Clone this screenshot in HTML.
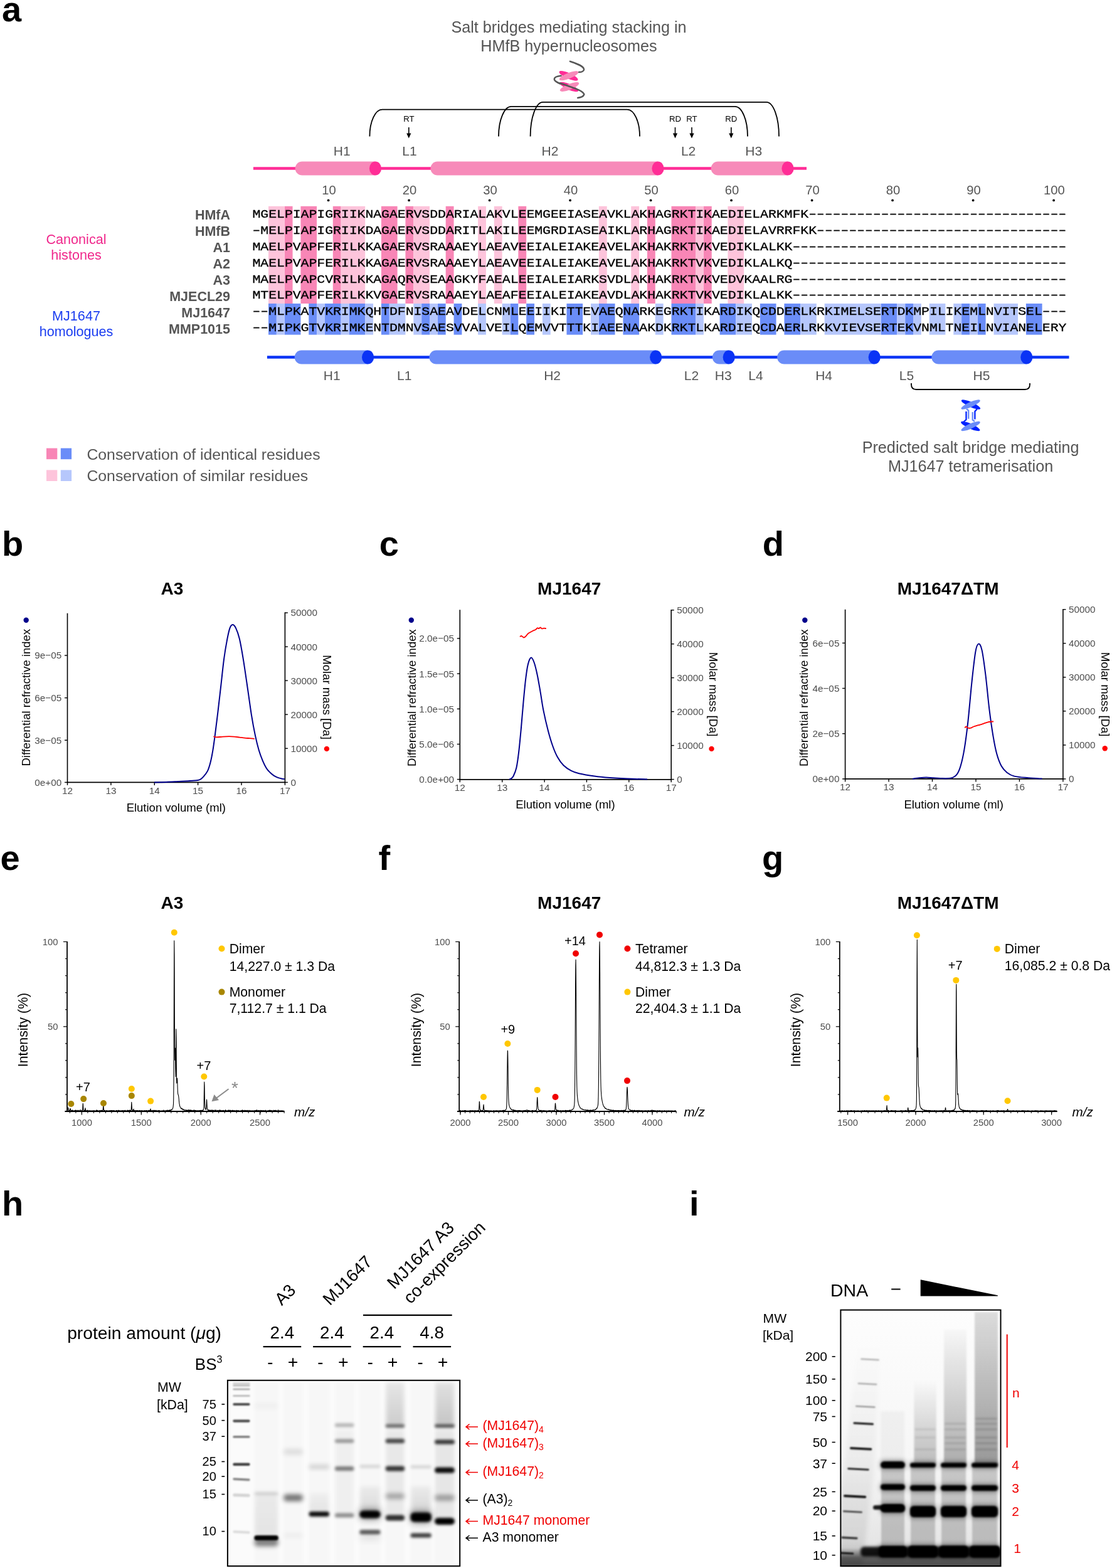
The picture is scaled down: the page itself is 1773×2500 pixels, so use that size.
<!DOCTYPE html>
<html><head><meta charset="utf-8"><title>Figure</title>
<style>
html,body{margin:0;padding:0;background:#fff;}
body{width:1773px;height:2500px;overflow:hidden;}
svg{display:block;}
</style></head><body>
<svg width="1773" height="2500" viewBox="0 0 1773 2500">
<rect width="1773" height="2500" fill="#fff"/>
<text x="3.0" y="33.5" font-size="56" fill="#000" text-anchor="start" font-weight="bold" font-family="'Liberation Sans', Arial, Helvetica, sans-serif" >a</text>
<text x="907.0" y="52.3" font-size="25.2" fill="#555" text-anchor="middle" font-weight="normal" font-family="'Liberation Sans', Arial, Helvetica, sans-serif" >Salt bridges mediating stacking in</text>
<text x="907.0" y="82.0" font-size="25.2" fill="#555" text-anchor="middle" font-weight="normal" font-family="'Liberation Sans', Arial, Helvetica, sans-serif" >HMfB hypernucleosomes</text>
<rect x="453.70" y="328.8" width="12.85" height="155.2" fill="#F886B6"/>
<rect x="479.40" y="328.8" width="25.70" height="155.2" fill="#F886B6"/>
<rect x="530.80" y="328.8" width="12.85" height="155.2" fill="#F886B6"/>
<rect x="607.90" y="328.8" width="25.70" height="155.2" fill="#F886B6"/>
<rect x="646.45" y="328.8" width="12.85" height="155.2" fill="#F886B6"/>
<rect x="710.70" y="328.8" width="12.85" height="155.2" fill="#F886B6"/>
<rect x="826.35" y="328.8" width="12.85" height="155.2" fill="#F886B6"/>
<rect x="1031.95" y="328.8" width="12.85" height="155.2" fill="#F886B6"/>
<rect x="1070.50" y="328.8" width="38.55" height="155.2" fill="#F886B6"/>
<rect x="1121.90" y="328.8" width="12.85" height="155.2" fill="#F886B6"/>
<rect x="428.00" y="328.8" width="25.70" height="155.2" fill="#FDC4DB"/>
<rect x="543.65" y="328.8" width="38.55" height="155.2" fill="#FDC4DB"/>
<rect x="659.30" y="328.8" width="25.70" height="155.2" fill="#FDC4DB"/>
<rect x="762.10" y="328.8" width="12.85" height="155.2" fill="#FDC4DB"/>
<rect x="787.80" y="328.8" width="12.85" height="155.2" fill="#FDC4DB"/>
<rect x="954.85" y="328.8" width="12.85" height="155.2" fill="#FDC4DB"/>
<rect x="1006.25" y="328.8" width="12.85" height="155.2" fill="#FDC4DB"/>
<rect x="1109.05" y="328.8" width="12.85" height="155.2" fill="#FDC4DB"/>
<rect x="1160.45" y="328.8" width="25.70" height="155.2" fill="#FDC4DB"/>
<rect x="428.00" y="484.0" width="12.85" height="49.7" fill="#6A8DF8"/>
<rect x="453.70" y="484.0" width="25.70" height="49.7" fill="#6A8DF8"/>
<rect x="492.25" y="484.0" width="12.85" height="49.7" fill="#6A8DF8"/>
<rect x="517.95" y="484.0" width="25.70" height="49.7" fill="#6A8DF8"/>
<rect x="556.50" y="484.0" width="25.70" height="49.7" fill="#6A8DF8"/>
<rect x="607.90" y="484.0" width="12.85" height="49.7" fill="#6A8DF8"/>
<rect x="672.15" y="484.0" width="12.85" height="49.7" fill="#6A8DF8"/>
<rect x="697.85" y="484.0" width="12.85" height="49.7" fill="#6A8DF8"/>
<rect x="723.55" y="484.0" width="12.85" height="49.7" fill="#6A8DF8"/>
<rect x="813.50" y="484.0" width="12.85" height="49.7" fill="#6A8DF8"/>
<rect x="839.20" y="484.0" width="12.85" height="49.7" fill="#6A8DF8"/>
<rect x="903.45" y="484.0" width="25.70" height="49.7" fill="#6A8DF8"/>
<rect x="954.85" y="484.0" width="25.70" height="49.7" fill="#6A8DF8"/>
<rect x="993.40" y="484.0" width="25.70" height="49.7" fill="#6A8DF8"/>
<rect x="1070.50" y="484.0" width="38.55" height="49.7" fill="#6A8DF8"/>
<rect x="1147.60" y="484.0" width="25.70" height="49.7" fill="#6A8DF8"/>
<rect x="1211.85" y="484.0" width="25.70" height="49.7" fill="#6A8DF8"/>
<rect x="1250.40" y="484.0" width="25.70" height="49.7" fill="#6A8DF8"/>
<rect x="1404.60" y="484.0" width="25.70" height="49.7" fill="#6A8DF8"/>
<rect x="1443.15" y="484.0" width="12.85" height="49.7" fill="#6A8DF8"/>
<rect x="1533.10" y="484.0" width="12.85" height="49.7" fill="#6A8DF8"/>
<rect x="1558.80" y="484.0" width="12.85" height="49.7" fill="#6A8DF8"/>
<rect x="1635.90" y="484.0" width="25.70" height="49.7" fill="#6A8DF8"/>
<rect x="440.85" y="484.0" width="12.85" height="49.7" fill="#B6C7FC"/>
<rect x="505.10" y="484.0" width="12.85" height="49.7" fill="#B6C7FC"/>
<rect x="543.65" y="484.0" width="12.85" height="49.7" fill="#B6C7FC"/>
<rect x="582.20" y="484.0" width="12.85" height="49.7" fill="#B6C7FC"/>
<rect x="620.75" y="484.0" width="25.70" height="49.7" fill="#B6C7FC"/>
<rect x="659.30" y="484.0" width="12.85" height="49.7" fill="#B6C7FC"/>
<rect x="685.00" y="484.0" width="12.85" height="49.7" fill="#B6C7FC"/>
<rect x="762.10" y="484.0" width="12.85" height="49.7" fill="#B6C7FC"/>
<rect x="800.65" y="484.0" width="12.85" height="49.7" fill="#B6C7FC"/>
<rect x="864.90" y="484.0" width="12.85" height="49.7" fill="#B6C7FC"/>
<rect x="942.00" y="484.0" width="12.85" height="49.7" fill="#B6C7FC"/>
<rect x="1044.80" y="484.0" width="12.85" height="49.7" fill="#B6C7FC"/>
<rect x="1109.05" y="484.0" width="12.85" height="49.7" fill="#B6C7FC"/>
<rect x="1173.30" y="484.0" width="25.70" height="49.7" fill="#B6C7FC"/>
<rect x="1276.10" y="484.0" width="25.70" height="49.7" fill="#B6C7FC"/>
<rect x="1314.65" y="484.0" width="89.95" height="49.7" fill="#B6C7FC"/>
<rect x="1430.30" y="484.0" width="12.85" height="49.7" fill="#B6C7FC"/>
<rect x="1456.00" y="484.0" width="12.85" height="49.7" fill="#B6C7FC"/>
<rect x="1481.70" y="484.0" width="25.70" height="49.7" fill="#B6C7FC"/>
<rect x="1520.25" y="484.0" width="12.85" height="49.7" fill="#B6C7FC"/>
<rect x="1545.95" y="484.0" width="12.85" height="49.7" fill="#B6C7FC"/>
<rect x="1584.50" y="484.0" width="38.55" height="49.7" fill="#B6C7FC"/>
<text x="346.98 358.06 369.14 380.22 391.29 402.37 413.45 424.53 435.60 446.68 457.76 468.84 479.91 490.99 502.07 513.15 524.22 535.30 546.38 557.46 568.53 579.61 590.69 601.77 612.84 623.92 635.00 646.08 657.16 668.23 679.31 690.39 701.47 712.54 723.62 734.70 745.78 756.85 767.93 779.01 790.09 801.16 812.24 823.32 834.40 845.47 856.55 867.63 878.71 889.78 900.86 911.94 923.02 934.09 945.17 956.25 967.33 978.41 989.48 1000.56 1011.64 1022.72 1033.79 1044.87 1055.95 1067.03 1078.10 1089.18 1100.26" y="347.4" font-size="18.6" font-family="'Liberation Mono', 'Courier New', monospace" fill="#000" stroke="#000" stroke-width="0.3" transform="scale(1.16,1)">MGELPIAPIGRIIKNAGAERVSDDARIALAKVLEEMGEEIASEAVKLAKHAGRKTIKAEDIELARKMFK</text>
<text x="747.64 755.11 762.58 770.05 777.52 784.99 792.46 799.93 807.41 814.88 822.35 829.82 837.29 844.76 852.23 859.70 867.17 874.64 882.11 889.59 897.06 904.53 912.00 919.47 926.94 934.41 941.88 949.35 956.82 964.29 971.77 979.24" y="347.4" font-size="18.6" font-family="'Liberation Mono', 'Courier New', monospace" fill="#000" stroke="#000" stroke-width="0.35" transform="scale(1.72,1)">--------------------------------</text>
<text x="367.0" y="349.6" font-size="21.5" fill="#555" text-anchor="end" font-weight="bold" font-family="'Liberation Sans', Arial, Helvetica, sans-serif" >HMfA</text>
<text x="358.06 369.14 380.22 391.29 402.37 413.45 424.53 435.60 446.68 457.76 468.84 479.91 490.99 502.07 513.15 524.22 535.30 546.38 557.46 568.53 579.61 590.69 601.77 612.84 623.92 635.00 646.08 657.16 668.23 679.31 690.39 701.47 712.54 723.62 734.70 745.78 756.85 767.93 779.01 790.09 801.16 812.24 823.32 834.40 845.47 856.55 867.63 878.71 889.78 900.86 911.94 923.02 934.09 945.17 956.25 967.33 978.41 989.48 1000.56 1011.64 1022.72 1033.79 1044.87 1055.95 1067.03 1078.10 1089.18 1100.26 1111.34" y="373.2" font-size="18.6" font-family="'Liberation Mono', 'Courier New', monospace" fill="#000" stroke="#000" stroke-width="0.3" transform="scale(1.16,1)">MELPIAPIGRIIKDAGAERVSDDARITLAKILEEMGRDIASEAIKLARHAGRKTIKAEDIELAVRRFKK</text>
<text x="232.14 755.11 762.58 770.05 777.52 784.99 792.46 799.93 807.41 814.88 822.35 829.82 837.29 844.76 852.23 859.70 867.17 874.64 882.11 889.59 897.06 904.53 912.00 919.47 926.94 934.41 941.88 949.35 956.82 964.29 971.77 979.24" y="373.2" font-size="18.6" font-family="'Liberation Mono', 'Courier New', monospace" fill="#000" stroke="#000" stroke-width="0.35" transform="scale(1.72,1)">--------------------------------</text>
<text x="367.0" y="375.7" font-size="21.5" fill="#555" text-anchor="end" font-weight="bold" font-family="'Liberation Sans', Arial, Helvetica, sans-serif" >HMfB</text>
<text x="346.98 358.06 369.14 380.22 391.29 402.37 413.45 424.53 435.60 446.68 457.76 468.84 479.91 490.99 502.07 513.15 524.22 535.30 546.38 557.46 568.53 579.61 590.69 601.77 612.84 623.92 635.00 646.08 657.16 668.23 679.31 690.39 701.47 712.54 723.62 734.70 745.78 756.85 767.93 779.01 790.09 801.16 812.24 823.32 834.40 845.47 856.55 867.63 878.71 889.78 900.86 911.94 923.02 934.09 945.17 956.25 967.33 978.41 989.48 1000.56 1011.64 1022.72 1033.79 1044.87 1055.95 1067.03 1078.10" y="399.0" font-size="18.6" font-family="'Liberation Mono', 'Courier New', monospace" fill="#000" stroke="#000" stroke-width="0.3" transform="scale(1.16,1)">MAELPVAPFERILKKAGAERVSRAAAEYLAEAVEEIALEIAKEAVELAKHAKRKTVKVEDIKLALKK</text>
<text x="732.70 740.17 747.64 755.11 762.58 770.05 777.52 784.99 792.46 799.93 807.41 814.88 822.35 829.82 837.29 844.76 852.23 859.70 867.17 874.64 882.11 889.59 897.06 904.53 912.00 919.47 926.94 934.41 941.88 949.35 956.82 964.29 971.77 979.24" y="399.0" font-size="18.6" font-family="'Liberation Mono', 'Courier New', monospace" fill="#000" stroke="#000" stroke-width="0.35" transform="scale(1.72,1)">----------------------------------</text>
<text x="367.0" y="401.8" font-size="21.5" fill="#555" text-anchor="end" font-weight="bold" font-family="'Liberation Sans', Arial, Helvetica, sans-serif" >A1</text>
<text x="346.98 358.06 369.14 380.22 391.29 402.37 413.45 424.53 435.60 446.68 457.76 468.84 479.91 490.99 502.07 513.15 524.22 535.30 546.38 557.46 568.53 579.61 590.69 601.77 612.84 623.92 635.00 646.08 657.16 668.23 679.31 690.39 701.47 712.54 723.62 734.70 745.78 756.85 767.93 779.01 790.09 801.16 812.24 823.32 834.40 845.47 856.55 867.63 878.71 889.78 900.86 911.94 923.02 934.09 945.17 956.25 967.33 978.41 989.48 1000.56 1011.64 1022.72 1033.79 1044.87 1055.95 1067.03 1078.10" y="424.9" font-size="18.6" font-family="'Liberation Mono', 'Courier New', monospace" fill="#000" stroke="#000" stroke-width="0.3" transform="scale(1.16,1)">MAELPVAPFERILKKAGAERVSRAAAEYLAEAVEEIALEIAKEAVELAKHAKRKTVKVEDIKLALKQ</text>
<text x="732.70 740.17 747.64 755.11 762.58 770.05 777.52 784.99 792.46 799.93 807.41 814.88 822.35 829.82 837.29 844.76 852.23 859.70 867.17 874.64 882.11 889.59 897.06 904.53 912.00 919.47 926.94 934.41 941.88 949.35 956.82 964.29 971.77 979.24" y="424.9" font-size="18.6" font-family="'Liberation Mono', 'Courier New', monospace" fill="#000" stroke="#000" stroke-width="0.35" transform="scale(1.72,1)">----------------------------------</text>
<text x="367.0" y="427.9" font-size="21.5" fill="#555" text-anchor="end" font-weight="bold" font-family="'Liberation Sans', Arial, Helvetica, sans-serif" >A2</text>
<text x="346.98 358.06 369.14 380.22 391.29 402.37 413.45 424.53 435.60 446.68 457.76 468.84 479.91 490.99 502.07 513.15 524.22 535.30 546.38 557.46 568.53 579.61 590.69 601.77 612.84 623.92 635.00 646.08 657.16 668.23 679.31 690.39 701.47 712.54 723.62 734.70 745.78 756.85 767.93 779.01 790.09 801.16 812.24 823.32 834.40 845.47 856.55 867.63 878.71 889.78 900.86 911.94 923.02 934.09 945.17 956.25 967.33 978.41 989.48 1000.56 1011.64 1022.72 1033.79 1044.87 1055.95 1067.03 1078.10" y="450.7" font-size="18.6" font-family="'Liberation Mono', 'Courier New', monospace" fill="#000" stroke="#000" stroke-width="0.3" transform="scale(1.16,1)">MAELPVAPCVRILKKAGAQRVSEAAGKYFAEALEEIALEIARKSVDLAKHAKRKTVKVEDVKAALRG</text>
<text x="732.70 740.17 747.64 755.11 762.58 770.05 777.52 784.99 792.46 799.93 807.41 814.88 822.35 829.82 837.29 844.76 852.23 859.70 867.17 874.64 882.11 889.59 897.06 904.53 912.00 919.47 926.94 934.41 941.88 949.35 956.82 964.29 971.77 979.24" y="450.7" font-size="18.6" font-family="'Liberation Mono', 'Courier New', monospace" fill="#000" stroke="#000" stroke-width="0.35" transform="scale(1.72,1)">----------------------------------</text>
<text x="367.0" y="454.0" font-size="21.5" fill="#555" text-anchor="end" font-weight="bold" font-family="'Liberation Sans', Arial, Helvetica, sans-serif" >A3</text>
<text x="346.98 358.06 369.14 380.22 391.29 402.37 413.45 424.53 435.60 446.68 457.76 468.84 479.91 490.99 502.07 513.15 524.22 535.30 546.38 557.46 568.53 579.61 590.69 601.77 612.84 623.92 635.00 646.08 657.16 668.23 679.31 690.39 701.47 712.54 723.62 734.70 745.78 756.85 767.93 779.01 790.09 801.16 812.24 823.32 834.40 845.47 856.55 867.63 878.71 889.78 900.86 911.94 923.02 934.09 945.17 956.25 967.33 978.41 989.48 1000.56 1011.64 1022.72 1033.79 1044.87 1055.95 1067.03 1078.10" y="476.5" font-size="18.6" font-family="'Liberation Mono', 'Courier New', monospace" fill="#000" stroke="#000" stroke-width="0.3" transform="scale(1.16,1)">MTELPVAPFERILKKVGAERVSRAAAEYLAEAFEEIALEIAKEAVDLAKHAKRKTVKVEDIKLALKK</text>
<text x="732.70 740.17 747.64 755.11 762.58 770.05 777.52 784.99 792.46 799.93 807.41 814.88 822.35 829.82 837.29 844.76 852.23 859.70 867.17 874.64 882.11 889.59 897.06 904.53 912.00 919.47 926.94 934.41 941.88 949.35 956.82 964.29 971.77 979.24" y="476.5" font-size="18.6" font-family="'Liberation Mono', 'Courier New', monospace" fill="#000" stroke="#000" stroke-width="0.35" transform="scale(1.72,1)">----------------------------------</text>
<text x="367.0" y="480.1" font-size="21.5" fill="#555" text-anchor="end" font-weight="bold" font-family="'Liberation Sans', Arial, Helvetica, sans-serif" >MJECL29</text>
<text x="369.14 380.22 391.29 402.37 413.45 424.53 435.60 446.68 457.76 468.84 479.91 490.99 502.07 513.15 524.22 535.30 546.38 557.46 568.53 579.61 590.69 601.77 612.84 623.92 635.00 646.08 657.16 668.23 679.31 690.39 701.47 712.54 723.62 734.70 745.78 756.85 767.93 779.01 790.09 801.16 812.24 823.32 834.40 845.47 856.55 867.63 878.71 889.78 900.86 911.94 923.02 934.09 945.17 956.25 967.33 978.41 989.48 1000.56 1011.64 1022.72 1033.79 1044.87 1055.95 1067.03 1078.10 1089.18 1100.26 1111.34 1122.41 1133.49 1144.57 1155.65 1166.72 1177.80 1188.88 1199.96 1211.03 1222.11 1233.19 1244.27 1255.34 1266.42 1277.50 1288.58 1299.66 1310.73 1321.81 1332.89 1343.97 1355.04 1366.12 1377.20 1388.28 1399.35 1410.43 1421.51" y="502.3" font-size="18.6" font-family="'Liberation Mono', 'Courier New', monospace" fill="#000" stroke="#000" stroke-width="0.3" transform="scale(1.16,1)">MLPKATVKRIMKQHTDFNISAEAVDELCNMLEEIIKITTEVAEQNARKEGRKTIKARDIKQCDDERLKRKIMELSERTDKMPILIKEMLNVITSEL</text>
<text x="232.14 239.61 964.29 971.77 979.24" y="502.3" font-size="18.6" font-family="'Liberation Mono', 'Courier New', monospace" fill="#000" stroke="#000" stroke-width="0.35" transform="scale(1.72,1)">-----</text>
<text x="367.0" y="506.2" font-size="21.5" fill="#555" text-anchor="end" font-weight="bold" font-family="'Liberation Sans', Arial, Helvetica, sans-serif" >MJ1647</text>
<text x="369.14 380.22 391.29 402.37 413.45 424.53 435.60 446.68 457.76 468.84 479.91 490.99 502.07 513.15 524.22 535.30 546.38 557.46 568.53 579.61 590.69 601.77 612.84 623.92 635.00 646.08 657.16 668.23 679.31 690.39 701.47 712.54 723.62 734.70 745.78 756.85 767.93 779.01 790.09 801.16 812.24 823.32 834.40 845.47 856.55 867.63 878.71 889.78 900.86 911.94 923.02 934.09 945.17 956.25 967.33 978.41 989.48 1000.56 1011.64 1022.72 1033.79 1044.87 1055.95 1067.03 1078.10 1089.18 1100.26 1111.34 1122.41 1133.49 1144.57 1155.65 1166.72 1177.80 1188.88 1199.96 1211.03 1222.11 1233.19 1244.27 1255.34 1266.42 1277.50 1288.58 1299.66 1310.73 1321.81 1332.89 1343.97 1355.04 1366.12 1377.20 1388.28 1399.35 1410.43 1421.51 1432.59 1443.66 1454.74" y="528.1" font-size="18.6" font-family="'Liberation Mono', 'Courier New', monospace" fill="#000" stroke="#000" stroke-width="0.3" transform="scale(1.16,1)">MIPKGTVKRIMKENTDMNVSAESVVALVEILQEMVVTTTKIAEENAAKDKRKTLKARDIEQCDAERLRKKVIEVSERTEKVNMLTNEILNVIANELERY</text>
<text x="232.14 239.61" y="528.1" font-size="18.6" font-family="'Liberation Mono', 'Courier New', monospace" fill="#000" stroke="#000" stroke-width="0.35" transform="scale(1.72,1)">--</text>
<text x="367.0" y="532.3" font-size="21.5" fill="#555" text-anchor="end" font-weight="bold" font-family="'Liberation Sans', Arial, Helvetica, sans-serif" >MMP1015</text>
<text x="121.5" y="388.5" font-size="21.6" fill="#F0288C" text-anchor="middle" font-weight="normal" font-family="'Liberation Sans', Arial, Helvetica, sans-serif" >Canonical</text>
<text x="121.5" y="414.4" font-size="21.6" fill="#F0288C" text-anchor="middle" font-weight="normal" font-family="'Liberation Sans', Arial, Helvetica, sans-serif" >histones</text>
<text x="121.5" y="510.8" font-size="21.6" fill="#1A3CF0" text-anchor="middle" font-weight="normal" font-family="'Liberation Sans', Arial, Helvetica, sans-serif" >MJ1647</text>
<text x="121.5" y="535.9" font-size="21.6" fill="#1A3CF0" text-anchor="middle" font-weight="normal" font-family="'Liberation Sans', Arial, Helvetica, sans-serif" >homologues</text>
<text x="524.4" y="309.5" font-size="20.2" fill="#555" text-anchor="middle" font-weight="normal" font-family="'Liberation Sans', Arial, Helvetica, sans-serif" >10</text>
<circle cx="523.6" cy="319.4" r="1.9" fill="#000"/>
<text x="652.9" y="309.5" font-size="20.2" fill="#555" text-anchor="middle" font-weight="normal" font-family="'Liberation Sans', Arial, Helvetica, sans-serif" >20</text>
<circle cx="652.1" cy="319.4" r="1.9" fill="#000"/>
<text x="781.4" y="309.5" font-size="20.2" fill="#555" text-anchor="middle" font-weight="normal" font-family="'Liberation Sans', Arial, Helvetica, sans-serif" >30</text>
<circle cx="780.6" cy="319.4" r="1.9" fill="#000"/>
<text x="909.9" y="309.5" font-size="20.2" fill="#555" text-anchor="middle" font-weight="normal" font-family="'Liberation Sans', Arial, Helvetica, sans-serif" >40</text>
<circle cx="909.1" cy="319.4" r="1.9" fill="#000"/>
<text x="1038.4" y="309.5" font-size="20.2" fill="#555" text-anchor="middle" font-weight="normal" font-family="'Liberation Sans', Arial, Helvetica, sans-serif" >50</text>
<circle cx="1037.6" cy="319.4" r="1.9" fill="#000"/>
<text x="1166.9" y="309.5" font-size="20.2" fill="#555" text-anchor="middle" font-weight="normal" font-family="'Liberation Sans', Arial, Helvetica, sans-serif" >60</text>
<circle cx="1166.1" cy="319.4" r="1.9" fill="#000"/>
<text x="1295.4" y="309.5" font-size="20.2" fill="#555" text-anchor="middle" font-weight="normal" font-family="'Liberation Sans', Arial, Helvetica, sans-serif" >70</text>
<circle cx="1294.6" cy="319.4" r="1.9" fill="#000"/>
<text x="1423.9" y="309.5" font-size="20.2" fill="#555" text-anchor="middle" font-weight="normal" font-family="'Liberation Sans', Arial, Helvetica, sans-serif" >80</text>
<circle cx="1423.1" cy="319.4" r="1.9" fill="#000"/>
<text x="1552.4" y="309.5" font-size="20.2" fill="#555" text-anchor="middle" font-weight="normal" font-family="'Liberation Sans', Arial, Helvetica, sans-serif" >90</text>
<circle cx="1551.6" cy="319.4" r="1.9" fill="#000"/>
<text x="1680.9" y="309.5" font-size="20.2" fill="#555" text-anchor="middle" font-weight="normal" font-family="'Liberation Sans', Arial, Helvetica, sans-serif" >100</text>
<circle cx="1680.1" cy="319.4" r="1.9" fill="#000"/>
<line x1="403.9" y1="268.5" x2="1286" y2="268.5" stroke="#FF2D96" stroke-width="4.6"/>
<path d="M481.8,257.4 H598.5 V279.6 H481.8 A11.1,11.1 0 0 1 481.8,257.4 Z" fill="#F78AB9"/>
<ellipse cx="598.5" cy="268.5" rx="9.6" ry="11.1" fill="#FF2D96"/>
<path d="M697.6,257.4 H1049.0 V279.6 H697.6 A11.1,11.1 0 0 1 697.6,257.4 Z" fill="#F78AB9"/>
<ellipse cx="1049.0" cy="268.5" rx="9.6" ry="11.1" fill="#FF2D96"/>
<path d="M1144.8,257.4 H1256.0 V279.6 H1144.8 A11.1,11.1 0 0 1 1144.8,257.4 Z" fill="#F78AB9"/>
<ellipse cx="1256.0" cy="268.5" rx="9.6" ry="11.1" fill="#FF2D96"/>
<text x="545.3" y="247.6" font-size="21" fill="#555" text-anchor="middle" font-weight="normal" font-family="'Liberation Sans', Arial, Helvetica, sans-serif" >H1</text>
<text x="653.0" y="247.6" font-size="21" fill="#555" text-anchor="middle" font-weight="normal" font-family="'Liberation Sans', Arial, Helvetica, sans-serif" >L1</text>
<text x="877.0" y="247.6" font-size="21" fill="#555" text-anchor="middle" font-weight="normal" font-family="'Liberation Sans', Arial, Helvetica, sans-serif" >H2</text>
<text x="1097.6" y="247.6" font-size="21" fill="#555" text-anchor="middle" font-weight="normal" font-family="'Liberation Sans', Arial, Helvetica, sans-serif" >L2</text>
<text x="1201.7" y="247.6" font-size="21" fill="#555" text-anchor="middle" font-weight="normal" font-family="'Liberation Sans', Arial, Helvetica, sans-serif" >H3</text>
<text x="651.8" y="194.0" font-size="13.2" fill="#000" text-anchor="middle" font-weight="normal" font-family="'Liberation Sans', Arial, Helvetica, sans-serif" >RT</text>
<line x1="651.8" y1="203" x2="651.8" y2="214" stroke="#000" stroke-width="1.6"/>
<path d="M648.2,212.5 L655.4,212.5 L651.8,220.5 Z" fill="#000"/>
<text x="1076.5" y="194.0" font-size="13.2" fill="#000" text-anchor="middle" font-weight="normal" font-family="'Liberation Sans', Arial, Helvetica, sans-serif" >RD</text>
<line x1="1076.5" y1="203" x2="1076.5" y2="214" stroke="#000" stroke-width="1.6"/>
<path d="M1072.9,212.5 L1080.1,212.5 L1076.5,220.5 Z" fill="#000"/>
<text x="1103.0" y="194.0" font-size="13.2" fill="#000" text-anchor="middle" font-weight="normal" font-family="'Liberation Sans', Arial, Helvetica, sans-serif" >RT</text>
<line x1="1103.0" y1="203" x2="1103.0" y2="214" stroke="#000" stroke-width="1.6"/>
<path d="M1099.4,212.5 L1106.6,212.5 L1103.0,220.5 Z" fill="#000"/>
<text x="1165.8" y="194.0" font-size="13.2" fill="#000" text-anchor="middle" font-weight="normal" font-family="'Liberation Sans', Arial, Helvetica, sans-serif" >RD</text>
<line x1="1165.8" y1="203" x2="1165.8" y2="214" stroke="#000" stroke-width="1.6"/>
<path d="M1162.2,212.5 L1169.4,212.5 L1165.8,220.5 Z" fill="#000"/>
<path d="M589.4,217.5 A20,42.8 0 0 1 609.4,174.7 H1000 A20,42.8 0 0 1 1020,217.5" fill="none" stroke="#000" stroke-width="1.8"/>
<path d="M795,217.5 A20,47.6 0 0 1 815,169.9 H1172 A20,47.6 0 0 1 1192,217.5" fill="none" stroke="#000" stroke-width="1.8"/>
<path d="M845.6,217.5 A20,54.7 0 0 1 865.6,162.8 H1222 A20,54.7 0 0 1 1242,217.5" fill="none" stroke="#000" stroke-width="1.8"/>
<g>
<ellipse cx="906.5" cy="120.8" rx="16.3" ry="4.6" transform="rotate(24 906.5 120.8)" fill="#FF2D96"/>
<path d="M908.9,97.9 C918,101 931,105 931.1,110.7 C931,113.5 927,115 923.2,115.1" fill="none" stroke="#555" stroke-width="2.5" stroke-linecap="round"/>
<path d="M894.6,120.8 C888,121.5 883.5,123.5 883.8,126.5 C884.5,131 897,135 904.5,136.8" fill="none" stroke="#555" stroke-width="2.5" stroke-linecap="round"/>
<ellipse cx="907" cy="120.8" rx="16.3" ry="4.6" transform="rotate(-22 907 120.8)" fill="#F78AB9"/>
<ellipse cx="907.5" cy="138.5" rx="16" ry="4.6" transform="rotate(24 907.5 138.5)" fill="#FF2D96"/>
<ellipse cx="908" cy="138.5" rx="16.3" ry="4.6" transform="rotate(-22 908 138.5)" fill="#F78AB9"/>
<path d="M893,132.5 C905,137 918,141 924,144 C930,147 931.5,150 931.1,151 C930,154 925,155.5 921.2,156" fill="none" stroke="#555" stroke-width="2.5" stroke-linecap="round"/>
</g>
<line x1="425.9" y1="569.5" x2="1704.5" y2="569.5" stroke="#0A33F5" stroke-width="4.6"/>
<path d="M480.8,558.4 H586.6 V580.6 H480.8 A11.1,11.1 0 0 1 480.8,558.4 Z" fill="#6A8CF8"/>
<ellipse cx="586.6" cy="569.5" rx="9.6" ry="11.1" fill="#0A33F5"/>
<path d="M695.5,558.4 H1045.7 V580.6 H695.5 A11.1,11.1 0 0 1 695.5,558.4 Z" fill="#6A8CF8"/>
<ellipse cx="1045.7" cy="569.5" rx="9.6" ry="11.1" fill="#0A33F5"/>
<path d="M1146.9,558.4 H1162.2 V580.6 H1146.9 A11.1,11.1 0 0 1 1146.9,558.4 Z" fill="#6A8CF8"/>
<ellipse cx="1162.2" cy="569.5" rx="9.6" ry="11.1" fill="#0A33F5"/>
<path d="M1250.2,558.4 H1394.2 V580.6 H1250.2 A11.1,11.1 0 0 1 1250.2,558.4 Z" fill="#6A8CF8"/>
<ellipse cx="1394.2" cy="569.5" rx="9.6" ry="11.1" fill="#0A33F5"/>
<path d="M1496.4,558.4 H1636.8 V580.6 H1496.4 A11.1,11.1 0 0 1 1496.4,558.4 Z" fill="#6A8CF8"/>
<ellipse cx="1636.8" cy="569.5" rx="9.6" ry="11.1" fill="#0A33F5"/>
<text x="529.3" y="605.5" font-size="21" fill="#555" text-anchor="middle" font-weight="normal" font-family="'Liberation Sans', Arial, Helvetica, sans-serif" >H1</text>
<text x="644.8" y="605.5" font-size="21" fill="#555" text-anchor="middle" font-weight="normal" font-family="'Liberation Sans', Arial, Helvetica, sans-serif" >L1</text>
<text x="880.6" y="605.5" font-size="21" fill="#555" text-anchor="middle" font-weight="normal" font-family="'Liberation Sans', Arial, Helvetica, sans-serif" >H2</text>
<text x="1102.5" y="605.5" font-size="21" fill="#555" text-anchor="middle" font-weight="normal" font-family="'Liberation Sans', Arial, Helvetica, sans-serif" >L2</text>
<text x="1153.3" y="605.5" font-size="21" fill="#555" text-anchor="middle" font-weight="normal" font-family="'Liberation Sans', Arial, Helvetica, sans-serif" >H3</text>
<text x="1205.0" y="605.5" font-size="21" fill="#555" text-anchor="middle" font-weight="normal" font-family="'Liberation Sans', Arial, Helvetica, sans-serif" >L4</text>
<text x="1313.6" y="605.5" font-size="21" fill="#555" text-anchor="middle" font-weight="normal" font-family="'Liberation Sans', Arial, Helvetica, sans-serif" >H4</text>
<text x="1445.4" y="605.5" font-size="21" fill="#555" text-anchor="middle" font-weight="normal" font-family="'Liberation Sans', Arial, Helvetica, sans-serif" >L5</text>
<text x="1565.0" y="605.5" font-size="21" fill="#555" text-anchor="middle" font-weight="normal" font-family="'Liberation Sans', Arial, Helvetica, sans-serif" >H5</text>
<path d="M1453,611 V613 Q1453,621 1461,621 H1634 Q1642,621 1642,613 V611" fill="none" stroke="#000" stroke-width="1.8"/>
<g>
<ellipse cx="1548" cy="645" rx="16.5" ry="4" transform="rotate(24 1548 645)" fill="#0022FF"/>
<ellipse cx="1547.6" cy="645" rx="16.5" ry="4" transform="rotate(-24 1547.6 645)" fill="#6A8CF8"/>
<ellipse cx="1547.3" cy="679.5" rx="16.5" ry="4" transform="rotate(24 1547.3 679.5)" fill="#0022FF"/>
<ellipse cx="1547.6" cy="679.5" rx="16.5" ry="4" transform="rotate(-24 1547.6 679.5)" fill="#6A8CF8"/>
<path d="M1540.5,656 V669 L1536,673" fill="none" stroke="#0022FF" stroke-width="2.3"/>
<path d="M1554.4,668.5 V656 L1558,652" fill="none" stroke="#0022FF" stroke-width="2.3"/>
<path d="M1544.2,667.7 V654.5 L1541,652" fill="none" stroke="#6A8CF8" stroke-width="2.3"/>
<path d="M1550.7,657 V669.5 L1554,672" fill="none" stroke="#6A8CF8" stroke-width="2.3"/>
</g>
<text x="1547.6" y="722.4" font-size="25.2" fill="#555" text-anchor="middle" font-weight="normal" font-family="'Liberation Sans', Arial, Helvetica, sans-serif" >Predicted salt bridge mediating</text>
<text x="1547.6" y="752.3" font-size="25.2" fill="#555" text-anchor="middle" font-weight="normal" font-family="'Liberation Sans', Arial, Helvetica, sans-serif" >MJ1647 tetramerisation</text>
<rect x="74" y="714.6" width="17.3" height="17.6" fill="#F886B6"/>
<rect x="96.8" y="714.6" width="17.3" height="17.6" fill="#6A8DF8"/>
<rect x="74" y="749.4" width="17.3" height="17.6" fill="#FDC4DB"/>
<rect x="96.8" y="749.4" width="17.3" height="17.6" fill="#B6C7FC"/>
<text x="138.4" y="732.5" font-size="24.8" fill="#555" text-anchor="start" font-weight="normal" font-family="'Liberation Sans', Arial, Helvetica, sans-serif" >Conservation of identical residues</text>
<text x="138.4" y="767.0" font-size="24.8" fill="#555" text-anchor="start" font-weight="normal" font-family="'Liberation Sans', Arial, Helvetica, sans-serif" >Conservation of similar residues</text>
<text x="3.0" y="885.5" font-size="56" fill="#000" text-anchor="start" font-weight="bold" font-family="'Liberation Sans', Arial, Helvetica, sans-serif" >b</text>
<text x="274.5" y="947.5" font-size="28" fill="#000" text-anchor="middle" font-weight="bold" font-family="'Liberation Sans', Arial, Helvetica, sans-serif" >A3</text>
<line x1="107.5" y1="977.8" x2="107.5" y2="1248.4" stroke="#000" stroke-width="1.6"/>
<line x1="454.4" y1="976.2" x2="454.4" y2="1248.4" stroke="#000" stroke-width="1.6"/>
<line x1="106.7" y1="1247.4" x2="455.2" y2="1247.4" stroke="#000" stroke-width="1.8"/>
<line x1="107.5" y1="1247.4" x2="107.5" y2="1251.9" stroke="#000" stroke-width="1.4"/>
<text x="107.5" y="1265.9" font-size="15.3" fill="#4D4D4D" text-anchor="middle" font-weight="normal" font-family="'Liberation Sans', Arial, Helvetica, sans-serif" >12</text>
<line x1="176.9" y1="1247.4" x2="176.9" y2="1251.9" stroke="#000" stroke-width="1.4"/>
<text x="176.9" y="1265.9" font-size="15.3" fill="#4D4D4D" text-anchor="middle" font-weight="normal" font-family="'Liberation Sans', Arial, Helvetica, sans-serif" >13</text>
<line x1="246.3" y1="1247.4" x2="246.3" y2="1251.9" stroke="#000" stroke-width="1.4"/>
<text x="246.3" y="1265.9" font-size="15.3" fill="#4D4D4D" text-anchor="middle" font-weight="normal" font-family="'Liberation Sans', Arial, Helvetica, sans-serif" >14</text>
<line x1="315.6" y1="1247.4" x2="315.6" y2="1251.9" stroke="#000" stroke-width="1.4"/>
<text x="315.6" y="1265.9" font-size="15.3" fill="#4D4D4D" text-anchor="middle" font-weight="normal" font-family="'Liberation Sans', Arial, Helvetica, sans-serif" >15</text>
<line x1="385.0" y1="1247.4" x2="385.0" y2="1251.9" stroke="#000" stroke-width="1.4"/>
<text x="385.0" y="1265.9" font-size="15.3" fill="#4D4D4D" text-anchor="middle" font-weight="normal" font-family="'Liberation Sans', Arial, Helvetica, sans-serif" >16</text>
<line x1="454.4" y1="1247.4" x2="454.4" y2="1251.9" stroke="#000" stroke-width="1.4"/>
<text x="454.4" y="1265.9" font-size="15.3" fill="#4D4D4D" text-anchor="middle" font-weight="normal" font-family="'Liberation Sans', Arial, Helvetica, sans-serif" >17</text>
<line x1="103.0" y1="1247.4" x2="107.5" y2="1247.4" stroke="#000" stroke-width="1.4"/>
<text x="98.3" y="1252.8" font-size="15.3" fill="#4D4D4D" text-anchor="end" font-weight="normal" font-family="'Liberation Sans', Arial, Helvetica, sans-serif" >0e+00</text>
<line x1="103.0" y1="1180.2" x2="107.5" y2="1180.2" stroke="#000" stroke-width="1.4"/>
<text x="98.3" y="1185.6" font-size="15.3" fill="#4D4D4D" text-anchor="end" font-weight="normal" font-family="'Liberation Sans', Arial, Helvetica, sans-serif" >3e−05</text>
<line x1="103.0" y1="1112.6" x2="107.5" y2="1112.6" stroke="#000" stroke-width="1.4"/>
<text x="98.3" y="1118.0" font-size="15.3" fill="#4D4D4D" text-anchor="end" font-weight="normal" font-family="'Liberation Sans', Arial, Helvetica, sans-serif" >6e−05</text>
<line x1="103.0" y1="1045.0" x2="107.5" y2="1045.0" stroke="#000" stroke-width="1.4"/>
<text x="98.3" y="1050.4" font-size="15.3" fill="#4D4D4D" text-anchor="end" font-weight="normal" font-family="'Liberation Sans', Arial, Helvetica, sans-serif" >9e−05</text>
<line x1="454.4" y1="1247.4" x2="458.9" y2="1247.4" stroke="#000" stroke-width="1.4"/>
<text x="463.4" y="1252.8" font-size="15.3" fill="#4D4D4D" text-anchor="start" font-weight="normal" font-family="'Liberation Sans', Arial, Helvetica, sans-serif" >0</text>
<line x1="454.4" y1="1193.3" x2="458.9" y2="1193.3" stroke="#000" stroke-width="1.4"/>
<text x="463.4" y="1198.7" font-size="15.3" fill="#4D4D4D" text-anchor="start" font-weight="normal" font-family="'Liberation Sans', Arial, Helvetica, sans-serif" >10000</text>
<line x1="454.4" y1="1139.2" x2="458.9" y2="1139.2" stroke="#000" stroke-width="1.4"/>
<text x="463.4" y="1144.6" font-size="15.3" fill="#4D4D4D" text-anchor="start" font-weight="normal" font-family="'Liberation Sans', Arial, Helvetica, sans-serif" >20000</text>
<line x1="454.4" y1="1085.1" x2="458.9" y2="1085.1" stroke="#000" stroke-width="1.4"/>
<text x="463.4" y="1090.5" font-size="15.3" fill="#4D4D4D" text-anchor="start" font-weight="normal" font-family="'Liberation Sans', Arial, Helvetica, sans-serif" >30000</text>
<line x1="454.4" y1="1031.1" x2="458.9" y2="1031.1" stroke="#000" stroke-width="1.4"/>
<text x="463.4" y="1036.5" font-size="15.3" fill="#4D4D4D" text-anchor="start" font-weight="normal" font-family="'Liberation Sans', Arial, Helvetica, sans-serif" >40000</text>
<line x1="454.4" y1="977.0" x2="458.9" y2="977.0" stroke="#000" stroke-width="1.4"/>
<text x="463.4" y="982.4" font-size="15.3" fill="#4D4D4D" text-anchor="start" font-weight="normal" font-family="'Liberation Sans', Arial, Helvetica, sans-serif" >50000</text>
<text x="0" y="0" font-size="18.5" font-family="'Liberation Sans', Arial, Helvetica, sans-serif" fill="#000" text-anchor="middle" transform="translate(47.9,1112.2) rotate(-90)">Differential refractive index</text>
<circle cx="41.7" cy="988.8" r="4.2" fill="#00008B"/>
<text x="0" y="0" font-size="18.5" font-family="'Liberation Sans', Arial, Helvetica, sans-serif" fill="#000" text-anchor="middle" transform="translate(515.1,1111.7) rotate(90)">Molar mass [Da]</text>
<circle cx="520.9" cy="1193.9" r="4.2" fill="#FF0000"/>
<text x="280.8" y="1294.1" font-size="18.5" fill="#000" text-anchor="middle" font-weight="normal" font-family="'Liberation Sans', Arial, Helvetica, sans-serif" >Elution volume (ml)</text>
<path d="M246.00,1247.40 C249.17,1247.32 259.17,1247.10 265.00,1246.90 C270.83,1246.70 275.17,1246.48 281.00,1246.20 C286.83,1245.92 295.17,1245.47 300.00,1245.20 C304.83,1244.93 307.43,1244.80 310.00,1244.60 C312.57,1244.40 313.82,1244.33 315.40,1244.00 C316.98,1243.67 318.10,1243.45 319.50,1242.60 C320.90,1241.75 321.90,1241.10 323.80,1238.90 C325.70,1236.70 328.93,1233.35 330.90,1229.40 C332.87,1225.45 334.22,1220.53 335.60,1215.20 C336.98,1209.87 338.00,1204.53 339.20,1197.40 C340.40,1190.27 341.42,1182.90 342.80,1172.40 C344.18,1161.90 345.92,1147.67 347.50,1134.40 C349.08,1121.13 350.72,1106.65 352.30,1092.80 C353.88,1078.95 355.42,1063.17 357.00,1051.30 C358.58,1039.43 360.22,1029.92 361.80,1021.60 C363.38,1013.28 364.98,1005.67 366.50,1001.40 C368.02,997.13 369.32,996.00 370.90,996.00 C372.48,996.00 374.15,997.53 376.00,1001.40 C377.85,1005.27 380.02,1010.88 382.00,1019.20 C383.98,1027.52 385.73,1038.03 387.90,1051.30 C390.07,1064.57 392.82,1083.95 395.00,1098.80 C397.18,1113.65 399.02,1128.13 401.00,1140.40 C402.98,1152.67 404.93,1163.10 406.90,1172.40 C408.87,1181.70 410.82,1189.47 412.80,1196.20 C414.78,1202.93 416.82,1208.05 418.80,1212.80 C420.78,1217.55 422.72,1221.53 424.70,1224.70 C426.68,1227.87 428.72,1229.82 430.70,1231.80 C432.68,1233.78 434.63,1235.30 436.60,1236.60 C438.57,1237.90 440.60,1238.83 442.50,1239.60 C444.40,1240.37 446.08,1240.75 448.00,1241.20 C449.92,1241.65 453.00,1242.12 454.00,1242.30" fill="none" stroke="#00008B" stroke-width="2"/>
<path d="M340.40,1174.20 C341.18,1174.40 342.67,1175.33 345.10,1175.40 C347.53,1175.47 351.63,1174.80 355.00,1174.60 C358.37,1174.40 362.20,1174.20 365.30,1174.20 C368.40,1174.20 370.82,1174.37 373.60,1174.60 C376.38,1174.83 379.22,1175.27 382.00,1175.60 C384.78,1175.93 387.63,1176.33 390.30,1176.60 C392.97,1176.87 395.43,1177.00 398.00,1177.20 C400.57,1177.40 404.42,1177.70 405.70,1177.80" fill="none" stroke="#FF0000" stroke-width="1.8"/>
<text x="604.8" y="885.5" font-size="56" fill="#000" text-anchor="start" font-weight="bold" font-family="'Liberation Sans', Arial, Helvetica, sans-serif" >c</text>
<text x="907.7" y="947.5" font-size="28" fill="#000" text-anchor="middle" font-weight="bold" font-family="'Liberation Sans', Arial, Helvetica, sans-serif" >MJ1647</text>
<line x1="733.3" y1="972.2" x2="733.3" y2="1243.8" stroke="#000" stroke-width="1.6"/>
<line x1="1070.2" y1="971.9000000000001" x2="1070.2" y2="1243.8" stroke="#000" stroke-width="1.6"/>
<line x1="732.5" y1="1242.8" x2="1071.0" y2="1242.8" stroke="#000" stroke-width="1.8"/>
<line x1="733.3" y1="1242.8" x2="733.3" y2="1247.3" stroke="#000" stroke-width="1.4"/>
<text x="733.3" y="1261.3" font-size="15.3" fill="#4D4D4D" text-anchor="middle" font-weight="normal" font-family="'Liberation Sans', Arial, Helvetica, sans-serif" >12</text>
<line x1="800.7" y1="1242.8" x2="800.7" y2="1247.3" stroke="#000" stroke-width="1.4"/>
<text x="800.7" y="1261.3" font-size="15.3" fill="#4D4D4D" text-anchor="middle" font-weight="normal" font-family="'Liberation Sans', Arial, Helvetica, sans-serif" >13</text>
<line x1="868.1" y1="1242.8" x2="868.1" y2="1247.3" stroke="#000" stroke-width="1.4"/>
<text x="868.1" y="1261.3" font-size="15.3" fill="#4D4D4D" text-anchor="middle" font-weight="normal" font-family="'Liberation Sans', Arial, Helvetica, sans-serif" >14</text>
<line x1="935.4" y1="1242.8" x2="935.4" y2="1247.3" stroke="#000" stroke-width="1.4"/>
<text x="935.4" y="1261.3" font-size="15.3" fill="#4D4D4D" text-anchor="middle" font-weight="normal" font-family="'Liberation Sans', Arial, Helvetica, sans-serif" >15</text>
<line x1="1002.8" y1="1242.8" x2="1002.8" y2="1247.3" stroke="#000" stroke-width="1.4"/>
<text x="1002.8" y="1261.3" font-size="15.3" fill="#4D4D4D" text-anchor="middle" font-weight="normal" font-family="'Liberation Sans', Arial, Helvetica, sans-serif" >16</text>
<line x1="1070.2" y1="1242.8" x2="1070.2" y2="1247.3" stroke="#000" stroke-width="1.4"/>
<text x="1070.2" y="1261.3" font-size="15.3" fill="#4D4D4D" text-anchor="middle" font-weight="normal" font-family="'Liberation Sans', Arial, Helvetica, sans-serif" >17</text>
<line x1="728.8" y1="1242.6" x2="733.3" y2="1242.6" stroke="#000" stroke-width="1.4"/>
<text x="724.1" y="1248.0" font-size="15.3" fill="#4D4D4D" text-anchor="end" font-weight="normal" font-family="'Liberation Sans', Arial, Helvetica, sans-serif" >0.0e+00</text>
<line x1="728.8" y1="1186.5" x2="733.3" y2="1186.5" stroke="#000" stroke-width="1.4"/>
<text x="724.1" y="1191.9" font-size="15.3" fill="#4D4D4D" text-anchor="end" font-weight="normal" font-family="'Liberation Sans', Arial, Helvetica, sans-serif" >5.0e−06</text>
<line x1="728.8" y1="1130.3" x2="733.3" y2="1130.3" stroke="#000" stroke-width="1.4"/>
<text x="724.1" y="1135.7" font-size="15.3" fill="#4D4D4D" text-anchor="end" font-weight="normal" font-family="'Liberation Sans', Arial, Helvetica, sans-serif" >1.0e−05</text>
<line x1="728.8" y1="1074.1" x2="733.3" y2="1074.1" stroke="#000" stroke-width="1.4"/>
<text x="724.1" y="1079.5" font-size="15.3" fill="#4D4D4D" text-anchor="end" font-weight="normal" font-family="'Liberation Sans', Arial, Helvetica, sans-serif" >1.5e−05</text>
<line x1="728.8" y1="1017.9" x2="733.3" y2="1017.9" stroke="#000" stroke-width="1.4"/>
<text x="724.1" y="1023.3" font-size="15.3" fill="#4D4D4D" text-anchor="end" font-weight="normal" font-family="'Liberation Sans', Arial, Helvetica, sans-serif" >2.0e−05</text>
<line x1="1070.2" y1="1242.6" x2="1074.7" y2="1242.6" stroke="#000" stroke-width="1.4"/>
<text x="1079.2" y="1248.0" font-size="15.3" fill="#4D4D4D" text-anchor="start" font-weight="normal" font-family="'Liberation Sans', Arial, Helvetica, sans-serif" >0</text>
<line x1="1070.2" y1="1188.6" x2="1074.7" y2="1188.6" stroke="#000" stroke-width="1.4"/>
<text x="1079.2" y="1194.0" font-size="15.3" fill="#4D4D4D" text-anchor="start" font-weight="normal" font-family="'Liberation Sans', Arial, Helvetica, sans-serif" >10000</text>
<line x1="1070.2" y1="1134.6" x2="1074.7" y2="1134.6" stroke="#000" stroke-width="1.4"/>
<text x="1079.2" y="1140.0" font-size="15.3" fill="#4D4D4D" text-anchor="start" font-weight="normal" font-family="'Liberation Sans', Arial, Helvetica, sans-serif" >20000</text>
<line x1="1070.2" y1="1080.6" x2="1074.7" y2="1080.6" stroke="#000" stroke-width="1.4"/>
<text x="1079.2" y="1086.0" font-size="15.3" fill="#4D4D4D" text-anchor="start" font-weight="normal" font-family="'Liberation Sans', Arial, Helvetica, sans-serif" >30000</text>
<line x1="1070.2" y1="1026.7" x2="1074.7" y2="1026.7" stroke="#000" stroke-width="1.4"/>
<text x="1079.2" y="1032.1" font-size="15.3" fill="#4D4D4D" text-anchor="start" font-weight="normal" font-family="'Liberation Sans', Arial, Helvetica, sans-serif" >40000</text>
<line x1="1070.2" y1="972.7" x2="1074.7" y2="972.7" stroke="#000" stroke-width="1.4"/>
<text x="1079.2" y="978.1" font-size="15.3" fill="#4D4D4D" text-anchor="start" font-weight="normal" font-family="'Liberation Sans', Arial, Helvetica, sans-serif" >50000</text>
<text x="0" y="0" font-size="18.5" font-family="'Liberation Sans', Arial, Helvetica, sans-serif" fill="#000" text-anchor="middle" transform="translate(663.0,1112.6) rotate(-90)">Differential refractive index</text>
<circle cx="655.8" cy="988.8" r="4.2" fill="#00008B"/>
<text x="0" y="0" font-size="18.5" font-family="'Liberation Sans', Arial, Helvetica, sans-serif" fill="#000" text-anchor="middle" transform="translate(1131.0,1107.1) rotate(90)">Molar mass [Da]</text>
<circle cx="1134.5" cy="1193.9" r="4.2" fill="#FF0000"/>
<text x="901.4" y="1289.3" font-size="18.5" fill="#000" text-anchor="middle" font-weight="normal" font-family="'Liberation Sans', Arial, Helvetica, sans-serif" >Elution volume (ml)</text>
<path d="M812.00,1242.70 C812.42,1242.52 813.42,1242.47 814.50,1241.60 C815.58,1240.73 817.02,1240.43 818.50,1237.50 C819.98,1234.57 821.97,1230.35 823.40,1224.00 C824.83,1217.65 825.87,1209.67 827.10,1199.40 C828.33,1189.13 829.57,1175.75 830.80,1162.40 C832.03,1149.05 833.27,1132.63 834.50,1119.30 C835.73,1105.97 836.97,1092.45 838.20,1082.40 C839.43,1072.35 840.47,1064.65 841.90,1059.00 C843.33,1053.35 845.17,1048.92 846.80,1048.50 C848.43,1048.08 850.05,1051.88 851.70,1056.50 C853.35,1061.12 855.05,1068.40 856.70,1076.20 C858.35,1084.00 859.97,1093.85 861.60,1103.30 C863.23,1112.75 864.45,1122.63 866.50,1132.90 C868.55,1143.17 871.43,1155.47 873.90,1164.90 C876.37,1174.33 878.83,1182.53 881.30,1189.50 C883.77,1196.47 885.83,1201.57 888.70,1206.70 C891.57,1211.83 894.82,1216.60 898.50,1220.30 C902.18,1224.00 906.68,1226.75 910.80,1228.90 C914.92,1231.05 917.03,1231.77 923.20,1233.20 C929.37,1234.63 939.60,1236.37 947.80,1237.50 C956.00,1238.63 963.70,1239.32 972.40,1240.00 C981.10,1240.68 990.07,1241.18 1000.00,1241.60 C1009.93,1242.02 1026.67,1242.35 1032.00,1242.50" fill="none" stroke="#00008B" stroke-width="2"/>
<path d="M828.90,1015.20 C829.32,1015.00 830.37,1013.78 831.40,1014.00 C832.43,1014.22 833.97,1016.40 835.10,1016.50 C836.23,1016.60 836.97,1015.73 838.20,1014.60 C839.43,1013.47 840.65,1011.13 842.50,1009.70 C844.35,1008.27 847.35,1006.98 849.30,1006.00 C851.25,1005.02 852.97,1004.58 854.20,1003.80 C855.43,1003.02 855.88,1001.60 856.70,1001.30 C857.52,1001.00 858.28,1002.13 859.10,1002.00 C859.92,1001.87 860.78,1000.45 861.60,1000.50 C862.42,1000.55 863.08,1002.10 864.00,1002.30 C864.92,1002.50 865.97,1001.73 867.10,1001.70 C868.23,1001.67 870.18,1002.03 870.80,1002.10" fill="none" stroke="#FF0000" stroke-width="1.8"/>
<text x="1215.8" y="885.5" font-size="56" fill="#000" text-anchor="start" font-weight="bold" font-family="'Liberation Sans', Arial, Helvetica, sans-serif" >d</text>
<text x="1511.6" y="947.5" font-size="28" fill="#000" text-anchor="middle" font-weight="bold" font-family="'Liberation Sans', Arial, Helvetica, sans-serif" >MJ1647ΔTM</text>
<line x1="1347.6" y1="971.7" x2="1347.6" y2="1242.9" stroke="#000" stroke-width="1.6"/>
<line x1="1694.9" y1="970.9000000000001" x2="1694.9" y2="1242.9" stroke="#000" stroke-width="1.6"/>
<line x1="1346.8" y1="1241.9" x2="1695.7" y2="1241.9" stroke="#000" stroke-width="1.8"/>
<line x1="1347.6" y1="1241.9" x2="1347.6" y2="1246.4" stroke="#000" stroke-width="1.4"/>
<text x="1347.6" y="1260.4" font-size="15.3" fill="#4D4D4D" text-anchor="middle" font-weight="normal" font-family="'Liberation Sans', Arial, Helvetica, sans-serif" >12</text>
<line x1="1417.1" y1="1241.9" x2="1417.1" y2="1246.4" stroke="#000" stroke-width="1.4"/>
<text x="1417.1" y="1260.4" font-size="15.3" fill="#4D4D4D" text-anchor="middle" font-weight="normal" font-family="'Liberation Sans', Arial, Helvetica, sans-serif" >13</text>
<line x1="1486.5" y1="1241.9" x2="1486.5" y2="1246.4" stroke="#000" stroke-width="1.4"/>
<text x="1486.5" y="1260.4" font-size="15.3" fill="#4D4D4D" text-anchor="middle" font-weight="normal" font-family="'Liberation Sans', Arial, Helvetica, sans-serif" >14</text>
<line x1="1556.0" y1="1241.9" x2="1556.0" y2="1246.4" stroke="#000" stroke-width="1.4"/>
<text x="1556.0" y="1260.4" font-size="15.3" fill="#4D4D4D" text-anchor="middle" font-weight="normal" font-family="'Liberation Sans', Arial, Helvetica, sans-serif" >15</text>
<line x1="1625.4" y1="1241.9" x2="1625.4" y2="1246.4" stroke="#000" stroke-width="1.4"/>
<text x="1625.4" y="1260.4" font-size="15.3" fill="#4D4D4D" text-anchor="middle" font-weight="normal" font-family="'Liberation Sans', Arial, Helvetica, sans-serif" >16</text>
<line x1="1694.9" y1="1241.9" x2="1694.9" y2="1246.4" stroke="#000" stroke-width="1.4"/>
<text x="1694.9" y="1260.4" font-size="15.3" fill="#4D4D4D" text-anchor="middle" font-weight="normal" font-family="'Liberation Sans', Arial, Helvetica, sans-serif" >17</text>
<line x1="1343.1" y1="1241.9" x2="1347.6" y2="1241.9" stroke="#000" stroke-width="1.4"/>
<text x="1338.4" y="1247.3" font-size="15.3" fill="#4D4D4D" text-anchor="end" font-weight="normal" font-family="'Liberation Sans', Arial, Helvetica, sans-serif" >0e+00</text>
<line x1="1343.1" y1="1169.7" x2="1347.6" y2="1169.7" stroke="#000" stroke-width="1.4"/>
<text x="1338.4" y="1175.1" font-size="15.3" fill="#4D4D4D" text-anchor="end" font-weight="normal" font-family="'Liberation Sans', Arial, Helvetica, sans-serif" >2e−05</text>
<line x1="1343.1" y1="1097.5" x2="1347.6" y2="1097.5" stroke="#000" stroke-width="1.4"/>
<text x="1338.4" y="1102.9" font-size="15.3" fill="#4D4D4D" text-anchor="end" font-weight="normal" font-family="'Liberation Sans', Arial, Helvetica, sans-serif" >4e−05</text>
<line x1="1343.1" y1="1025.3" x2="1347.6" y2="1025.3" stroke="#000" stroke-width="1.4"/>
<text x="1338.4" y="1030.7" font-size="15.3" fill="#4D4D4D" text-anchor="end" font-weight="normal" font-family="'Liberation Sans', Arial, Helvetica, sans-serif" >6e−05</text>
<line x1="1694.9" y1="1241.9" x2="1699.4" y2="1241.9" stroke="#000" stroke-width="1.4"/>
<text x="1703.9" y="1247.3" font-size="15.3" fill="#4D4D4D" text-anchor="start" font-weight="normal" font-family="'Liberation Sans', Arial, Helvetica, sans-serif" >0</text>
<line x1="1694.9" y1="1187.9" x2="1699.4" y2="1187.9" stroke="#000" stroke-width="1.4"/>
<text x="1703.9" y="1193.3" font-size="15.3" fill="#4D4D4D" text-anchor="start" font-weight="normal" font-family="'Liberation Sans', Arial, Helvetica, sans-serif" >10000</text>
<line x1="1694.9" y1="1133.8" x2="1699.4" y2="1133.8" stroke="#000" stroke-width="1.4"/>
<text x="1703.9" y="1139.2" font-size="15.3" fill="#4D4D4D" text-anchor="start" font-weight="normal" font-family="'Liberation Sans', Arial, Helvetica, sans-serif" >20000</text>
<line x1="1694.9" y1="1079.8" x2="1699.4" y2="1079.8" stroke="#000" stroke-width="1.4"/>
<text x="1703.9" y="1085.2" font-size="15.3" fill="#4D4D4D" text-anchor="start" font-weight="normal" font-family="'Liberation Sans', Arial, Helvetica, sans-serif" >30000</text>
<line x1="1694.9" y1="1025.7" x2="1699.4" y2="1025.7" stroke="#000" stroke-width="1.4"/>
<text x="1703.9" y="1031.1" font-size="15.3" fill="#4D4D4D" text-anchor="start" font-weight="normal" font-family="'Liberation Sans', Arial, Helvetica, sans-serif" >40000</text>
<line x1="1694.9" y1="971.7" x2="1699.4" y2="971.7" stroke="#000" stroke-width="1.4"/>
<text x="1703.9" y="977.1" font-size="15.3" fill="#4D4D4D" text-anchor="start" font-weight="normal" font-family="'Liberation Sans', Arial, Helvetica, sans-serif" >50000</text>
<text x="0" y="0" font-size="18.5" font-family="'Liberation Sans', Arial, Helvetica, sans-serif" fill="#000" text-anchor="middle" transform="translate(1288.0,1112.6) rotate(-90)">Differential refractive index</text>
<circle cx="1283.3" cy="988.8" r="4.2" fill="#00008B"/>
<text x="0" y="0" font-size="18.5" font-family="'Liberation Sans', Arial, Helvetica, sans-serif" fill="#000" text-anchor="middle" transform="translate(1755.9,1107.1) rotate(90)">Molar mass [Da]</text>
<circle cx="1761.7" cy="1193.3" r="4.2" fill="#FF0000"/>
<text x="1520.7" y="1288.8" font-size="18.5" fill="#000" text-anchor="middle" font-weight="normal" font-family="'Liberation Sans', Arial, Helvetica, sans-serif" >Elution volume (ml)</text>
<path d="M1455.00,1241.80 C1456.83,1241.53 1462.33,1240.60 1466.00,1240.20 C1469.67,1239.80 1473.33,1239.38 1477.00,1239.40 C1480.67,1239.42 1484.32,1240.03 1488.00,1240.30 C1491.68,1240.57 1494.30,1240.97 1499.10,1241.00 C1503.90,1241.03 1512.37,1241.57 1516.80,1240.50 C1521.23,1239.43 1523.23,1237.80 1525.70,1234.60 C1528.17,1231.40 1529.63,1227.95 1531.60,1221.30 C1533.57,1214.65 1535.53,1206.52 1537.50,1194.70 C1539.47,1182.88 1541.42,1168.13 1543.40,1150.40 C1545.38,1132.67 1547.42,1106.77 1549.40,1088.30 C1551.38,1069.83 1553.52,1049.88 1555.30,1039.60 C1557.08,1029.32 1558.38,1027.10 1560.10,1026.60 C1561.82,1026.10 1563.70,1028.28 1565.60,1036.60 C1567.50,1044.92 1569.53,1060.73 1571.50,1076.50 C1573.47,1092.27 1575.43,1115.18 1577.40,1131.20 C1579.37,1147.22 1581.32,1160.78 1583.30,1172.60 C1585.28,1184.42 1587.08,1193.98 1589.30,1202.10 C1591.52,1210.22 1593.90,1216.37 1596.60,1221.30 C1599.30,1226.23 1602.05,1228.98 1605.50,1231.70 C1608.95,1234.42 1611.63,1236.18 1617.30,1237.60 C1622.97,1239.02 1632.13,1239.53 1639.50,1240.20 C1646.87,1240.87 1657.83,1241.37 1661.50,1241.60" fill="none" stroke="#00008B" stroke-width="2"/>
<path d="M1538.30,1160.40 C1538.67,1160.08 1539.65,1158.45 1540.50,1158.50 C1541.35,1158.55 1542.17,1160.33 1543.40,1160.70 C1544.63,1161.07 1546.42,1161.07 1547.90,1160.70 C1549.38,1160.33 1550.28,1159.25 1552.30,1158.50 C1554.32,1157.75 1557.53,1156.93 1560.00,1156.20 C1562.47,1155.47 1564.43,1154.95 1567.10,1154.10 C1569.77,1153.25 1573.17,1151.72 1576.00,1151.10 C1578.83,1150.48 1582.75,1150.52 1584.10,1150.40" fill="none" stroke="#FF0000" stroke-width="1.8"/>
<text x="0.5" y="1387.0" font-size="56" fill="#000" text-anchor="start" font-weight="bold" font-family="'Liberation Sans', Arial, Helvetica, sans-serif" >e</text>
<text x="274.5" y="1449.0" font-size="28" fill="#000" text-anchor="middle" font-weight="bold" font-family="'Liberation Sans', Arial, Helvetica, sans-serif" >A3</text>
<line x1="107" y1="1501.0" x2="107" y2="1773.0" stroke="#000" stroke-width="1.8"/>
<line x1="103.4" y1="1772.0" x2="453.6" y2="1772.0" stroke="#000" stroke-width="2"/>
<line x1="104" y1="1772.0" x2="107" y2="1772.0" stroke="#000" stroke-width="1.2"/>
<line x1="104" y1="1745.0" x2="107" y2="1745.0" stroke="#000" stroke-width="1.2"/>
<line x1="104" y1="1717.9" x2="107" y2="1717.9" stroke="#000" stroke-width="1.2"/>
<line x1="104" y1="1690.8" x2="107" y2="1690.8" stroke="#000" stroke-width="1.2"/>
<line x1="104" y1="1663.8" x2="107" y2="1663.8" stroke="#000" stroke-width="1.2"/>
<line x1="101" y1="1636.8" x2="107" y2="1636.8" stroke="#000" stroke-width="1.2"/>
<line x1="104" y1="1609.7" x2="107" y2="1609.7" stroke="#000" stroke-width="1.2"/>
<line x1="104" y1="1582.7" x2="107" y2="1582.7" stroke="#000" stroke-width="1.2"/>
<line x1="104" y1="1555.6" x2="107" y2="1555.6" stroke="#000" stroke-width="1.2"/>
<line x1="104" y1="1528.5" x2="107" y2="1528.5" stroke="#000" stroke-width="1.2"/>
<line x1="101" y1="1501.5" x2="107" y2="1501.5" stroke="#000" stroke-width="1.2"/>
<text x="92.5" y="1506.7" font-size="14.8" fill="#4D4D4D" text-anchor="end" font-weight="normal" font-family="'Liberation Sans', Arial, Helvetica, sans-serif" >100</text>
<text x="92.5" y="1642.0" font-size="14.8" fill="#4D4D4D" text-anchor="end" font-weight="normal" font-family="'Liberation Sans', Arial, Helvetica, sans-serif" >50</text>
<line x1="130.4" y1="1772.0" x2="130.4" y2="1777.5" stroke="#000" stroke-width="1.2"/>
<text x="130.4" y="1795.0" font-size="14.8" fill="#4D4D4D" text-anchor="middle" font-weight="normal" font-family="'Liberation Sans', Arial, Helvetica, sans-serif" >1000</text>
<line x1="225.3" y1="1772.0" x2="225.3" y2="1777.5" stroke="#000" stroke-width="1.2"/>
<text x="225.3" y="1795.0" font-size="14.8" fill="#4D4D4D" text-anchor="middle" font-weight="normal" font-family="'Liberation Sans', Arial, Helvetica, sans-serif" >1500</text>
<line x1="320.3" y1="1772.0" x2="320.3" y2="1777.5" stroke="#000" stroke-width="1.2"/>
<text x="320.3" y="1795.0" font-size="14.8" fill="#4D4D4D" text-anchor="middle" font-weight="normal" font-family="'Liberation Sans', Arial, Helvetica, sans-serif" >2000</text>
<line x1="414.5" y1="1772.0" x2="414.5" y2="1777.5" stroke="#000" stroke-width="1.2"/>
<text x="414.5" y="1795.0" font-size="14.8" fill="#4D4D4D" text-anchor="middle" font-weight="normal" font-family="'Liberation Sans', Arial, Helvetica, sans-serif" >2500</text>
<line x1="111.4" y1="1772.0" x2="111.4" y2="1775.0" stroke="#000" stroke-width="1"/>
<line x1="120.9" y1="1772.0" x2="120.9" y2="1775.0" stroke="#000" stroke-width="1"/>
<line x1="130.4" y1="1772.0" x2="130.4" y2="1775.0" stroke="#000" stroke-width="1"/>
<line x1="139.9" y1="1772.0" x2="139.9" y2="1775.0" stroke="#000" stroke-width="1"/>
<line x1="149.4" y1="1772.0" x2="149.4" y2="1775.0" stroke="#000" stroke-width="1"/>
<line x1="158.9" y1="1772.0" x2="158.9" y2="1775.0" stroke="#000" stroke-width="1"/>
<line x1="168.4" y1="1772.0" x2="168.4" y2="1775.0" stroke="#000" stroke-width="1"/>
<line x1="177.9" y1="1772.0" x2="177.9" y2="1775.0" stroke="#000" stroke-width="1"/>
<line x1="187.3" y1="1772.0" x2="187.3" y2="1775.0" stroke="#000" stroke-width="1"/>
<line x1="196.8" y1="1772.0" x2="196.8" y2="1775.0" stroke="#000" stroke-width="1"/>
<line x1="206.3" y1="1772.0" x2="206.3" y2="1775.0" stroke="#000" stroke-width="1"/>
<line x1="215.8" y1="1772.0" x2="215.8" y2="1775.0" stroke="#000" stroke-width="1"/>
<line x1="225.3" y1="1772.0" x2="225.3" y2="1775.0" stroke="#000" stroke-width="1"/>
<line x1="234.8" y1="1772.0" x2="234.8" y2="1775.0" stroke="#000" stroke-width="1"/>
<line x1="244.3" y1="1772.0" x2="244.3" y2="1775.0" stroke="#000" stroke-width="1"/>
<line x1="253.8" y1="1772.0" x2="253.8" y2="1775.0" stroke="#000" stroke-width="1"/>
<line x1="263.3" y1="1772.0" x2="263.3" y2="1775.0" stroke="#000" stroke-width="1"/>
<line x1="272.8" y1="1772.0" x2="272.8" y2="1775.0" stroke="#000" stroke-width="1"/>
<line x1="282.2" y1="1772.0" x2="282.2" y2="1775.0" stroke="#000" stroke-width="1"/>
<line x1="291.7" y1="1772.0" x2="291.7" y2="1775.0" stroke="#000" stroke-width="1"/>
<line x1="301.2" y1="1772.0" x2="301.2" y2="1775.0" stroke="#000" stroke-width="1"/>
<line x1="310.7" y1="1772.0" x2="310.7" y2="1775.0" stroke="#000" stroke-width="1"/>
<line x1="320.2" y1="1772.0" x2="320.2" y2="1775.0" stroke="#000" stroke-width="1"/>
<line x1="329.7" y1="1772.0" x2="329.7" y2="1775.0" stroke="#000" stroke-width="1"/>
<line x1="339.2" y1="1772.0" x2="339.2" y2="1775.0" stroke="#000" stroke-width="1"/>
<line x1="348.7" y1="1772.0" x2="348.7" y2="1775.0" stroke="#000" stroke-width="1"/>
<line x1="358.2" y1="1772.0" x2="358.2" y2="1775.0" stroke="#000" stroke-width="1"/>
<line x1="367.7" y1="1772.0" x2="367.7" y2="1775.0" stroke="#000" stroke-width="1"/>
<line x1="377.1" y1="1772.0" x2="377.1" y2="1775.0" stroke="#000" stroke-width="1"/>
<line x1="386.6" y1="1772.0" x2="386.6" y2="1775.0" stroke="#000" stroke-width="1"/>
<line x1="396.1" y1="1772.0" x2="396.1" y2="1775.0" stroke="#000" stroke-width="1"/>
<line x1="405.6" y1="1772.0" x2="405.6" y2="1775.0" stroke="#000" stroke-width="1"/>
<line x1="415.1" y1="1772.0" x2="415.1" y2="1775.0" stroke="#000" stroke-width="1"/>
<line x1="424.6" y1="1772.0" x2="424.6" y2="1775.0" stroke="#000" stroke-width="1"/>
<line x1="434.1" y1="1772.0" x2="434.1" y2="1775.0" stroke="#000" stroke-width="1"/>
<line x1="443.6" y1="1772.0" x2="443.6" y2="1775.0" stroke="#000" stroke-width="1"/>
<line x1="453.1" y1="1772.0" x2="453.1" y2="1775.0" stroke="#000" stroke-width="1"/>
<path d="M107.50,1770.87 L107.75,1769.38 L108.00,1768.07 L108.25,1766.29 L108.50,1765.92 L108.75,1766.67 L109.00,1767.31 L109.25,1769.77 L109.50,1770.62 L109.75,1770.53 L110.00,1770.42 L110.25,1771.14 L110.50,1770.83 L110.75,1770.58 L111.00,1770.79 L111.25,1770.30 L111.50,1768.88 L111.75,1767.74 L112.00,1767.20 L112.25,1768.49 L112.50,1769.52 L112.75,1770.29 L113.00,1770.92 L113.25,1770.36 L113.50,1771.20 L113.75,1771.16 L114.00,1770.88 L114.25,1770.85 L114.50,1771.14 L114.75,1770.18 L115.00,1771.10 L115.25,1770.10 L115.50,1770.57 L115.75,1770.77 L116.00,1770.12 L116.25,1770.96 L116.50,1771.25 L116.75,1771.26 L117.00,1771.18 L117.25,1771.14 L117.50,1770.83 L117.75,1771.33 L118.00,1771.11 L118.25,1771.10 L118.50,1770.88 L118.75,1771.44 L119.00,1771.00 L119.25,1770.83 L119.50,1770.35 L119.75,1770.82 L120.00,1770.90 L120.25,1770.22 L120.50,1770.34 L120.75,1770.03 L121.00,1771.31 L121.25,1771.16 L121.50,1770.49 L121.75,1770.29 L122.00,1770.84 L122.25,1771.04 L122.50,1771.39 L122.75,1771.08 L123.00,1771.10 L123.25,1770.80 L123.50,1771.43 L123.75,1771.27 L124.00,1770.38 L124.25,1770.04 L124.50,1770.56 L124.75,1770.91 L125.00,1771.19 L125.25,1771.30 L125.50,1771.20 L125.75,1770.49 L126.00,1771.35 L126.25,1771.35 L126.50,1771.34 L126.75,1771.35 L127.00,1771.37 L127.25,1770.94 L127.50,1770.23 L127.75,1770.32 L128.00,1769.30 L128.25,1771.39 L128.50,1771.37 L128.75,1771.23 L129.00,1771.32 L129.25,1771.35 L129.50,1771.23 L129.75,1770.84 L130.00,1771.13 L130.25,1771.16 L130.50,1770.19 L130.75,1770.99 L131.00,1770.66 L131.25,1769.75 L131.50,1770.35 L131.75,1768.78 L132.00,1763.55 L132.25,1759.33 L132.50,1761.12 L132.75,1766.26 L133.00,1768.87 L133.25,1770.13 L133.50,1770.06 L133.75,1770.64 L134.00,1770.15 L134.25,1770.70 L134.50,1771.11 L134.75,1770.67 L135.00,1770.45 L135.25,1770.95 L135.50,1770.25 L135.75,1768.53 L136.00,1766.66 L136.25,1768.07 L136.50,1769.32 L136.75,1770.79 L137.00,1770.96 L137.25,1771.04 L137.50,1770.79 L137.75,1770.82 L138.00,1771.10 L138.25,1770.86 L138.50,1771.12 L138.75,1770.45 L139.00,1771.20 L139.25,1771.39 L139.50,1770.73 L139.75,1770.05 L140.00,1771.43 L140.25,1770.78 L140.50,1771.01 L140.75,1771.16 L141.00,1771.11 L141.25,1771.07 L141.50,1770.91 L141.75,1770.87 L142.00,1771.28 L142.25,1770.91 L142.50,1771.45 L142.75,1771.33 L143.00,1770.58 L143.25,1771.06 L143.50,1771.32 L143.75,1771.08 L144.00,1771.33 L144.25,1771.06 L144.50,1771.23 L144.75,1770.89 L145.00,1771.39 L145.25,1771.22 L145.50,1771.24 L145.75,1770.99 L146.00,1771.16 L146.25,1770.92 L146.50,1771.26 L146.75,1771.19 L147.00,1771.03 L147.25,1770.74 L147.50,1770.99 L147.75,1771.05 L148.00,1771.44 L148.25,1771.18 L148.50,1771.10 L148.75,1771.41 L149.00,1771.09 L149.25,1770.41 L149.50,1771.29 L149.75,1771.04 L150.00,1771.18 L150.25,1770.68 L150.50,1771.30 L150.75,1770.97 L151.00,1771.15 L151.25,1771.12 L151.50,1771.36 L151.75,1771.03 L152.00,1771.13 L152.25,1770.98 L152.50,1770.95 L152.75,1771.19 L153.00,1771.18 L153.25,1771.32 L153.50,1770.05 L153.75,1771.45 L154.00,1770.20 L154.25,1770.28 L154.50,1770.14 L154.75,1770.90 L155.00,1771.11 L155.25,1771.30 L155.50,1771.46 L155.75,1770.35 L156.00,1771.11 L156.25,1770.87 L156.50,1771.35 L156.75,1770.95 L157.00,1771.45 L157.25,1771.26 L157.50,1771.07 L157.75,1771.22 L158.00,1771.42 L158.25,1771.31 L158.50,1770.72 L158.75,1770.96 L159.00,1770.35 L159.25,1770.89 L159.50,1770.84 L159.75,1771.01 L160.00,1770.49 L160.25,1771.39 L160.50,1771.23 L160.75,1771.02 L161.00,1771.09 L161.25,1770.84 L161.50,1770.24 L161.75,1770.72 L162.00,1771.03 L162.25,1771.08 L162.50,1771.41 L162.75,1770.22 L163.00,1770.35 L163.25,1771.21 L163.50,1771.07 L163.75,1770.91 L164.00,1769.89 L164.25,1769.43 L164.50,1765.37 L164.75,1761.25 L165.00,1762.87 L165.25,1767.41 L165.50,1770.04 L165.75,1770.62 L166.00,1770.09 L166.25,1770.19 L166.50,1770.70 L166.75,1771.07 L167.00,1771.19 L167.25,1770.58 L167.50,1770.74 L167.75,1771.05 L168.00,1771.38 L168.25,1771.36 L168.50,1771.12 L168.75,1771.31 L169.00,1771.27 L169.25,1771.28 L169.50,1770.28 L169.75,1771.26 L170.00,1770.84 L170.25,1771.09 L170.50,1771.25 L170.75,1770.98 L171.00,1770.95 L171.25,1770.77 L171.50,1770.98 L171.75,1771.17 L172.00,1771.28 L172.25,1770.97 L172.50,1770.93 L172.75,1770.94 L173.00,1771.35 L173.25,1770.90 L173.50,1771.15 L173.75,1771.30 L174.00,1770.91 L174.25,1770.90 L174.50,1771.36 L174.75,1770.91 L175.00,1771.22 L175.25,1770.69 L175.50,1770.96 L175.75,1771.24 L176.00,1770.55 L176.25,1771.46 L176.50,1770.67 L176.75,1771.04 L177.00,1771.05 L177.25,1771.38 L177.50,1770.58 L177.75,1771.28 L178.00,1770.92 L178.25,1771.21 L178.50,1770.38 L178.75,1770.93 L179.00,1770.95 L179.25,1771.26 L179.50,1770.64 L179.75,1770.85 L180.00,1771.44 L180.25,1770.82 L180.50,1770.70 L180.75,1770.72 L181.00,1770.83 L181.25,1770.42 L181.50,1771.25 L181.75,1770.63 L182.00,1771.41 L182.25,1770.72 L182.50,1770.85 L182.75,1771.01 L183.00,1771.16 L183.25,1771.48 L183.50,1771.46 L183.75,1771.31 L184.00,1771.26 L184.25,1771.34 L184.50,1771.21 L184.75,1771.23 L185.00,1770.35 L185.25,1771.32 L185.50,1770.65 L185.75,1770.69 L186.00,1770.96 L186.25,1770.48 L186.50,1770.74 L186.75,1771.26 L187.00,1771.44 L187.25,1771.33 L187.50,1771.41 L187.75,1770.78 L188.00,1771.43 L188.25,1771.21 L188.50,1771.48 L188.75,1770.09 L189.00,1771.00 L189.25,1771.29 L189.50,1770.45 L189.75,1771.05 L190.00,1771.47 L190.25,1771.11 L190.50,1771.49 L190.75,1770.66 L191.00,1771.48 L191.25,1770.89 L191.50,1771.08 L191.75,1771.04 L192.00,1771.12 L192.25,1770.98 L192.50,1770.88 L192.75,1771.14 L193.00,1770.88 L193.25,1771.38 L193.50,1771.48 L193.75,1771.13 L194.00,1771.12 L194.25,1770.55 L194.50,1771.16 L194.75,1770.85 L195.00,1770.63 L195.25,1771.40 L195.50,1771.22 L195.75,1771.28 L196.00,1770.67 L196.25,1770.92 L196.50,1770.86 L196.75,1771.13 L197.00,1770.59 L197.25,1771.15 L197.50,1771.30 L197.75,1771.05 L198.00,1771.24 L198.25,1770.73 L198.50,1771.31 L198.75,1771.09 L199.00,1770.95 L199.25,1770.10 L199.50,1771.22 L199.75,1770.59 L200.00,1770.48 L200.25,1770.87 L200.50,1771.08 L200.75,1771.24 L201.00,1771.46 L201.25,1771.36 L201.50,1770.90 L201.75,1771.41 L202.00,1771.21 L202.25,1770.98 L202.50,1771.03 L202.75,1770.55 L203.00,1770.33 L203.25,1770.03 L203.50,1770.67 L203.75,1771.37 L204.00,1770.36 L204.25,1771.24 L204.50,1771.14 L204.75,1770.78 L205.00,1770.51 L205.25,1771.35 L205.50,1771.08 L205.75,1770.98 L206.00,1771.29 L206.25,1769.93 L206.50,1771.01 L206.75,1771.34 L207.00,1771.33 L207.25,1770.46 L207.50,1770.70 L207.75,1770.01 L208.00,1771.06 L208.25,1770.93 L208.50,1771.05 L208.75,1770.67 L209.00,1770.37 L209.25,1768.01 L209.50,1762.64 L209.75,1757.18 L210.00,1760.49 L210.25,1765.18 L210.50,1769.19 L210.75,1769.73 L211.00,1770.60 L211.25,1770.57 L211.50,1770.01 L211.75,1770.42 L212.00,1770.94 L212.25,1770.50 L212.50,1769.81 L212.75,1768.99 L213.00,1768.09 L213.25,1769.37 L213.50,1769.89 L213.75,1770.76 L214.00,1770.98 L214.25,1770.48 L214.50,1770.72 L214.75,1771.16 L215.00,1771.06 L215.25,1771.29 L215.50,1771.25 L215.75,1770.52 L216.00,1770.45 L216.25,1770.60 L216.50,1771.19 L216.75,1771.28 L217.00,1770.89 L217.25,1771.23 L217.50,1771.30 L217.75,1770.45 L218.00,1771.19 L218.25,1770.59 L218.50,1770.84 L218.75,1770.56 L219.00,1771.36 L219.25,1770.46 L219.50,1770.59 L219.75,1771.25 L220.00,1771.18 L220.25,1771.40 L220.50,1770.91 L220.75,1771.44 L221.00,1771.29 L221.25,1770.58 L221.50,1771.12 L221.75,1771.31 L222.00,1770.95 L222.25,1770.80 L222.50,1770.93 L222.75,1770.33 L223.00,1771.30 L223.25,1771.22 L223.50,1771.17 L223.75,1771.33 L224.00,1771.00 L224.25,1770.64 L224.50,1770.85 L224.75,1771.03 L225.00,1771.07 L225.25,1770.94 L225.50,1771.33 L225.75,1771.13 L226.00,1770.61 L226.25,1771.08 L226.50,1771.45 L226.75,1770.72 L227.00,1771.44 L227.25,1770.91 L227.50,1771.42 L227.75,1770.89 L228.00,1771.35 L228.25,1771.35 L228.50,1771.02 L228.75,1771.46 L229.00,1771.41 L229.25,1770.92 L229.50,1771.17 L229.75,1770.95 L230.00,1770.48 L230.25,1771.21 L230.50,1770.77 L230.75,1770.55 L231.00,1771.11 L231.25,1771.16 L231.50,1771.24 L231.75,1771.30 L232.00,1771.30 L232.25,1770.52 L232.50,1771.32 L232.75,1771.12 L233.00,1770.61 L233.25,1770.98 L233.50,1771.07 L233.75,1770.56 L234.00,1771.19 L234.25,1771.29 L234.50,1771.15 L234.75,1771.23 L235.00,1770.70 L235.25,1771.33 L235.50,1771.33 L235.75,1771.03 L236.00,1771.44 L236.25,1771.32 L236.50,1771.05 L236.75,1770.27 L237.00,1770.90 L237.25,1771.27 L237.50,1770.70 L237.75,1771.19 L238.00,1770.34 L238.25,1770.21 L238.50,1771.23 L238.75,1770.95 L239.00,1770.95 L239.25,1770.75 L239.50,1770.01 L239.75,1769.01 L240.00,1767.74 L240.25,1769.50 L240.50,1770.26 L240.75,1770.52 L241.00,1770.59 L241.25,1771.21 L241.50,1771.09 L241.75,1770.68 L242.00,1770.70 L242.25,1771.24 L242.50,1771.02 L242.75,1770.91 L243.00,1770.04 L243.25,1770.82 L243.50,1771.18 L243.75,1771.24 L244.00,1771.22 L244.25,1770.63 L244.50,1770.91 L244.75,1771.27 L245.00,1771.42 L245.25,1771.21 L245.50,1770.11 L245.75,1771.11 L246.00,1770.91 L246.25,1770.36 L246.50,1771.34 L246.75,1771.14 L247.00,1770.94 L247.25,1770.82 L247.50,1770.59 L247.75,1771.03 L248.00,1771.41 L248.25,1770.90 L248.50,1770.96 L248.75,1770.14 L249.00,1771.03 L249.25,1770.95 L249.50,1771.41 L249.75,1770.75 L250.00,1771.30 L250.25,1771.33 L250.50,1771.09 L250.75,1771.25 L251.00,1771.07 L251.25,1770.84 L251.50,1771.20 L251.75,1770.73 L252.00,1770.67 L252.25,1771.03 L252.50,1771.21 L252.75,1770.80 L253.00,1771.40 L253.25,1770.82 L253.50,1770.89 L253.75,1770.26 L254.00,1771.32 L254.25,1770.86 L254.50,1770.92 L254.75,1770.89 L255.00,1771.07 L255.25,1771.18 L255.50,1771.01 L255.75,1771.41 L256.00,1771.35 L256.25,1771.09 L256.50,1771.03 L256.75,1771.31 L257.00,1771.31 L257.25,1771.05 L257.50,1771.10 L257.75,1771.19 L258.00,1771.11 L258.25,1771.35 L258.50,1771.05 L258.75,1770.78 L259.00,1771.27 L259.25,1771.34 L259.50,1770.80 L259.75,1771.18 L260.00,1771.32 L260.25,1771.19 L260.50,1770.88 L260.75,1771.02 L261.00,1769.83 L261.25,1771.10 L261.50,1771.30 L261.75,1771.09 L262.00,1770.99 L262.25,1771.29 L262.50,1770.94 L262.75,1770.95 L263.00,1771.19 L263.25,1771.19 L263.50,1771.25 L263.75,1770.84 L264.00,1771.15 L264.25,1770.65 L264.50,1770.83 L264.75,1771.08 L265.00,1771.28 L265.25,1770.80 L265.50,1770.93 L265.75,1770.48 L266.00,1771.09 L266.25,1771.01 L266.50,1770.57 L266.75,1769.77 L267.00,1771.15 L267.25,1771.16 L267.50,1770.91 L267.75,1771.11 L268.00,1771.06 L268.25,1770.98 L268.50,1770.28 L268.75,1770.79 L269.00,1770.74 L269.25,1770.81 L269.50,1770.34 L269.75,1770.88 L270.00,1770.52 L270.25,1769.66 L270.50,1770.75 L270.75,1770.80 L271.00,1770.54 L271.25,1769.99 L271.50,1770.47 L271.75,1770.57 L272.00,1770.27 L272.25,1769.39 L272.50,1769.99 L272.75,1769.95 L273.00,1769.78 L273.25,1769.33 L273.50,1769.64 L273.75,1769.65 L274.00,1769.55 L274.25,1768.41 L274.50,1768.71 L274.75,1768.11 L275.00,1767.85 L275.25,1767.57 L275.50,1766.81 L275.75,1766.11 L276.00,1765.07 L276.25,1762.93 L276.50,1760.67 L276.75,1752.05 L277.00,1725.42 L277.25,1659.70 L277.50,1564.09 L277.75,1499.78 L278.00,1524.87 L278.25,1605.51 L278.50,1670.81 L278.75,1690.21 L279.00,1679.38 L279.25,1671.04 L279.50,1680.52 L279.75,1701.92 L280.00,1716.66 L280.25,1705.01 L280.50,1669.09 L280.75,1640.88 L281.00,1655.49 L281.25,1693.32 L281.50,1719.76 L281.75,1727.00 L282.00,1724.38 L282.25,1719.96 L282.50,1719.13 L282.75,1723.29 L283.00,1730.11 L283.25,1737.31 L283.50,1742.10 L283.75,1744.74 L284.00,1744.93 L284.25,1745.62 L284.50,1746.80 L284.75,1748.17 L285.00,1750.10 L285.25,1752.55 L285.50,1755.92 L285.75,1758.46 L286.00,1760.41 L286.25,1760.67 L286.50,1763.30 L286.75,1763.58 L287.00,1764.10 L287.25,1765.05 L287.50,1765.16 L287.75,1765.74 L288.00,1766.36 L288.25,1766.96 L288.50,1767.22 L288.75,1767.37 L289.00,1767.69 L289.25,1767.78 L289.50,1766.69 L289.75,1768.18 L290.00,1768.19 L290.25,1767.53 L290.50,1768.30 L290.75,1768.67 L291.00,1768.94 L291.25,1768.14 L291.50,1768.71 L291.75,1768.88 L292.00,1769.45 L292.25,1768.41 L292.50,1769.24 L292.75,1769.11 L293.00,1769.58 L293.25,1769.82 L293.50,1769.57 L293.75,1769.35 L294.00,1769.93 L294.25,1769.77 L294.50,1769.54 L294.75,1770.08 L295.00,1770.25 L295.25,1770.09 L295.50,1769.97 L295.75,1769.84 L296.00,1769.75 L296.25,1770.14 L296.50,1770.45 L296.75,1769.91 L297.00,1770.08 L297.25,1769.94 L297.50,1770.50 L297.75,1770.10 L298.00,1770.13 L298.25,1770.68 L298.50,1770.49 L298.75,1770.63 L299.00,1770.69 L299.25,1770.42 L299.50,1769.92 L299.75,1770.41 L300.00,1769.59 L300.25,1769.60 L300.50,1769.81 L300.75,1769.98 L301.00,1770.29 L301.25,1770.77 L301.50,1769.70 L301.75,1770.52 L302.00,1770.29 L302.25,1770.75 L302.50,1770.88 L302.75,1770.38 L303.00,1769.65 L303.25,1770.99 L303.50,1770.65 L303.75,1769.68 L304.00,1770.93 L304.25,1770.80 L304.50,1770.97 L304.75,1770.57 L305.00,1770.22 L305.25,1770.98 L305.50,1770.13 L305.75,1770.85 L306.00,1771.00 L306.25,1770.48 L306.50,1770.57 L306.75,1770.31 L307.00,1771.12 L307.25,1770.65 L307.50,1770.74 L307.75,1770.85 L308.00,1770.95 L308.25,1771.04 L308.50,1770.59 L308.75,1770.34 L309.00,1770.68 L309.25,1769.62 L309.50,1769.97 L309.75,1771.04 L310.00,1770.95 L310.25,1770.95 L310.50,1770.95 L310.75,1770.59 L311.00,1770.47 L311.25,1771.10 L311.50,1770.48 L311.75,1770.32 L312.00,1771.08 L312.25,1770.58 L312.50,1770.41 L312.75,1770.53 L313.00,1771.11 L313.25,1770.82 L313.50,1771.22 L313.75,1771.17 L314.00,1770.75 L314.25,1770.71 L314.50,1770.90 L314.75,1771.18 L315.00,1770.87 L315.25,1771.14 L315.50,1771.18 L315.75,1770.60 L316.00,1770.22 L316.25,1771.13 L316.50,1771.11 L316.75,1771.25 L317.00,1771.23 L317.25,1771.18 L317.50,1770.77 L317.75,1771.04 L318.00,1770.55 L318.25,1771.03 L318.50,1770.83 L318.75,1770.97 L319.00,1771.24 L319.25,1770.18 L319.50,1770.85 L319.75,1771.02 L320.00,1770.63 L320.25,1771.06 L320.50,1770.60 L320.75,1770.57 L321.00,1770.28 L321.25,1770.63 L321.50,1771.18 L321.75,1770.84 L322.00,1771.09 L322.25,1770.06 L322.50,1769.95 L322.75,1770.98 L323.00,1770.53 L323.25,1770.77 L323.50,1770.78 L323.75,1770.63 L324.00,1769.78 L324.25,1769.36 L324.50,1769.46 L324.75,1768.76 L325.00,1765.13 L325.25,1754.69 L325.50,1738.14 L325.75,1725.08 L326.00,1730.55 L326.25,1746.94 L326.50,1759.75 L326.75,1765.09 L327.00,1766.59 L327.25,1766.51 L327.50,1768.20 L327.75,1768.99 L328.00,1769.03 L328.25,1769.01 L328.50,1769.09 L328.75,1767.23 L329.00,1763.17 L329.25,1756.70 L329.50,1752.93 L329.75,1755.88 L330.00,1761.75 L330.25,1766.34 L330.50,1768.02 L330.75,1768.10 L331.00,1769.59 L331.25,1769.88 L331.50,1769.52 L331.75,1770.03 L332.00,1770.03 L332.25,1770.59 L332.50,1770.39 L332.75,1769.52 L333.00,1770.15 L333.25,1770.39 L333.50,1770.47 L333.75,1770.49 L334.00,1769.84 L334.25,1770.15 L334.50,1770.86 L334.75,1770.82 L335.00,1770.82 L335.25,1770.99 L335.50,1770.35 L335.75,1770.45 L336.00,1771.02 L336.25,1770.79 L336.50,1769.87 L336.75,1770.81 L337.00,1771.02 L337.25,1770.72 L337.50,1771.22 L337.75,1770.97 L338.00,1771.29 L338.25,1769.62 L338.50,1770.93 L338.75,1771.11 L339.00,1771.24 L339.25,1771.09 L339.50,1770.35 L339.75,1771.17 L340.00,1770.89 L340.25,1770.62 L340.50,1771.32 L340.75,1771.29 L341.00,1771.05 L341.25,1769.86 L341.50,1770.93 L341.75,1771.16 L342.00,1770.90 L342.25,1771.32 L342.50,1771.19 L342.75,1771.32 L343.00,1771.24 L343.25,1769.88 L343.50,1770.58 L343.75,1770.36 L344.00,1770.56 L344.25,1769.69 L344.50,1771.00 L344.75,1770.62 L345.00,1771.27 L345.25,1771.24 L345.50,1771.38 L345.75,1771.03 L346.00,1770.99 L346.25,1770.37 L346.50,1771.27 L346.75,1771.27 L347.00,1770.69 L347.25,1771.23 L347.50,1771.20 L347.75,1771.22 L348.00,1770.04 L348.25,1770.28 L348.50,1771.35 L348.75,1771.10 L349.00,1771.23 L349.25,1771.17 L349.50,1770.62 L349.75,1770.35 L350.00,1771.07 L350.25,1771.24 L350.50,1769.53 L350.75,1770.66 L351.00,1770.98 L351.25,1771.37 L351.50,1770.53 L351.75,1770.26 L352.00,1770.50 L352.25,1771.34 L352.50,1771.38 L352.75,1771.32 L353.00,1770.87 L353.25,1770.61 L353.50,1771.28 L353.75,1770.67 L354.00,1770.71 L354.25,1771.27 L354.50,1770.74 L354.75,1771.17 L355.00,1771.24 L355.25,1771.09 L355.50,1770.28 L355.75,1770.66 L356.00,1771.22 L356.25,1771.13 L356.50,1770.32 L356.75,1771.18 L357.00,1771.21 L357.25,1771.03 L357.50,1771.38 L357.75,1771.25 L358.00,1770.83 L358.25,1771.36 L358.50,1771.24 L358.75,1771.23 L359.00,1770.24 L359.25,1771.34 L359.50,1770.94 L359.75,1769.66 L360.00,1771.16 L360.25,1770.77 L360.50,1771.42 L360.75,1771.19 L361.00,1770.82 L361.25,1771.29 L361.50,1770.96 L361.75,1770.80 L362.00,1771.13 L362.25,1770.81 L362.50,1771.08 L362.75,1771.08 L363.00,1770.94 L363.25,1770.82 L363.50,1770.06 L363.75,1771.28 L364.00,1770.72 L364.25,1770.59 L364.50,1771.08 L364.75,1769.85 L365.00,1771.42 L365.25,1771.15 L365.50,1770.48 L365.75,1771.45 L366.00,1770.99 L366.25,1770.73 L366.50,1771.14 L366.75,1769.92 L367.00,1770.80 L367.25,1771.26 L367.50,1770.26 L367.75,1771.22 L368.00,1770.73 L368.25,1771.40 L368.50,1770.68 L368.75,1771.16 L369.00,1770.89 L369.25,1771.19 L369.50,1770.86 L369.75,1770.61 L370.00,1770.36 L370.25,1771.03 L370.50,1770.20 L370.75,1770.33 L371.00,1771.18 L371.25,1771.15 L371.50,1770.28 L371.75,1771.09 L372.00,1770.37 L372.25,1770.96 L372.50,1771.33 L372.75,1770.91 L373.00,1771.24 L373.25,1770.79 L373.50,1771.00 L373.75,1771.12 L374.00,1770.76 L374.25,1770.47 L374.50,1771.17 L374.75,1771.29 L375.00,1771.36 L375.25,1770.90 L375.50,1771.22 L375.75,1771.25 L376.00,1771.01 L376.25,1771.21 L376.50,1771.44 L376.75,1771.32 L377.00,1770.15 L377.25,1771.14 L377.50,1770.51 L377.75,1771.26 L378.00,1770.93 L378.25,1770.46 L378.50,1770.92 L378.75,1771.13 L379.00,1771.34 L379.25,1771.19 L379.50,1771.04 L379.75,1771.07 L380.00,1770.22 L380.25,1771.28 L380.50,1771.38 L380.75,1771.09 L381.00,1771.11 L381.25,1770.74 L381.50,1771.35 L381.75,1771.40 L382.00,1771.43 L382.25,1771.41 L382.50,1771.28 L382.75,1771.14 L383.00,1771.38 L383.25,1770.88 L383.50,1770.84 L383.75,1771.43 L384.00,1770.86 L384.25,1770.84 L384.50,1771.22 L384.75,1771.37 L385.00,1770.56 L385.25,1771.35 L385.50,1770.91 L385.75,1771.15 L386.00,1771.43 L386.25,1769.61 L386.50,1771.40 L386.75,1771.44 L387.00,1770.85 L387.25,1771.40 L387.50,1770.59 L387.75,1770.78 L388.00,1771.17 L388.25,1770.93 L388.50,1770.39 L388.75,1770.86 L389.00,1771.30 L389.25,1770.90 L389.50,1770.75 L389.75,1771.02 L390.00,1770.09 L390.25,1771.24 L390.50,1770.70 L390.75,1771.36 L391.00,1771.10 L391.25,1771.25 L391.50,1770.31 L391.75,1771.25 L392.00,1771.00 L392.25,1771.36 L392.50,1770.60 L392.75,1771.38 L393.00,1771.08 L393.25,1771.41 L393.50,1771.09 L393.75,1770.25 L394.00,1770.98 L394.25,1770.93 L394.50,1771.07 L394.75,1771.09 L395.00,1771.32 L395.25,1770.17 L395.50,1770.86 L395.75,1770.71 L396.00,1771.42 L396.25,1771.28 L396.50,1771.00 L396.75,1771.27 L397.00,1771.06 L397.25,1770.34 L397.50,1771.24 L397.75,1770.39 L398.00,1771.20 L398.25,1771.36 L398.50,1770.96 L398.75,1771.17 L399.00,1771.39 L399.25,1771.10 L399.50,1770.79 L399.75,1771.31 L400.00,1770.60 L400.25,1770.70 L400.50,1771.38 L400.75,1771.30 L401.00,1771.00 L401.25,1771.13 L401.50,1771.28 L401.75,1771.07 L402.00,1771.40 L402.25,1770.56 L402.50,1771.32 L402.75,1771.23 L403.00,1771.36 L403.25,1770.84 L403.50,1771.07 L403.75,1771.30 L404.00,1771.35 L404.25,1771.08 L404.50,1771.09 L404.75,1770.76 L405.00,1771.03 L405.25,1770.59 L405.50,1770.89 L405.75,1771.02 L406.00,1770.79 L406.25,1771.00 L406.50,1771.29 L406.75,1771.41 L407.00,1771.21 L407.25,1770.32 L407.50,1770.69 L407.75,1771.43 L408.00,1771.33 L408.25,1770.21 L408.50,1771.32 L408.75,1771.09 L409.00,1770.76 L409.25,1769.88 L409.50,1770.36 L409.75,1769.86 L410.00,1771.11 L410.25,1771.44 L410.50,1771.37 L410.75,1770.95 L411.00,1771.40 L411.25,1770.69 L411.50,1770.91 L411.75,1771.02 L412.00,1771.08 L412.25,1770.93 L412.50,1770.32 L412.75,1771.19 L413.00,1770.82 L413.25,1771.25 L413.50,1770.51 L413.75,1770.93 L414.00,1771.41 L414.25,1771.23 L414.50,1771.43 L414.75,1770.73 L415.00,1771.07 L415.25,1770.29 L415.50,1770.92 L415.75,1770.99 L416.00,1770.35 L416.25,1771.40 L416.50,1771.48 L416.75,1770.99 L417.00,1770.58 L417.25,1771.42 L417.50,1771.43 L417.75,1770.93 L418.00,1770.72 L418.25,1771.38 L418.50,1771.48 L418.75,1770.56 L419.00,1770.94 L419.25,1771.26 L419.50,1770.90 L419.75,1771.00 L420.00,1771.08 L420.25,1770.61 L420.50,1771.20 L420.75,1770.95 L421.00,1771.28 L421.25,1770.91 L421.50,1771.23 L421.75,1771.35 L422.00,1770.84 L422.25,1771.25 L422.50,1771.27 L422.75,1770.81 L423.00,1771.35 L423.25,1771.25 L423.50,1770.16 L423.75,1771.17 L424.00,1771.00 L424.25,1770.96 L424.50,1771.31 L424.75,1771.35 L425.00,1771.40 L425.25,1770.97 L425.50,1771.21 L425.75,1771.38 L426.00,1770.84 L426.25,1771.27 L426.50,1771.06 L426.75,1771.30 L427.00,1771.11 L427.25,1771.40 L427.50,1770.84 L427.75,1771.18 L428.00,1771.35 L428.25,1771.08 L428.50,1770.43 L428.75,1771.39 L429.00,1771.35 L429.25,1770.20 L429.50,1770.73 L429.75,1770.94 L430.00,1771.49 L430.25,1771.06 L430.50,1769.92 L430.75,1771.05 L431.00,1771.02 L431.25,1770.59 L431.50,1771.04 L431.75,1770.72 L432.00,1771.40 L432.25,1770.78 L432.50,1770.64 L432.75,1770.62 L433.00,1771.46 L433.25,1770.78 L433.50,1771.24 L433.75,1770.90 L434.00,1771.33 L434.25,1771.05 L434.50,1770.72 L434.75,1771.27 L435.00,1771.35 L435.25,1771.37 L435.50,1771.07 L435.75,1770.74 L436.00,1771.25 L436.25,1770.51 L436.50,1770.00 L436.75,1771.44 L437.00,1770.93 L437.25,1770.70 L437.50,1771.36 L437.75,1771.36 L438.00,1770.56 L438.25,1771.14 L438.50,1771.13 L438.75,1771.30 L439.00,1770.57 L439.25,1770.08 L439.50,1771.44 L439.75,1770.80 L440.00,1771.46 L440.25,1771.15 L440.50,1770.63 L440.75,1771.25 L441.00,1771.21 L441.25,1771.27 L441.50,1770.94 L441.75,1770.85 L442.00,1771.24 L442.25,1771.27 L442.50,1771.24 L442.75,1771.48 L443.00,1771.36 L443.25,1770.91 L443.50,1769.64 L443.75,1770.96 L444.00,1771.13 L444.25,1771.19 L444.50,1771.48 L444.75,1771.45 L445.00,1771.31 L445.25,1770.58 L445.50,1771.42 L445.75,1771.35 L446.00,1770.96 L446.25,1771.43 L446.50,1771.22 L446.75,1771.44 L447.00,1771.30 L447.25,1770.93 L447.50,1771.27 L447.75,1770.88 L448.00,1771.23 L448.25,1771.03 L448.50,1771.39 L448.75,1770.84 L449.00,1771.32 L449.25,1770.97 L449.50,1771.41 L449.75,1770.87 L450.00,1771.06 L450.25,1771.19 L450.50,1770.81 L450.75,1771.16 L451.00,1771.08 L451.25,1771.21 L451.50,1771.35 L451.75,1771.47 L452.00,1771.28 L452.25,1771.15 L452.50,1771.06 L452.75,1771.29 L453.00,1771.43" fill="none" stroke="#000" stroke-width="1.1" stroke-linejoin="round"/>
<text x="469.0" y="1779.5" font-size="20.7" fill="#000" text-anchor="start" font-weight="normal" font-family="'Liberation Sans', Arial, Helvetica, sans-serif" font-style="italic">m/z</text>
<text x="0" y="0" font-size="21.3" font-family="'Liberation Sans', Arial, Helvetica, sans-serif" fill="#000" text-anchor="middle" transform="translate(44.4,1642) rotate(-90)">Intensity (%)</text>
<circle cx="277.8" cy="1486.7" r="5" fill="#FFC700"/>
<circle cx="325.3" cy="1716.5" r="5" fill="#FFC700"/>
<circle cx="209.8" cy="1736.0" r="5" fill="#FFC700"/>
<circle cx="240.1" cy="1755.6" r="5" fill="#FFC700"/>
<circle cx="113.3" cy="1760.0" r="5" fill="#A88600"/>
<circle cx="133.2" cy="1752.1" r="5" fill="#A88600"/>
<circle cx="165.0" cy="1759.0" r="5" fill="#A88600"/>
<circle cx="209.8" cy="1747.1" r="5" fill="#A88600"/>
<text x="132.5" y="1739.5" font-size="20" fill="#000" text-anchor="middle" font-weight="normal" font-family="'Liberation Sans', Arial, Helvetica, sans-serif" >+7</text>
<text x="325.0" y="1706.3" font-size="20" fill="#000" text-anchor="middle" font-weight="normal" font-family="'Liberation Sans', Arial, Helvetica, sans-serif" >+7</text>
<line x1="364.5" y1="1736.2" x2="344" y2="1751.5" stroke="#8a8a8a" stroke-width="2"/>
<path d="M337.5,1756.3 L341.5,1745 L349,1754 Z" fill="#8a8a8a"/>
<text x="374.5" y="1743.5" font-size="28" fill="#8a8a8a" text-anchor="middle" font-weight="normal" font-family="'Liberation Sans', Arial, Helvetica, sans-serif" >*</text>
<circle cx="353.5" cy="1512.5" r="5" fill="#FFC700"/>
<text x="365.7" y="1520.0" font-size="21.2" fill="#000" text-anchor="start" font-weight="normal" font-family="'Liberation Sans', Arial, Helvetica, sans-serif" >Dimer</text>
<text x="365.7" y="1547.7" font-size="21.2" fill="#000" text-anchor="start" font-weight="normal" font-family="'Liberation Sans', Arial, Helvetica, sans-serif" >14,227.0 ± 1.3 Da</text>
<circle cx="353.5" cy="1581.6" r="5" fill="#A88600"/>
<text x="365.7" y="1589.1" font-size="21.2" fill="#000" text-anchor="start" font-weight="normal" font-family="'Liberation Sans', Arial, Helvetica, sans-serif" >Monomer</text>
<text x="365.7" y="1615.0" font-size="21.2" fill="#000" text-anchor="start" font-weight="normal" font-family="'Liberation Sans', Arial, Helvetica, sans-serif" >7,112.7 ± 1.1 Da</text>
<text x="603.5" y="1387.0" font-size="56" fill="#000" text-anchor="start" font-weight="bold" font-family="'Liberation Sans', Arial, Helvetica, sans-serif" >f</text>
<text x="907.7" y="1449.0" font-size="28" fill="#000" text-anchor="middle" font-weight="bold" font-family="'Liberation Sans', Arial, Helvetica, sans-serif" >MJ1647</text>
<line x1="732.2" y1="1501.0" x2="732.2" y2="1773.0" stroke="#000" stroke-width="1.8"/>
<line x1="729" y1="1772.0" x2="1078.4" y2="1772.0" stroke="#000" stroke-width="2"/>
<line x1="729.2" y1="1772.0" x2="732.2" y2="1772.0" stroke="#000" stroke-width="1.2"/>
<line x1="729.2" y1="1745.0" x2="732.2" y2="1745.0" stroke="#000" stroke-width="1.2"/>
<line x1="729.2" y1="1717.9" x2="732.2" y2="1717.9" stroke="#000" stroke-width="1.2"/>
<line x1="729.2" y1="1690.8" x2="732.2" y2="1690.8" stroke="#000" stroke-width="1.2"/>
<line x1="729.2" y1="1663.8" x2="732.2" y2="1663.8" stroke="#000" stroke-width="1.2"/>
<line x1="726.2" y1="1636.8" x2="732.2" y2="1636.8" stroke="#000" stroke-width="1.2"/>
<line x1="729.2" y1="1609.7" x2="732.2" y2="1609.7" stroke="#000" stroke-width="1.2"/>
<line x1="729.2" y1="1582.7" x2="732.2" y2="1582.7" stroke="#000" stroke-width="1.2"/>
<line x1="729.2" y1="1555.6" x2="732.2" y2="1555.6" stroke="#000" stroke-width="1.2"/>
<line x1="729.2" y1="1528.5" x2="732.2" y2="1528.5" stroke="#000" stroke-width="1.2"/>
<line x1="726.2" y1="1501.5" x2="732.2" y2="1501.5" stroke="#000" stroke-width="1.2"/>
<text x="717.7" y="1506.7" font-size="14.8" fill="#4D4D4D" text-anchor="end" font-weight="normal" font-family="'Liberation Sans', Arial, Helvetica, sans-serif" >100</text>
<text x="717.7" y="1642.0" font-size="14.8" fill="#4D4D4D" text-anchor="end" font-weight="normal" font-family="'Liberation Sans', Arial, Helvetica, sans-serif" >50</text>
<line x1="734.0" y1="1772.0" x2="734.0" y2="1777.5" stroke="#000" stroke-width="1.2"/>
<text x="734.0" y="1795.0" font-size="14.8" fill="#4D4D4D" text-anchor="middle" font-weight="normal" font-family="'Liberation Sans', Arial, Helvetica, sans-serif" >2000</text>
<line x1="810.5" y1="1772.0" x2="810.5" y2="1777.5" stroke="#000" stroke-width="1.2"/>
<text x="810.5" y="1795.0" font-size="14.8" fill="#4D4D4D" text-anchor="middle" font-weight="normal" font-family="'Liberation Sans', Arial, Helvetica, sans-serif" >2500</text>
<line x1="887.0" y1="1772.0" x2="887.0" y2="1777.5" stroke="#000" stroke-width="1.2"/>
<text x="887.0" y="1795.0" font-size="14.8" fill="#4D4D4D" text-anchor="middle" font-weight="normal" font-family="'Liberation Sans', Arial, Helvetica, sans-serif" >3000</text>
<line x1="963.5" y1="1772.0" x2="963.5" y2="1777.5" stroke="#000" stroke-width="1.2"/>
<text x="963.5" y="1795.0" font-size="14.8" fill="#4D4D4D" text-anchor="middle" font-weight="normal" font-family="'Liberation Sans', Arial, Helvetica, sans-serif" >3500</text>
<line x1="1040.0" y1="1772.0" x2="1040.0" y2="1777.5" stroke="#000" stroke-width="1.2"/>
<text x="1040.0" y="1795.0" font-size="14.8" fill="#4D4D4D" text-anchor="middle" font-weight="normal" font-family="'Liberation Sans', Arial, Helvetica, sans-serif" >4000</text>
<line x1="734.0" y1="1772.0" x2="734.0" y2="1775.0" stroke="#000" stroke-width="1"/>
<line x1="741.6" y1="1772.0" x2="741.6" y2="1775.0" stroke="#000" stroke-width="1"/>
<line x1="749.3" y1="1772.0" x2="749.3" y2="1775.0" stroke="#000" stroke-width="1"/>
<line x1="756.9" y1="1772.0" x2="756.9" y2="1775.0" stroke="#000" stroke-width="1"/>
<line x1="764.6" y1="1772.0" x2="764.6" y2="1775.0" stroke="#000" stroke-width="1"/>
<line x1="772.2" y1="1772.0" x2="772.2" y2="1775.0" stroke="#000" stroke-width="1"/>
<line x1="779.9" y1="1772.0" x2="779.9" y2="1775.0" stroke="#000" stroke-width="1"/>
<line x1="787.5" y1="1772.0" x2="787.5" y2="1775.0" stroke="#000" stroke-width="1"/>
<line x1="795.2" y1="1772.0" x2="795.2" y2="1775.0" stroke="#000" stroke-width="1"/>
<line x1="802.8" y1="1772.0" x2="802.8" y2="1775.0" stroke="#000" stroke-width="1"/>
<line x1="810.5" y1="1772.0" x2="810.5" y2="1775.0" stroke="#000" stroke-width="1"/>
<line x1="818.1" y1="1772.0" x2="818.1" y2="1775.0" stroke="#000" stroke-width="1"/>
<line x1="825.8" y1="1772.0" x2="825.8" y2="1775.0" stroke="#000" stroke-width="1"/>
<line x1="833.4" y1="1772.0" x2="833.4" y2="1775.0" stroke="#000" stroke-width="1"/>
<line x1="841.1" y1="1772.0" x2="841.1" y2="1775.0" stroke="#000" stroke-width="1"/>
<line x1="848.7" y1="1772.0" x2="848.7" y2="1775.0" stroke="#000" stroke-width="1"/>
<line x1="856.4" y1="1772.0" x2="856.4" y2="1775.0" stroke="#000" stroke-width="1"/>
<line x1="864.0" y1="1772.0" x2="864.0" y2="1775.0" stroke="#000" stroke-width="1"/>
<line x1="871.7" y1="1772.0" x2="871.7" y2="1775.0" stroke="#000" stroke-width="1"/>
<line x1="879.3" y1="1772.0" x2="879.3" y2="1775.0" stroke="#000" stroke-width="1"/>
<line x1="887.0" y1="1772.0" x2="887.0" y2="1775.0" stroke="#000" stroke-width="1"/>
<line x1="894.6" y1="1772.0" x2="894.6" y2="1775.0" stroke="#000" stroke-width="1"/>
<line x1="902.3" y1="1772.0" x2="902.3" y2="1775.0" stroke="#000" stroke-width="1"/>
<line x1="909.9" y1="1772.0" x2="909.9" y2="1775.0" stroke="#000" stroke-width="1"/>
<line x1="917.6" y1="1772.0" x2="917.6" y2="1775.0" stroke="#000" stroke-width="1"/>
<line x1="925.2" y1="1772.0" x2="925.2" y2="1775.0" stroke="#000" stroke-width="1"/>
<line x1="932.9" y1="1772.0" x2="932.9" y2="1775.0" stroke="#000" stroke-width="1"/>
<line x1="940.5" y1="1772.0" x2="940.5" y2="1775.0" stroke="#000" stroke-width="1"/>
<line x1="948.2" y1="1772.0" x2="948.2" y2="1775.0" stroke="#000" stroke-width="1"/>
<line x1="955.8" y1="1772.0" x2="955.8" y2="1775.0" stroke="#000" stroke-width="1"/>
<line x1="963.5" y1="1772.0" x2="963.5" y2="1775.0" stroke="#000" stroke-width="1"/>
<line x1="971.1" y1="1772.0" x2="971.1" y2="1775.0" stroke="#000" stroke-width="1"/>
<line x1="978.8" y1="1772.0" x2="978.8" y2="1775.0" stroke="#000" stroke-width="1"/>
<line x1="986.4" y1="1772.0" x2="986.4" y2="1775.0" stroke="#000" stroke-width="1"/>
<line x1="994.1" y1="1772.0" x2="994.1" y2="1775.0" stroke="#000" stroke-width="1"/>
<line x1="1001.7" y1="1772.0" x2="1001.7" y2="1775.0" stroke="#000" stroke-width="1"/>
<line x1="1009.4" y1="1772.0" x2="1009.4" y2="1775.0" stroke="#000" stroke-width="1"/>
<line x1="1017.0" y1="1772.0" x2="1017.0" y2="1775.0" stroke="#000" stroke-width="1"/>
<line x1="1024.7" y1="1772.0" x2="1024.7" y2="1775.0" stroke="#000" stroke-width="1"/>
<line x1="1032.3" y1="1772.0" x2="1032.3" y2="1775.0" stroke="#000" stroke-width="1"/>
<line x1="1040.0" y1="1772.0" x2="1040.0" y2="1775.0" stroke="#000" stroke-width="1"/>
<line x1="1047.6" y1="1772.0" x2="1047.6" y2="1775.0" stroke="#000" stroke-width="1"/>
<line x1="1055.3" y1="1772.0" x2="1055.3" y2="1775.0" stroke="#000" stroke-width="1"/>
<line x1="1062.9" y1="1772.0" x2="1062.9" y2="1775.0" stroke="#000" stroke-width="1"/>
<line x1="1070.6" y1="1772.0" x2="1070.6" y2="1775.0" stroke="#000" stroke-width="1"/>
<line x1="1078.2" y1="1772.0" x2="1078.2" y2="1775.0" stroke="#000" stroke-width="1"/>
<path d="M732.80,1771.02 L733.05,1771.03 L733.30,1771.22 L733.55,1770.57 L733.80,1771.43 L734.05,1770.59 L734.30,1771.05 L734.55,1771.41 L734.80,1770.95 L735.05,1771.29 L735.30,1771.33 L735.55,1771.38 L735.80,1771.20 L736.05,1771.43 L736.30,1770.99 L736.55,1771.35 L736.80,1771.21 L737.05,1771.47 L737.30,1771.33 L737.55,1770.61 L737.80,1771.47 L738.05,1771.25 L738.30,1771.43 L738.55,1771.28 L738.80,1771.34 L739.05,1771.35 L739.30,1770.68 L739.55,1771.48 L739.80,1771.42 L740.05,1771.22 L740.30,1770.68 L740.55,1771.40 L740.80,1771.24 L741.05,1770.50 L741.30,1770.90 L741.55,1771.34 L741.80,1771.22 L742.05,1770.57 L742.30,1771.11 L742.55,1770.52 L742.80,1771.22 L743.05,1771.28 L743.30,1771.33 L743.55,1771.30 L743.80,1771.40 L744.05,1771.37 L744.30,1771.31 L744.55,1770.97 L744.80,1770.89 L745.05,1771.47 L745.30,1771.31 L745.55,1771.19 L745.80,1771.30 L746.05,1771.07 L746.30,1771.30 L746.55,1771.07 L746.80,1771.45 L747.05,1771.35 L747.30,1771.40 L747.55,1771.47 L747.80,1771.48 L748.05,1770.71 L748.30,1770.79 L748.55,1771.40 L748.80,1771.13 L749.05,1771.09 L749.30,1771.36 L749.55,1771.48 L749.80,1771.06 L750.05,1770.58 L750.30,1771.26 L750.55,1770.85 L750.80,1770.62 L751.05,1771.07 L751.30,1771.27 L751.55,1771.17 L751.80,1770.80 L752.05,1771.37 L752.30,1770.96 L752.55,1771.06 L752.80,1771.25 L753.05,1770.72 L753.30,1770.54 L753.55,1771.26 L753.80,1771.17 L754.05,1771.28 L754.30,1770.79 L754.55,1770.90 L754.80,1770.99 L755.05,1770.71 L755.30,1771.14 L755.55,1771.38 L755.80,1771.37 L756.05,1771.24 L756.30,1771.27 L756.55,1771.36 L756.80,1770.96 L757.05,1770.21 L757.30,1771.40 L757.55,1771.36 L757.80,1770.97 L758.05,1771.42 L758.30,1771.21 L758.55,1771.29 L758.80,1770.83 L759.05,1771.03 L759.30,1771.04 L759.55,1771.33 L759.80,1770.60 L760.05,1771.13 L760.30,1770.97 L760.55,1771.32 L760.80,1771.30 L761.05,1771.22 L761.30,1771.27 L761.55,1770.39 L761.80,1770.86 L762.05,1770.80 L762.30,1770.95 L762.55,1770.97 L762.80,1770.71 L763.05,1770.44 L763.30,1770.71 L763.55,1769.56 L763.80,1766.42 L764.05,1761.69 L764.30,1756.21 L764.55,1757.14 L764.80,1761.68 L765.05,1766.98 L765.30,1768.95 L765.55,1770.03 L765.80,1770.23 L766.05,1770.50 L766.30,1769.93 L766.55,1770.07 L766.80,1770.45 L767.05,1770.92 L767.30,1770.75 L767.55,1771.15 L767.80,1770.91 L768.05,1771.03 L768.30,1771.05 L768.55,1770.43 L768.80,1770.76 L769.05,1770.66 L769.30,1771.08 L769.55,1770.53 L769.80,1770.70 L770.05,1770.15 L770.30,1769.15 L770.55,1766.17 L770.80,1762.72 L771.05,1761.05 L771.30,1763.88 L771.55,1766.78 L771.80,1769.16 L772.05,1769.27 L772.30,1770.19 L772.55,1770.26 L772.80,1770.32 L773.05,1770.89 L773.30,1771.01 L773.55,1770.48 L773.80,1770.42 L774.05,1771.01 L774.30,1770.78 L774.55,1770.67 L774.80,1770.94 L775.05,1770.82 L775.30,1771.25 L775.55,1770.57 L775.80,1770.88 L776.05,1770.72 L776.30,1770.94 L776.55,1770.92 L776.80,1770.38 L777.05,1771.23 L777.30,1770.90 L777.55,1771.33 L777.80,1771.01 L778.05,1770.74 L778.30,1770.98 L778.55,1771.23 L778.80,1771.18 L779.05,1770.82 L779.30,1771.39 L779.55,1771.17 L779.80,1771.32 L780.05,1770.90 L780.30,1771.21 L780.55,1771.07 L780.80,1770.93 L781.05,1770.94 L781.30,1771.01 L781.55,1770.95 L781.80,1771.20 L782.05,1771.39 L782.30,1770.89 L782.55,1771.22 L782.80,1771.32 L783.05,1770.84 L783.30,1771.36 L783.55,1771.35 L783.80,1771.15 L784.05,1771.39 L784.30,1771.23 L784.55,1771.36 L784.80,1771.33 L785.05,1771.21 L785.30,1771.40 L785.55,1771.34 L785.80,1771.05 L786.05,1771.35 L786.30,1771.03 L786.55,1771.09 L786.80,1771.37 L787.05,1770.57 L787.30,1771.03 L787.55,1771.43 L787.80,1771.36 L788.05,1771.03 L788.30,1770.87 L788.55,1770.93 L788.80,1771.35 L789.05,1771.35 L789.30,1771.29 L789.55,1771.31 L789.80,1771.08 L790.05,1771.32 L790.30,1770.54 L790.55,1770.93 L790.80,1771.25 L791.05,1771.04 L791.30,1771.20 L791.55,1770.89 L791.80,1771.26 L792.05,1771.25 L792.30,1770.99 L792.55,1771.12 L792.80,1770.40 L793.05,1771.13 L793.30,1771.12 L793.55,1771.17 L793.80,1771.39 L794.05,1771.39 L794.30,1770.99 L794.55,1771.07 L794.80,1771.22 L795.05,1771.24 L795.30,1770.80 L795.55,1770.77 L795.80,1771.07 L796.05,1771.07 L796.30,1771.32 L796.55,1771.03 L796.80,1770.97 L797.05,1771.29 L797.30,1770.49 L797.55,1771.13 L797.80,1771.08 L798.05,1771.15 L798.30,1770.86 L798.55,1771.26 L798.80,1771.00 L799.05,1771.12 L799.30,1770.83 L799.55,1771.23 L799.80,1771.17 L800.05,1770.81 L800.30,1770.84 L800.55,1770.85 L800.80,1770.91 L801.05,1771.09 L801.30,1771.04 L801.55,1770.43 L801.80,1770.66 L802.05,1771.08 L802.30,1770.96 L802.55,1770.15 L802.80,1770.98 L803.05,1770.71 L803.30,1770.94 L803.55,1770.70 L803.80,1770.55 L804.05,1770.80 L804.30,1770.41 L804.55,1770.41 L804.80,1770.28 L805.05,1770.09 L805.30,1770.41 L805.55,1770.09 L805.80,1770.12 L806.05,1769.63 L806.30,1769.40 L806.55,1769.43 L806.80,1769.04 L807.05,1768.26 L807.30,1767.63 L807.55,1766.45 L807.80,1763.41 L808.05,1756.56 L808.30,1745.41 L808.55,1728.35 L808.80,1706.25 L809.05,1686.86 L809.30,1675.02 L809.55,1676.18 L809.80,1688.15 L810.05,1707.38 L810.30,1725.75 L810.55,1740.79 L810.80,1750.58 L811.05,1755.80 L811.30,1758.57 L811.55,1761.18 L811.80,1762.24 L812.05,1763.27 L812.30,1764.22 L812.55,1764.90 L812.80,1765.53 L813.05,1765.58 L813.30,1766.09 L813.55,1766.91 L813.80,1767.45 L814.05,1767.53 L814.30,1768.06 L814.55,1767.80 L814.80,1768.53 L815.05,1768.80 L815.30,1768.61 L815.55,1769.21 L815.80,1769.07 L816.05,1769.56 L816.30,1769.38 L816.55,1769.36 L816.80,1769.84 L817.05,1769.86 L817.30,1769.99 L817.55,1769.43 L817.80,1770.08 L818.05,1769.73 L818.30,1769.73 L818.55,1770.31 L818.80,1769.05 L819.05,1770.33 L819.30,1770.53 L819.55,1770.49 L819.80,1770.49 L820.05,1770.45 L820.30,1770.12 L820.55,1769.97 L820.80,1770.73 L821.05,1770.60 L821.30,1770.60 L821.55,1770.00 L821.80,1770.56 L822.05,1770.46 L822.30,1770.72 L822.55,1770.82 L822.80,1770.88 L823.05,1770.90 L823.30,1770.70 L823.55,1770.77 L823.80,1770.91 L824.05,1770.99 L824.30,1770.47 L824.55,1770.77 L824.80,1770.93 L825.05,1770.95 L825.30,1770.79 L825.55,1770.97 L825.80,1770.75 L826.05,1770.86 L826.30,1770.79 L826.55,1771.01 L826.80,1770.58 L827.05,1770.96 L827.30,1770.85 L827.55,1770.73 L827.80,1770.32 L828.05,1771.17 L828.30,1770.68 L828.55,1771.02 L828.80,1771.18 L829.05,1770.72 L829.30,1771.21 L829.55,1770.57 L829.80,1771.02 L830.05,1771.22 L830.30,1771.21 L830.55,1770.87 L830.80,1771.23 L831.05,1771.01 L831.30,1771.13 L831.55,1770.70 L831.80,1770.76 L832.05,1770.96 L832.30,1771.10 L832.55,1771.16 L832.80,1771.03 L833.05,1771.11 L833.30,1770.94 L833.55,1770.95 L833.80,1770.95 L834.05,1770.62 L834.30,1770.62 L834.55,1771.13 L834.80,1771.02 L835.05,1771.14 L835.30,1770.62 L835.55,1771.00 L835.80,1771.11 L836.05,1770.91 L836.30,1770.48 L836.55,1770.92 L836.80,1770.87 L837.05,1770.71 L837.30,1770.58 L837.55,1770.51 L837.80,1770.67 L838.05,1770.27 L838.30,1770.28 L838.55,1770.25 L838.80,1770.27 L839.05,1770.24 L839.30,1770.06 L839.55,1769.81 L839.80,1770.15 L840.05,1769.89 L840.30,1770.02 L840.55,1769.94 L840.80,1769.93 L841.05,1770.13 L841.30,1770.45 L841.55,1770.15 L841.80,1770.53 L842.05,1770.63 L842.30,1770.73 L842.55,1770.73 L842.80,1770.55 L843.05,1770.68 L843.30,1771.03 L843.55,1771.07 L843.80,1770.30 L844.05,1771.01 L844.30,1770.89 L844.55,1770.94 L844.80,1771.08 L845.05,1771.24 L845.30,1771.16 L845.55,1771.11 L845.80,1771.04 L846.05,1771.05 L846.30,1771.17 L846.55,1771.18 L846.80,1771.34 L847.05,1771.02 L847.30,1771.18 L847.55,1771.07 L847.80,1771.31 L848.05,1770.90 L848.30,1770.46 L848.55,1771.17 L848.80,1770.71 L849.05,1770.66 L849.30,1771.12 L849.55,1770.79 L849.80,1770.40 L850.05,1771.17 L850.30,1770.90 L850.55,1770.93 L850.80,1771.18 L851.05,1770.75 L851.30,1771.29 L851.55,1771.08 L851.80,1771.28 L852.05,1771.21 L852.30,1771.26 L852.55,1771.11 L852.80,1770.37 L853.05,1770.60 L853.30,1770.98 L853.55,1770.91 L853.80,1770.82 L854.05,1771.03 L854.30,1770.96 L854.55,1770.32 L854.80,1770.70 L855.05,1770.41 L855.30,1769.78 L855.55,1768.22 L855.80,1766.13 L856.05,1761.26 L856.30,1755.44 L856.55,1750.73 L856.80,1749.54 L857.05,1753.54 L857.30,1759.15 L857.55,1763.87 L857.80,1765.66 L858.05,1767.88 L858.30,1768.55 L858.55,1769.27 L858.80,1769.47 L859.05,1769.74 L859.30,1769.65 L859.55,1769.92 L859.80,1770.22 L860.05,1770.41 L860.30,1770.56 L860.55,1770.53 L860.80,1770.62 L861.05,1770.71 L861.30,1770.84 L861.55,1770.50 L861.80,1770.91 L862.05,1770.87 L862.30,1769.99 L862.55,1770.81 L862.80,1770.88 L863.05,1770.68 L863.30,1770.73 L863.55,1770.87 L863.80,1770.87 L864.05,1771.01 L864.30,1770.81 L864.55,1770.90 L864.80,1770.75 L865.05,1770.98 L865.30,1771.08 L865.55,1771.04 L865.80,1770.77 L866.05,1771.22 L866.30,1770.76 L866.55,1771.25 L866.80,1770.90 L867.05,1770.91 L867.30,1771.17 L867.55,1770.44 L867.80,1771.16 L868.05,1770.92 L868.30,1771.20 L868.55,1771.08 L868.80,1771.08 L869.05,1771.11 L869.30,1770.76 L869.55,1770.99 L869.80,1771.20 L870.05,1771.04 L870.30,1771.24 L870.55,1771.24 L870.80,1771.35 L871.05,1771.19 L871.30,1770.89 L871.55,1771.14 L871.80,1771.36 L872.05,1771.22 L872.30,1771.33 L872.55,1771.25 L872.80,1771.27 L873.05,1771.06 L873.30,1771.25 L873.55,1771.24 L873.80,1771.07 L874.05,1771.21 L874.30,1771.37 L874.55,1770.87 L874.80,1770.91 L875.05,1771.02 L875.30,1771.35 L875.55,1770.86 L875.80,1770.69 L876.05,1771.12 L876.30,1770.82 L876.55,1770.55 L876.80,1771.29 L877.05,1770.76 L877.30,1771.30 L877.55,1770.65 L877.80,1771.22 L878.05,1771.23 L878.30,1771.15 L878.55,1771.27 L878.80,1771.32 L879.05,1770.77 L879.30,1771.34 L879.55,1771.22 L879.80,1771.32 L880.05,1770.85 L880.30,1771.23 L880.55,1771.33 L880.80,1771.09 L881.05,1771.07 L881.30,1770.71 L881.55,1770.57 L881.80,1771.10 L882.05,1771.12 L882.30,1770.95 L882.55,1771.11 L882.80,1771.23 L883.05,1771.18 L883.30,1770.55 L883.55,1770.78 L883.80,1771.07 L884.05,1770.81 L884.30,1770.48 L884.55,1769.84 L884.80,1767.68 L885.05,1763.74 L885.30,1759.78 L885.55,1759.04 L885.80,1761.23 L886.05,1764.81 L886.30,1767.47 L886.55,1769.07 L886.80,1769.51 L887.05,1770.02 L887.30,1770.28 L887.55,1769.60 L887.80,1769.62 L888.05,1770.54 L888.30,1770.68 L888.55,1770.80 L888.80,1770.80 L889.05,1770.63 L889.30,1770.00 L889.55,1770.73 L889.80,1770.60 L890.05,1771.03 L890.30,1770.33 L890.55,1771.08 L890.80,1770.97 L891.05,1771.03 L891.30,1771.17 L891.55,1770.96 L891.80,1770.89 L892.05,1771.10 L892.30,1771.24 L892.55,1770.96 L892.80,1771.08 L893.05,1771.02 L893.30,1770.50 L893.55,1771.18 L893.80,1770.95 L894.05,1770.82 L894.30,1771.09 L894.55,1771.15 L894.80,1771.05 L895.05,1770.87 L895.30,1771.04 L895.55,1771.22 L895.80,1770.76 L896.05,1770.91 L896.30,1771.06 L896.55,1771.12 L896.80,1771.17 L897.05,1770.93 L897.30,1770.94 L897.55,1770.54 L897.80,1770.75 L898.05,1770.76 L898.30,1771.22 L898.55,1771.22 L898.80,1770.73 L899.05,1771.21 L899.30,1771.09 L899.55,1770.88 L899.80,1771.20 L900.05,1771.15 L900.30,1771.08 L900.55,1770.86 L900.80,1770.61 L901.05,1771.12 L901.30,1770.29 L901.55,1770.53 L901.80,1770.83 L902.05,1770.36 L902.30,1770.97 L902.55,1770.62 L902.80,1770.47 L903.05,1771.00 L903.30,1770.80 L903.55,1770.73 L903.80,1770.92 L904.05,1770.68 L904.30,1771.08 L904.55,1770.94 L904.80,1770.77 L905.05,1770.88 L905.30,1770.47 L905.55,1770.72 L905.80,1770.95 L906.05,1770.68 L906.30,1770.70 L906.55,1770.84 L906.80,1770.92 L907.05,1770.78 L907.30,1770.90 L907.55,1770.29 L907.80,1770.03 L908.05,1770.60 L908.30,1770.51 L908.55,1770.06 L908.80,1770.69 L909.05,1770.14 L909.30,1770.52 L909.55,1770.13 L909.80,1770.32 L910.05,1770.32 L910.30,1769.94 L910.55,1770.29 L910.80,1770.27 L911.05,1770.20 L911.30,1769.94 L911.55,1769.88 L911.80,1769.44 L912.05,1769.10 L912.30,1769.20 L912.55,1769.22 L912.80,1769.20 L913.05,1769.02 L913.30,1768.73 L913.55,1768.20 L913.80,1768.29 L914.05,1767.65 L914.30,1767.42 L914.55,1766.98 L914.80,1766.49 L915.05,1765.61 L915.30,1764.39 L915.55,1763.08 L915.80,1761.08 L916.05,1756.38 L916.30,1747.99 L916.55,1731.35 L916.80,1704.03 L917.05,1665.28 L917.30,1617.68 L917.55,1570.92 L917.80,1538.88 L918.05,1530.13 L918.30,1546.97 L918.55,1582.64 L918.80,1625.87 L919.05,1666.59 L919.30,1698.36 L919.55,1719.34 L919.80,1732.71 L920.05,1740.56 L920.30,1745.08 L920.55,1748.41 L920.80,1750.39 L921.05,1752.73 L921.30,1754.60 L921.55,1756.03 L921.80,1757.17 L922.05,1758.54 L922.30,1759.71 L922.55,1760.30 L922.80,1761.33 L923.05,1762.34 L923.30,1762.68 L923.55,1762.93 L923.80,1764.02 L924.05,1764.13 L924.30,1764.72 L924.55,1764.96 L924.80,1765.97 L925.05,1765.77 L925.30,1766.44 L925.55,1766.58 L925.80,1767.01 L926.05,1767.30 L926.30,1767.57 L926.55,1767.72 L926.80,1767.73 L927.05,1767.76 L927.30,1767.84 L927.55,1768.10 L927.80,1768.59 L928.05,1768.04 L928.30,1768.68 L928.55,1768.40 L928.80,1768.21 L929.05,1768.74 L929.30,1768.55 L929.55,1768.64 L929.80,1769.30 L930.05,1769.41 L930.30,1769.34 L930.55,1769.55 L930.80,1769.40 L931.05,1769.46 L931.30,1769.55 L931.55,1769.28 L931.80,1769.58 L932.05,1769.77 L932.30,1769.64 L932.55,1769.95 L932.80,1769.70 L933.05,1769.77 L933.30,1769.74 L933.55,1769.77 L933.80,1769.20 L934.05,1770.23 L934.30,1770.14 L934.55,1770.26 L934.80,1770.30 L935.05,1769.72 L935.30,1770.32 L935.55,1770.21 L935.80,1770.05 L936.05,1770.39 L936.30,1770.39 L936.55,1769.58 L936.80,1770.24 L937.05,1770.28 L937.30,1769.90 L937.55,1770.52 L937.80,1770.41 L938.05,1770.04 L938.30,1770.45 L938.55,1770.22 L938.80,1770.29 L939.05,1770.18 L939.30,1770.19 L939.55,1770.46 L939.80,1770.55 L940.05,1770.01 L940.30,1770.31 L940.55,1770.46 L940.80,1770.23 L941.05,1770.34 L941.30,1770.10 L941.55,1770.55 L941.80,1769.89 L942.05,1769.98 L942.30,1770.27 L942.55,1770.37 L942.80,1770.55 L943.05,1770.52 L943.30,1770.51 L943.55,1770.16 L943.80,1770.22 L944.05,1770.48 L944.30,1770.11 L944.55,1770.37 L944.80,1770.32 L945.05,1770.42 L945.30,1770.19 L945.55,1769.32 L945.80,1769.93 L946.05,1770.16 L946.30,1770.00 L946.55,1770.08 L946.80,1769.62 L947.05,1769.98 L947.30,1769.97 L947.55,1770.04 L947.80,1769.45 L948.05,1769.49 L948.30,1769.35 L948.55,1769.55 L948.80,1769.20 L949.05,1769.24 L949.30,1769.39 L949.55,1769.26 L949.80,1768.52 L950.05,1768.94 L950.30,1768.18 L950.55,1768.25 L950.80,1768.05 L951.05,1767.41 L951.30,1766.84 L951.55,1766.56 L951.80,1767.18 L952.05,1765.93 L952.30,1765.85 L952.55,1765.11 L952.80,1763.99 L953.05,1763.49 L953.30,1762.35 L953.55,1760.37 L953.80,1756.00 L954.05,1748.51 L954.30,1734.69 L954.55,1712.38 L954.80,1678.83 L955.05,1634.94 L955.30,1585.68 L955.55,1540.01 L955.80,1509.19 L956.05,1501.59 L956.30,1516.83 L956.55,1550.89 L956.80,1594.67 L957.05,1637.96 L957.30,1674.19 L957.55,1700.91 L957.80,1719.79 L958.05,1731.19 L958.30,1738.22 L958.55,1741.90 L958.80,1745.89 L959.05,1748.46 L959.30,1750.45 L959.55,1752.08 L959.80,1754.04 L960.05,1754.90 L960.30,1756.39 L960.55,1757.55 L960.80,1758.81 L961.05,1759.63 L961.30,1760.25 L961.55,1761.52 L961.80,1762.14 L962.05,1762.82 L962.30,1763.25 L962.55,1763.69 L962.80,1764.15 L963.05,1764.55 L963.30,1764.37 L963.55,1765.12 L963.80,1765.92 L964.05,1765.74 L964.30,1766.49 L964.55,1766.29 L964.80,1767.00 L965.05,1767.03 L965.30,1766.83 L965.55,1767.56 L965.80,1767.13 L966.05,1767.94 L966.30,1767.72 L966.55,1768.04 L966.80,1767.86 L967.05,1768.08 L967.30,1768.21 L967.55,1768.60 L967.80,1768.49 L968.05,1768.88 L968.30,1769.02 L968.55,1769.08 L968.80,1769.11 L969.05,1768.90 L969.30,1768.88 L969.55,1768.71 L969.80,1769.19 L970.05,1769.24 L970.30,1769.44 L970.55,1768.80 L970.80,1768.64 L971.05,1769.45 L971.30,1769.79 L971.55,1769.69 L971.80,1769.82 L972.05,1769.94 L972.30,1769.43 L972.55,1769.88 L972.80,1769.74 L973.05,1770.09 L973.30,1769.90 L973.55,1770.08 L973.80,1769.55 L974.05,1770.05 L974.30,1770.08 L974.55,1770.07 L974.80,1769.86 L975.05,1770.39 L975.30,1770.32 L975.55,1770.03 L975.80,1770.32 L976.05,1770.44 L976.30,1770.40 L976.55,1770.36 L976.80,1770.26 L977.05,1770.52 L977.30,1770.49 L977.55,1769.93 L977.80,1770.62 L978.05,1770.35 L978.30,1770.41 L978.55,1770.20 L978.80,1770.27 L979.05,1770.36 L979.30,1770.73 L979.55,1770.44 L979.80,1770.45 L980.05,1770.47 L980.30,1770.59 L980.55,1770.65 L980.80,1770.73 L981.05,1770.72 L981.30,1770.80 L981.55,1770.33 L981.80,1770.74 L982.05,1770.86 L982.30,1770.66 L982.55,1770.47 L982.80,1770.81 L983.05,1770.82 L983.30,1770.74 L983.55,1770.81 L983.80,1770.83 L984.05,1770.39 L984.30,1770.73 L984.55,1770.76 L984.80,1770.77 L985.05,1770.90 L985.30,1770.41 L985.55,1770.74 L985.80,1770.86 L986.05,1770.90 L986.30,1770.43 L986.55,1770.85 L986.80,1770.50 L987.05,1770.60 L987.30,1770.49 L987.55,1770.77 L987.80,1770.90 L988.05,1770.85 L988.30,1771.01 L988.55,1770.72 L988.80,1771.02 L989.05,1771.01 L989.30,1771.01 L989.55,1770.55 L989.80,1770.67 L990.05,1770.77 L990.30,1770.88 L990.55,1770.80 L990.80,1770.95 L991.05,1770.07 L991.30,1770.98 L991.55,1770.86 L991.80,1770.92 L992.05,1770.89 L992.30,1770.52 L992.55,1770.75 L992.80,1770.85 L993.05,1770.79 L993.30,1770.68 L993.55,1770.61 L993.80,1770.79 L994.05,1770.54 L994.30,1770.13 L994.55,1770.51 L994.80,1770.69 L995.05,1770.60 L995.30,1770.33 L995.55,1770.76 L995.80,1770.33 L996.05,1770.39 L996.30,1770.41 L996.55,1770.20 L996.80,1770.31 L997.05,1769.63 L997.30,1770.18 L997.55,1769.84 L997.80,1769.65 L998.05,1768.59 L998.30,1767.34 L998.55,1764.82 L998.80,1760.38 L999.05,1754.25 L999.30,1747.05 L999.55,1739.92 L999.80,1734.81 L1000.05,1733.19 L1000.30,1735.79 L1000.55,1741.56 L1000.80,1748.52 L1001.05,1754.87 L1001.30,1759.37 L1001.55,1763.49 L1001.80,1765.50 L1002.05,1766.77 L1002.30,1767.83 L1002.55,1768.06 L1002.80,1768.42 L1003.05,1768.82 L1003.30,1769.14 L1003.55,1769.39 L1003.80,1769.57 L1004.05,1769.42 L1004.30,1769.86 L1004.55,1769.97 L1004.80,1770.11 L1005.05,1770.04 L1005.30,1769.70 L1005.55,1770.20 L1005.80,1770.13 L1006.05,1770.28 L1006.30,1770.29 L1006.55,1770.42 L1006.80,1770.70 L1007.05,1770.67 L1007.30,1770.49 L1007.55,1770.70 L1007.80,1770.49 L1008.05,1770.59 L1008.30,1770.03 L1008.55,1770.54 L1008.80,1770.78 L1009.05,1770.94 L1009.30,1770.98 L1009.55,1770.82 L1009.80,1770.87 L1010.05,1771.01 L1010.30,1770.57 L1010.55,1771.04 L1010.80,1770.80 L1011.05,1770.98 L1011.30,1770.09 L1011.55,1770.79 L1011.80,1770.89 L1012.05,1771.03 L1012.30,1770.26 L1012.55,1771.08 L1012.80,1770.75 L1013.05,1770.80 L1013.30,1770.88 L1013.55,1771.02 L1013.80,1771.02 L1014.05,1770.75 L1014.30,1771.13 L1014.55,1771.12 L1014.80,1770.81 L1015.05,1771.06 L1015.30,1770.40 L1015.55,1770.93 L1015.80,1770.82 L1016.05,1771.04 L1016.30,1771.11 L1016.55,1770.61 L1016.80,1771.24 L1017.05,1770.82 L1017.30,1771.24 L1017.55,1770.73 L1017.80,1771.10 L1018.05,1771.08 L1018.30,1771.06 L1018.55,1770.68 L1018.80,1770.18 L1019.05,1770.46 L1019.30,1771.13 L1019.55,1771.12 L1019.80,1770.93 L1020.05,1771.07 L1020.30,1770.73 L1020.55,1770.77 L1020.80,1770.99 L1021.05,1770.78 L1021.30,1770.90 L1021.55,1770.99 L1021.80,1771.32 L1022.05,1770.95 L1022.30,1770.72 L1022.55,1771.12 L1022.80,1770.84 L1023.05,1770.86 L1023.30,1771.06 L1023.55,1770.88 L1023.80,1771.04 L1024.05,1770.98 L1024.30,1770.71 L1024.55,1770.70 L1024.80,1771.27 L1025.05,1770.99 L1025.30,1771.19 L1025.55,1771.20 L1025.80,1770.99 L1026.05,1771.15 L1026.30,1771.14 L1026.55,1771.32 L1026.80,1770.98 L1027.05,1770.80 L1027.30,1771.35 L1027.55,1771.34 L1027.80,1771.03 L1028.05,1771.24 L1028.30,1771.00 L1028.55,1770.89 L1028.80,1770.69 L1029.05,1771.00 L1029.30,1771.20 L1029.55,1771.04 L1029.80,1771.31 L1030.05,1770.89 L1030.30,1771.23 L1030.55,1770.83 L1030.80,1771.30 L1031.05,1771.14 L1031.30,1771.35 L1031.55,1771.37 L1031.80,1771.19 L1032.05,1770.70 L1032.30,1771.31 L1032.55,1771.27 L1032.80,1770.92 L1033.05,1771.27 L1033.30,1771.17 L1033.55,1771.18 L1033.80,1770.59 L1034.05,1771.24 L1034.30,1771.31 L1034.55,1770.61 L1034.80,1771.13 L1035.05,1771.04 L1035.30,1771.18 L1035.55,1771.12 L1035.80,1771.34 L1036.05,1771.28 L1036.30,1771.03 L1036.55,1770.86 L1036.80,1771.25 L1037.05,1770.76 L1037.30,1770.87 L1037.55,1770.98 L1037.80,1771.00 L1038.05,1770.56 L1038.30,1770.29 L1038.55,1770.36 L1038.80,1770.06 L1039.05,1770.32 L1039.30,1770.16 L1039.55,1770.26 L1039.80,1770.22 L1040.05,1770.14 L1040.30,1770.29 L1040.55,1770.38 L1040.80,1770.47 L1041.05,1770.40 L1041.30,1770.28 L1041.55,1770.69 L1041.80,1770.76 L1042.05,1770.58 L1042.30,1771.00 L1042.55,1771.15 L1042.80,1771.03 L1043.05,1770.61 L1043.30,1770.76 L1043.55,1770.80 L1043.80,1770.87 L1044.05,1770.94 L1044.30,1771.04 L1044.55,1770.93 L1044.80,1770.56 L1045.05,1771.28 L1045.30,1771.12 L1045.55,1771.38 L1045.80,1771.06 L1046.05,1771.25 L1046.30,1771.09 L1046.55,1771.18 L1046.80,1771.17 L1047.05,1771.26 L1047.30,1770.99 L1047.55,1771.40 L1047.80,1771.21 L1048.05,1770.80 L1048.30,1771.23 L1048.55,1771.26 L1048.80,1770.60 L1049.05,1771.17 L1049.30,1771.31 L1049.55,1771.16 L1049.80,1771.06 L1050.05,1771.17 L1050.30,1771.34 L1050.55,1771.37 L1050.80,1770.77 L1051.05,1771.24 L1051.30,1771.15 L1051.55,1770.68 L1051.80,1771.15 L1052.05,1770.81 L1052.30,1770.81 L1052.55,1770.78 L1052.80,1771.32 L1053.05,1771.03 L1053.30,1771.11 L1053.55,1770.93 L1053.80,1770.96 L1054.05,1771.01 L1054.30,1771.19 L1054.55,1771.34 L1054.80,1771.29 L1055.05,1771.16 L1055.30,1771.15 L1055.55,1770.81 L1055.80,1771.26 L1056.05,1770.97 L1056.30,1771.23 L1056.55,1771.11 L1056.80,1770.98 L1057.05,1771.13 L1057.30,1771.29 L1057.55,1771.27 L1057.80,1771.43 L1058.05,1771.39 L1058.30,1771.19 L1058.55,1771.10 L1058.80,1771.40 L1059.05,1771.41 L1059.30,1770.48 L1059.55,1771.13 L1059.80,1771.26 L1060.05,1771.13 L1060.30,1771.30 L1060.55,1771.37 L1060.80,1771.41 L1061.05,1771.40 L1061.30,1770.93 L1061.55,1771.25 L1061.80,1771.42 L1062.05,1770.99 L1062.30,1771.30 L1062.55,1771.03 L1062.80,1770.97 L1063.05,1771.18 L1063.30,1771.21 L1063.55,1771.39 L1063.80,1771.06 L1064.05,1771.25 L1064.30,1771.32 L1064.55,1771.19 L1064.80,1771.24 L1065.05,1770.74 L1065.30,1771.00 L1065.55,1771.23 L1065.80,1771.33 L1066.05,1770.87 L1066.30,1771.30 L1066.55,1771.35 L1066.80,1771.40 L1067.05,1771.04 L1067.30,1771.11 L1067.55,1770.74 L1067.80,1771.39 L1068.05,1771.11 L1068.30,1771.36 L1068.55,1771.26 L1068.80,1771.28 L1069.05,1771.43 L1069.30,1770.89 L1069.55,1770.76 L1069.80,1771.38 L1070.05,1771.36 L1070.30,1771.00 L1070.55,1771.41 L1070.80,1771.24 L1071.05,1771.37 L1071.30,1771.37 L1071.55,1771.02 L1071.80,1770.91 L1072.05,1771.19 L1072.30,1771.44 L1072.55,1771.12 L1072.80,1771.17 L1073.05,1771.27 L1073.30,1771.15 L1073.55,1771.31 L1073.80,1771.15 L1074.05,1771.25 L1074.30,1771.29 L1074.55,1771.40 L1074.80,1771.30 L1075.05,1771.23 L1075.30,1771.27 L1075.55,1771.05 L1075.80,1770.81 L1076.05,1770.99 L1076.30,1771.17 L1076.55,1770.92 L1076.80,1770.68 L1077.05,1771.22 L1077.30,1771.19 L1077.55,1771.35 L1077.80,1771.39" fill="none" stroke="#000" stroke-width="1.1" stroke-linejoin="round"/>
<text x="1090.6" y="1779.5" font-size="20.7" fill="#000" text-anchor="start" font-weight="normal" font-family="'Liberation Sans', Arial, Helvetica, sans-serif" font-style="italic">m/z</text>
<text x="0" y="0" font-size="21.3" font-family="'Liberation Sans', Arial, Helvetica, sans-serif" fill="#000" text-anchor="middle" transform="translate(671.4,1642) rotate(-90)">Intensity (%)</text>
<circle cx="771.0" cy="1749.0" r="5" fill="#FFC700"/>
<circle cx="809.4" cy="1664.0" r="5" fill="#FFC700"/>
<circle cx="856.7" cy="1737.9" r="5" fill="#FFC700"/>
<circle cx="885.5" cy="1749.0" r="5" fill="#F00000"/>
<circle cx="918.0" cy="1520.3" r="5" fill="#F00000"/>
<circle cx="956.0" cy="1490.4" r="5" fill="#F00000"/>
<circle cx="1000.0" cy="1723.1" r="5" fill="#F00000"/>
<text x="809.8" y="1647.5" font-size="20" fill="#000" text-anchor="middle" font-weight="normal" font-family="'Liberation Sans', Arial, Helvetica, sans-serif" >+9</text>
<text x="917.0" y="1507.0" font-size="20" fill="#000" text-anchor="middle" font-weight="normal" font-family="'Liberation Sans', Arial, Helvetica, sans-serif" >+14</text>
<circle cx="1000.4" cy="1512.5" r="5" fill="#F00000"/>
<text x="1013.0" y="1520.0" font-size="21.2" fill="#000" text-anchor="start" font-weight="normal" font-family="'Liberation Sans', Arial, Helvetica, sans-serif" >Tetramer</text>
<text x="1013.0" y="1547.7" font-size="21.2" fill="#000" text-anchor="start" font-weight="normal" font-family="'Liberation Sans', Arial, Helvetica, sans-serif" >44,812.3 ± 1.3 Da</text>
<circle cx="1000.4" cy="1581.6" r="5" fill="#FFC700"/>
<text x="1013.0" y="1589.1" font-size="21.2" fill="#000" text-anchor="start" font-weight="normal" font-family="'Liberation Sans', Arial, Helvetica, sans-serif" >Dimer</text>
<text x="1013.0" y="1615.0" font-size="21.2" fill="#000" text-anchor="start" font-weight="normal" font-family="'Liberation Sans', Arial, Helvetica, sans-serif" >22,404.3 ± 1.1 Da</text>
<text x="1215.0" y="1387.0" font-size="56" fill="#000" text-anchor="start" font-weight="bold" font-family="'Liberation Sans', Arial, Helvetica, sans-serif" >g</text>
<text x="1511.6" y="1449.0" font-size="28" fill="#000" text-anchor="middle" font-weight="bold" font-family="'Liberation Sans', Arial, Helvetica, sans-serif" >MJ1647ΔTM</text>
<line x1="1338.8" y1="1501.0" x2="1338.8" y2="1773.0" stroke="#000" stroke-width="1.8"/>
<line x1="1335.2" y1="1772.0" x2="1685.7" y2="1772.0" stroke="#000" stroke-width="2"/>
<line x1="1335.8" y1="1772.0" x2="1338.8" y2="1772.0" stroke="#000" stroke-width="1.2"/>
<line x1="1335.8" y1="1745.0" x2="1338.8" y2="1745.0" stroke="#000" stroke-width="1.2"/>
<line x1="1335.8" y1="1717.9" x2="1338.8" y2="1717.9" stroke="#000" stroke-width="1.2"/>
<line x1="1335.8" y1="1690.8" x2="1338.8" y2="1690.8" stroke="#000" stroke-width="1.2"/>
<line x1="1335.8" y1="1663.8" x2="1338.8" y2="1663.8" stroke="#000" stroke-width="1.2"/>
<line x1="1332.8" y1="1636.8" x2="1338.8" y2="1636.8" stroke="#000" stroke-width="1.2"/>
<line x1="1335.8" y1="1609.7" x2="1338.8" y2="1609.7" stroke="#000" stroke-width="1.2"/>
<line x1="1335.8" y1="1582.7" x2="1338.8" y2="1582.7" stroke="#000" stroke-width="1.2"/>
<line x1="1335.8" y1="1555.6" x2="1338.8" y2="1555.6" stroke="#000" stroke-width="1.2"/>
<line x1="1335.8" y1="1528.5" x2="1338.8" y2="1528.5" stroke="#000" stroke-width="1.2"/>
<line x1="1332.8" y1="1501.5" x2="1338.8" y2="1501.5" stroke="#000" stroke-width="1.2"/>
<text x="1324.3" y="1506.7" font-size="14.8" fill="#4D4D4D" text-anchor="end" font-weight="normal" font-family="'Liberation Sans', Arial, Helvetica, sans-serif" >100</text>
<text x="1324.3" y="1642.0" font-size="14.8" fill="#4D4D4D" text-anchor="end" font-weight="normal" font-family="'Liberation Sans', Arial, Helvetica, sans-serif" >50</text>
<line x1="1351.6" y1="1772.0" x2="1351.6" y2="1777.5" stroke="#000" stroke-width="1.2"/>
<text x="1351.6" y="1795.0" font-size="14.8" fill="#4D4D4D" text-anchor="middle" font-weight="normal" font-family="'Liberation Sans', Arial, Helvetica, sans-serif" >1500</text>
<line x1="1460.0" y1="1772.0" x2="1460.0" y2="1777.5" stroke="#000" stroke-width="1.2"/>
<text x="1460.0" y="1795.0" font-size="14.8" fill="#4D4D4D" text-anchor="middle" font-weight="normal" font-family="'Liberation Sans', Arial, Helvetica, sans-serif" >2000</text>
<line x1="1568.2" y1="1772.0" x2="1568.2" y2="1777.5" stroke="#000" stroke-width="1.2"/>
<text x="1568.2" y="1795.0" font-size="14.8" fill="#4D4D4D" text-anchor="middle" font-weight="normal" font-family="'Liberation Sans', Arial, Helvetica, sans-serif" >2500</text>
<line x1="1676.6" y1="1772.0" x2="1676.6" y2="1777.5" stroke="#000" stroke-width="1.2"/>
<text x="1676.6" y="1795.0" font-size="14.8" fill="#4D4D4D" text-anchor="middle" font-weight="normal" font-family="'Liberation Sans', Arial, Helvetica, sans-serif" >3000</text>
<line x1="1340.8" y1="1772.0" x2="1340.8" y2="1775.0" stroke="#000" stroke-width="1"/>
<line x1="1351.6" y1="1772.0" x2="1351.6" y2="1775.0" stroke="#000" stroke-width="1"/>
<line x1="1362.4" y1="1772.0" x2="1362.4" y2="1775.0" stroke="#000" stroke-width="1"/>
<line x1="1373.3" y1="1772.0" x2="1373.3" y2="1775.0" stroke="#000" stroke-width="1"/>
<line x1="1384.1" y1="1772.0" x2="1384.1" y2="1775.0" stroke="#000" stroke-width="1"/>
<line x1="1395.0" y1="1772.0" x2="1395.0" y2="1775.0" stroke="#000" stroke-width="1"/>
<line x1="1405.8" y1="1772.0" x2="1405.8" y2="1775.0" stroke="#000" stroke-width="1"/>
<line x1="1416.6" y1="1772.0" x2="1416.6" y2="1775.0" stroke="#000" stroke-width="1"/>
<line x1="1427.5" y1="1772.0" x2="1427.5" y2="1775.0" stroke="#000" stroke-width="1"/>
<line x1="1438.3" y1="1772.0" x2="1438.3" y2="1775.0" stroke="#000" stroke-width="1"/>
<line x1="1449.2" y1="1772.0" x2="1449.2" y2="1775.0" stroke="#000" stroke-width="1"/>
<line x1="1460.0" y1="1772.0" x2="1460.0" y2="1775.0" stroke="#000" stroke-width="1"/>
<line x1="1470.8" y1="1772.0" x2="1470.8" y2="1775.0" stroke="#000" stroke-width="1"/>
<line x1="1481.7" y1="1772.0" x2="1481.7" y2="1775.0" stroke="#000" stroke-width="1"/>
<line x1="1492.5" y1="1772.0" x2="1492.5" y2="1775.0" stroke="#000" stroke-width="1"/>
<line x1="1503.4" y1="1772.0" x2="1503.4" y2="1775.0" stroke="#000" stroke-width="1"/>
<line x1="1514.2" y1="1772.0" x2="1514.2" y2="1775.0" stroke="#000" stroke-width="1"/>
<line x1="1525.0" y1="1772.0" x2="1525.0" y2="1775.0" stroke="#000" stroke-width="1"/>
<line x1="1535.9" y1="1772.0" x2="1535.9" y2="1775.0" stroke="#000" stroke-width="1"/>
<line x1="1546.7" y1="1772.0" x2="1546.7" y2="1775.0" stroke="#000" stroke-width="1"/>
<line x1="1557.6" y1="1772.0" x2="1557.6" y2="1775.0" stroke="#000" stroke-width="1"/>
<line x1="1568.4" y1="1772.0" x2="1568.4" y2="1775.0" stroke="#000" stroke-width="1"/>
<line x1="1579.2" y1="1772.0" x2="1579.2" y2="1775.0" stroke="#000" stroke-width="1"/>
<line x1="1590.1" y1="1772.0" x2="1590.1" y2="1775.0" stroke="#000" stroke-width="1"/>
<line x1="1600.9" y1="1772.0" x2="1600.9" y2="1775.0" stroke="#000" stroke-width="1"/>
<line x1="1611.8" y1="1772.0" x2="1611.8" y2="1775.0" stroke="#000" stroke-width="1"/>
<line x1="1622.6" y1="1772.0" x2="1622.6" y2="1775.0" stroke="#000" stroke-width="1"/>
<line x1="1633.4" y1="1772.0" x2="1633.4" y2="1775.0" stroke="#000" stroke-width="1"/>
<line x1="1644.3" y1="1772.0" x2="1644.3" y2="1775.0" stroke="#000" stroke-width="1"/>
<line x1="1655.1" y1="1772.0" x2="1655.1" y2="1775.0" stroke="#000" stroke-width="1"/>
<line x1="1666.0" y1="1772.0" x2="1666.0" y2="1775.0" stroke="#000" stroke-width="1"/>
<line x1="1676.8" y1="1772.0" x2="1676.8" y2="1775.0" stroke="#000" stroke-width="1"/>
<path d="M1339.30,1771.40 L1339.55,1771.29 L1339.80,1771.41 L1340.05,1771.37 L1340.30,1771.13 L1340.55,1771.41 L1340.80,1771.05 L1341.05,1771.33 L1341.30,1771.08 L1341.55,1771.40 L1341.80,1771.34 L1342.05,1771.42 L1342.30,1770.83 L1342.55,1771.16 L1342.80,1771.29 L1343.05,1771.30 L1343.30,1770.82 L1343.55,1770.80 L1343.80,1771.14 L1344.05,1771.31 L1344.30,1771.38 L1344.55,1771.48 L1344.80,1771.29 L1345.05,1771.24 L1345.30,1771.37 L1345.55,1771.34 L1345.80,1771.23 L1346.05,1770.81 L1346.30,1771.27 L1346.55,1771.02 L1346.80,1771.25 L1347.05,1771.20 L1347.30,1771.36 L1347.55,1771.45 L1347.80,1771.24 L1348.05,1771.40 L1348.30,1771.32 L1348.55,1771.11 L1348.80,1771.29 L1349.05,1771.01 L1349.30,1771.17 L1349.55,1771.40 L1349.80,1771.33 L1350.05,1770.90 L1350.30,1771.48 L1350.55,1770.97 L1350.80,1770.69 L1351.05,1771.37 L1351.30,1771.45 L1351.55,1771.17 L1351.80,1771.30 L1352.05,1771.47 L1352.30,1770.91 L1352.55,1771.17 L1352.80,1771.23 L1353.05,1771.12 L1353.30,1770.92 L1353.55,1771.35 L1353.80,1771.45 L1354.05,1770.98 L1354.30,1771.25 L1354.55,1771.25 L1354.80,1771.32 L1355.05,1770.99 L1355.30,1771.11 L1355.55,1771.28 L1355.80,1770.98 L1356.05,1770.68 L1356.30,1770.91 L1356.55,1771.40 L1356.80,1770.92 L1357.05,1771.27 L1357.30,1770.74 L1357.55,1770.49 L1357.80,1771.35 L1358.05,1771.20 L1358.30,1771.05 L1358.55,1771.11 L1358.80,1771.06 L1359.05,1771.43 L1359.30,1771.40 L1359.55,1771.32 L1359.80,1770.86 L1360.05,1771.25 L1360.30,1771.29 L1360.55,1771.28 L1360.80,1770.87 L1361.05,1770.98 L1361.30,1771.11 L1361.55,1771.28 L1361.80,1770.71 L1362.05,1771.24 L1362.30,1771.16 L1362.55,1770.77 L1362.80,1771.42 L1363.05,1771.09 L1363.30,1770.97 L1363.55,1770.85 L1363.80,1771.28 L1364.05,1771.44 L1364.30,1771.37 L1364.55,1771.24 L1364.80,1771.45 L1365.05,1771.04 L1365.30,1771.23 L1365.55,1771.33 L1365.80,1771.08 L1366.05,1771.49 L1366.30,1771.14 L1366.55,1771.12 L1366.80,1770.91 L1367.05,1771.32 L1367.30,1770.94 L1367.55,1771.44 L1367.80,1771.44 L1368.05,1771.38 L1368.30,1770.93 L1368.55,1771.09 L1368.80,1770.99 L1369.05,1770.99 L1369.30,1771.18 L1369.55,1771.24 L1369.80,1771.04 L1370.05,1771.15 L1370.30,1771.36 L1370.55,1771.44 L1370.80,1771.43 L1371.05,1771.27 L1371.30,1771.43 L1371.55,1771.38 L1371.80,1771.27 L1372.05,1771.50 L1372.30,1771.19 L1372.55,1771.27 L1372.80,1770.69 L1373.05,1771.37 L1373.30,1771.32 L1373.55,1771.35 L1373.80,1771.49 L1374.05,1771.13 L1374.30,1771.36 L1374.55,1771.34 L1374.80,1770.76 L1375.05,1770.47 L1375.30,1771.05 L1375.55,1771.40 L1375.80,1771.34 L1376.05,1771.40 L1376.30,1771.32 L1376.55,1771.23 L1376.80,1771.38 L1377.05,1771.29 L1377.30,1770.52 L1377.55,1771.35 L1377.80,1771.27 L1378.05,1771.46 L1378.30,1771.40 L1378.55,1771.47 L1378.80,1770.40 L1379.05,1771.30 L1379.30,1771.09 L1379.55,1771.03 L1379.80,1771.47 L1380.05,1771.11 L1380.30,1771.15 L1380.55,1770.90 L1380.80,1770.81 L1381.05,1771.35 L1381.30,1771.36 L1381.55,1771.25 L1381.80,1771.06 L1382.05,1770.42 L1382.30,1771.06 L1382.55,1770.92 L1382.80,1771.22 L1383.05,1770.90 L1383.30,1771.42 L1383.55,1771.02 L1383.80,1771.43 L1384.05,1771.42 L1384.30,1771.18 L1384.55,1771.44 L1384.80,1771.46 L1385.05,1770.88 L1385.30,1771.07 L1385.55,1771.38 L1385.80,1770.40 L1386.05,1771.04 L1386.30,1771.13 L1386.55,1771.39 L1386.80,1771.44 L1387.05,1771.21 L1387.30,1771.41 L1387.55,1771.24 L1387.80,1770.88 L1388.05,1770.89 L1388.30,1771.25 L1388.55,1771.11 L1388.80,1771.08 L1389.05,1770.91 L1389.30,1770.99 L1389.55,1771.19 L1389.80,1770.90 L1390.05,1771.12 L1390.30,1771.49 L1390.55,1771.04 L1390.80,1771.19 L1391.05,1770.86 L1391.30,1771.14 L1391.55,1770.87 L1391.80,1771.10 L1392.05,1771.42 L1392.30,1770.70 L1392.55,1770.93 L1392.80,1771.45 L1393.05,1771.25 L1393.30,1771.33 L1393.55,1771.33 L1393.80,1770.89 L1394.05,1771.08 L1394.30,1771.04 L1394.55,1770.90 L1394.80,1770.91 L1395.05,1771.42 L1395.30,1771.19 L1395.55,1771.08 L1395.80,1771.45 L1396.05,1771.44 L1396.30,1770.92 L1396.55,1771.39 L1396.80,1770.57 L1397.05,1771.34 L1397.30,1770.75 L1397.55,1771.16 L1397.80,1771.36 L1398.05,1771.25 L1398.30,1771.49 L1398.55,1771.16 L1398.80,1771.46 L1399.05,1770.96 L1399.30,1771.47 L1399.55,1771.07 L1399.80,1770.89 L1400.05,1770.85 L1400.30,1771.22 L1400.55,1771.14 L1400.80,1770.74 L1401.05,1771.06 L1401.30,1770.70 L1401.55,1771.06 L1401.80,1771.00 L1402.05,1771.48 L1402.30,1771.41 L1402.55,1771.48 L1402.80,1771.25 L1403.05,1771.40 L1403.30,1770.77 L1403.55,1771.47 L1403.80,1771.28 L1404.05,1771.09 L1404.30,1771.41 L1404.55,1770.98 L1404.80,1771.26 L1405.05,1771.06 L1405.30,1770.83 L1405.55,1771.25 L1405.80,1771.08 L1406.05,1771.17 L1406.30,1771.48 L1406.55,1771.16 L1406.80,1771.42 L1407.05,1771.01 L1407.30,1770.86 L1407.55,1771.23 L1407.80,1771.11 L1408.05,1771.25 L1408.30,1771.12 L1408.55,1771.17 L1408.80,1770.86 L1409.05,1771.43 L1409.30,1771.00 L1409.55,1771.33 L1409.80,1770.53 L1410.05,1771.34 L1410.30,1771.21 L1410.55,1770.69 L1410.80,1771.17 L1411.05,1771.34 L1411.30,1770.55 L1411.55,1771.09 L1411.80,1771.31 L1412.05,1771.23 L1412.30,1771.08 L1412.55,1771.06 L1412.80,1771.04 L1413.05,1771.08 L1413.30,1770.24 L1413.55,1768.63 L1413.80,1764.89 L1414.05,1762.66 L1414.30,1766.02 L1414.55,1768.89 L1414.80,1770.44 L1415.05,1770.70 L1415.30,1770.27 L1415.55,1770.44 L1415.80,1771.03 L1416.05,1770.30 L1416.30,1770.94 L1416.55,1771.07 L1416.80,1770.61 L1417.05,1771.33 L1417.30,1771.17 L1417.55,1771.05 L1417.80,1771.05 L1418.05,1771.39 L1418.30,1771.31 L1418.55,1771.11 L1418.80,1771.43 L1419.05,1771.37 L1419.30,1771.04 L1419.55,1771.31 L1419.80,1771.10 L1420.05,1771.42 L1420.30,1771.12 L1420.55,1771.12 L1420.80,1770.39 L1421.05,1771.01 L1421.30,1771.21 L1421.55,1770.43 L1421.80,1771.22 L1422.05,1771.27 L1422.30,1770.79 L1422.55,1771.30 L1422.80,1771.44 L1423.05,1771.26 L1423.30,1770.69 L1423.55,1771.06 L1423.80,1771.34 L1424.05,1771.19 L1424.30,1770.94 L1424.55,1770.75 L1424.80,1770.91 L1425.05,1771.20 L1425.30,1771.35 L1425.55,1771.40 L1425.80,1771.31 L1426.05,1771.08 L1426.30,1770.62 L1426.55,1771.06 L1426.80,1770.99 L1427.05,1770.93 L1427.30,1770.79 L1427.55,1771.08 L1427.80,1770.74 L1428.05,1771.15 L1428.30,1771.12 L1428.55,1771.37 L1428.80,1770.61 L1429.05,1771.17 L1429.30,1771.45 L1429.55,1771.26 L1429.80,1771.18 L1430.05,1771.42 L1430.30,1771.29 L1430.55,1771.32 L1430.80,1771.21 L1431.05,1771.38 L1431.30,1771.34 L1431.55,1771.15 L1431.80,1771.45 L1432.05,1771.14 L1432.30,1771.22 L1432.55,1771.47 L1432.80,1771.42 L1433.05,1771.40 L1433.30,1771.46 L1433.55,1771.39 L1433.80,1771.41 L1434.05,1770.96 L1434.30,1771.29 L1434.55,1771.04 L1434.80,1771.29 L1435.05,1771.39 L1435.30,1771.28 L1435.55,1771.07 L1435.80,1770.70 L1436.05,1771.43 L1436.30,1771.09 L1436.55,1771.16 L1436.80,1771.02 L1437.05,1770.40 L1437.30,1771.04 L1437.55,1770.82 L1437.80,1771.30 L1438.05,1770.90 L1438.30,1771.15 L1438.55,1771.24 L1438.80,1771.25 L1439.05,1771.38 L1439.30,1770.85 L1439.55,1771.16 L1439.80,1771.44 L1440.05,1771.20 L1440.30,1770.78 L1440.55,1771.05 L1440.80,1771.03 L1441.05,1771.00 L1441.30,1771.38 L1441.55,1771.14 L1441.80,1771.31 L1442.05,1771.00 L1442.30,1771.19 L1442.55,1771.06 L1442.80,1771.34 L1443.05,1770.40 L1443.30,1770.92 L1443.55,1771.33 L1443.80,1771.37 L1444.05,1770.37 L1444.30,1771.27 L1444.55,1771.05 L1444.80,1771.00 L1445.05,1771.38 L1445.30,1770.91 L1445.55,1771.29 L1445.80,1771.21 L1446.05,1770.88 L1446.30,1771.00 L1446.55,1771.26 L1446.80,1770.84 L1447.05,1770.56 L1447.30,1769.13 L1447.55,1766.63 L1447.80,1766.16 L1448.05,1768.19 L1448.30,1769.81 L1448.55,1770.56 L1448.80,1770.99 L1449.05,1770.49 L1449.30,1770.97 L1449.55,1770.38 L1449.80,1770.93 L1450.05,1771.00 L1450.30,1771.01 L1450.55,1771.23 L1450.80,1771.16 L1451.05,1770.69 L1451.30,1770.52 L1451.55,1771.04 L1451.80,1770.81 L1452.05,1770.89 L1452.30,1771.16 L1452.55,1770.50 L1452.80,1770.90 L1453.05,1770.83 L1453.30,1770.43 L1453.55,1771.16 L1453.80,1770.91 L1454.05,1770.44 L1454.30,1770.40 L1454.55,1770.68 L1454.80,1770.83 L1455.05,1770.50 L1455.30,1771.02 L1455.55,1770.90 L1455.80,1770.71 L1456.05,1770.64 L1456.30,1770.28 L1456.55,1770.36 L1456.80,1770.25 L1457.05,1770.51 L1457.30,1770.21 L1457.55,1770.12 L1457.80,1770.42 L1458.05,1770.34 L1458.30,1770.01 L1458.55,1769.41 L1458.80,1769.36 L1459.05,1769.62 L1459.30,1769.26 L1459.55,1768.86 L1459.80,1768.51 L1460.05,1767.66 L1460.30,1766.92 L1460.55,1766.03 L1460.80,1764.69 L1461.05,1762.02 L1461.30,1755.39 L1461.55,1729.16 L1461.80,1660.74 L1462.05,1555.69 L1462.30,1498.34 L1462.55,1547.77 L1462.80,1637.62 L1463.05,1685.19 L1463.30,1682.78 L1463.55,1670.81 L1463.80,1682.80 L1464.05,1709.04 L1464.30,1727.30 L1464.55,1732.22 L1464.80,1732.89 L1465.05,1734.66 L1465.30,1738.91 L1465.55,1745.31 L1465.80,1751.27 L1466.05,1755.79 L1466.30,1759.35 L1466.55,1761.17 L1466.80,1762.32 L1467.05,1763.69 L1467.30,1764.32 L1467.55,1765.16 L1467.80,1765.58 L1468.05,1766.14 L1468.30,1765.83 L1468.55,1767.04 L1468.80,1767.08 L1469.05,1767.79 L1469.30,1767.67 L1469.55,1767.42 L1469.80,1768.30 L1470.05,1768.70 L1470.30,1768.74 L1470.55,1768.21 L1470.80,1769.17 L1471.05,1768.92 L1471.30,1769.25 L1471.55,1769.29 L1471.80,1769.57 L1472.05,1769.81 L1472.30,1769.75 L1472.55,1769.61 L1472.80,1769.64 L1473.05,1769.77 L1473.30,1770.14 L1473.55,1769.46 L1473.80,1770.27 L1474.05,1770.40 L1474.30,1769.99 L1474.55,1770.49 L1474.80,1770.22 L1475.05,1770.48 L1475.30,1770.39 L1475.55,1770.37 L1475.80,1770.38 L1476.05,1770.02 L1476.30,1770.08 L1476.55,1770.77 L1476.80,1770.70 L1477.05,1770.66 L1477.30,1770.29 L1477.55,1770.59 L1477.80,1770.62 L1478.05,1770.72 L1478.30,1770.65 L1478.55,1770.66 L1478.80,1770.43 L1479.05,1770.98 L1479.30,1770.73 L1479.55,1770.69 L1479.80,1771.01 L1480.05,1770.92 L1480.30,1770.45 L1480.55,1770.61 L1480.80,1770.87 L1481.05,1770.18 L1481.30,1771.10 L1481.55,1770.80 L1481.80,1770.86 L1482.05,1771.11 L1482.30,1770.44 L1482.55,1770.43 L1482.80,1770.61 L1483.05,1770.68 L1483.30,1770.57 L1483.55,1770.53 L1483.80,1770.72 L1484.05,1771.01 L1484.30,1771.18 L1484.55,1771.08 L1484.80,1771.17 L1485.05,1770.79 L1485.30,1771.22 L1485.55,1770.66 L1485.80,1771.21 L1486.05,1771.12 L1486.30,1771.06 L1486.55,1771.16 L1486.80,1770.90 L1487.05,1771.20 L1487.30,1771.07 L1487.55,1770.64 L1487.80,1770.97 L1488.05,1771.23 L1488.30,1771.09 L1488.55,1771.01 L1488.80,1770.92 L1489.05,1771.15 L1489.30,1771.18 L1489.55,1771.09 L1489.80,1771.08 L1490.05,1770.47 L1490.30,1771.03 L1490.55,1771.31 L1490.80,1770.20 L1491.05,1770.57 L1491.30,1771.11 L1491.55,1771.26 L1491.80,1771.26 L1492.05,1771.17 L1492.30,1771.24 L1492.55,1771.19 L1492.80,1771.31 L1493.05,1771.03 L1493.30,1770.58 L1493.55,1770.99 L1493.80,1771.34 L1494.05,1770.93 L1494.30,1770.93 L1494.55,1771.10 L1494.80,1771.09 L1495.05,1771.10 L1495.30,1771.05 L1495.55,1771.23 L1495.80,1771.15 L1496.05,1771.32 L1496.30,1770.80 L1496.55,1771.35 L1496.80,1771.18 L1497.05,1771.15 L1497.30,1771.32 L1497.55,1771.06 L1497.80,1771.01 L1498.05,1771.11 L1498.30,1770.62 L1498.55,1771.15 L1498.80,1771.31 L1499.05,1771.31 L1499.30,1770.75 L1499.55,1771.24 L1499.80,1771.01 L1500.05,1771.10 L1500.30,1771.37 L1500.55,1771.37 L1500.80,1770.66 L1501.05,1770.80 L1501.30,1771.01 L1501.55,1770.67 L1501.80,1771.07 L1502.05,1771.32 L1502.30,1771.19 L1502.55,1771.22 L1502.80,1770.77 L1503.05,1771.28 L1503.30,1770.77 L1503.55,1771.14 L1503.80,1770.96 L1504.05,1770.82 L1504.30,1770.87 L1504.55,1771.22 L1504.80,1770.67 L1505.05,1771.17 L1505.30,1771.24 L1505.55,1770.43 L1505.80,1771.10 L1506.05,1771.02 L1506.30,1771.05 L1506.55,1770.97 L1506.80,1770.50 L1507.05,1769.17 L1507.30,1766.98 L1507.55,1765.94 L1507.80,1767.44 L1508.05,1769.90 L1508.30,1770.53 L1508.55,1770.78 L1508.80,1771.02 L1509.05,1771.10 L1509.30,1771.04 L1509.55,1770.80 L1509.80,1770.69 L1510.05,1771.11 L1510.30,1770.93 L1510.55,1770.98 L1510.80,1771.26 L1511.05,1770.99 L1511.30,1770.69 L1511.55,1771.15 L1511.80,1771.27 L1512.05,1771.22 L1512.30,1770.70 L1512.55,1771.29 L1512.80,1771.03 L1513.05,1771.15 L1513.30,1770.84 L1513.55,1770.50 L1513.80,1771.27 L1514.05,1771.17 L1514.30,1771.05 L1514.55,1770.91 L1514.80,1771.15 L1515.05,1771.01 L1515.30,1771.05 L1515.55,1770.61 L1515.80,1770.95 L1516.05,1771.20 L1516.30,1770.86 L1516.55,1771.12 L1516.80,1771.05 L1517.05,1770.89 L1517.30,1771.01 L1517.55,1770.45 L1517.80,1770.82 L1518.05,1770.12 L1518.30,1770.78 L1518.55,1771.00 L1518.80,1770.90 L1519.05,1770.52 L1519.30,1770.39 L1519.55,1769.99 L1519.80,1770.53 L1520.05,1770.39 L1520.30,1770.38 L1520.55,1769.48 L1520.80,1770.34 L1521.05,1770.19 L1521.30,1769.76 L1521.55,1769.79 L1521.80,1769.04 L1522.05,1768.91 L1522.30,1768.87 L1522.55,1767.15 L1522.80,1767.54 L1523.05,1766.82 L1523.30,1765.28 L1523.55,1762.16 L1523.80,1754.18 L1524.05,1723.70 L1524.30,1655.92 L1524.55,1580.43 L1524.80,1569.19 L1525.05,1624.23 L1525.30,1676.57 L1525.55,1689.05 L1525.80,1689.43 L1526.05,1704.79 L1526.30,1727.52 L1526.55,1741.57 L1526.80,1745.24 L1527.05,1744.86 L1527.30,1743.55 L1527.55,1744.38 L1527.80,1747.96 L1528.05,1752.27 L1528.30,1756.68 L1528.55,1760.44 L1528.80,1762.24 L1529.05,1763.63 L1529.30,1765.06 L1529.55,1765.51 L1529.80,1766.34 L1530.05,1766.84 L1530.30,1766.70 L1530.55,1767.30 L1530.80,1768.00 L1531.05,1768.19 L1531.30,1768.42 L1531.55,1768.76 L1531.80,1768.72 L1532.05,1769.03 L1532.30,1769.32 L1532.55,1768.63 L1532.80,1769.45 L1533.05,1769.47 L1533.30,1769.31 L1533.55,1769.80 L1533.80,1769.99 L1534.05,1769.49 L1534.30,1770.07 L1534.55,1769.97 L1534.80,1769.66 L1535.05,1770.38 L1535.30,1769.96 L1535.55,1770.21 L1535.80,1770.46 L1536.05,1770.56 L1536.30,1770.58 L1536.55,1770.22 L1536.80,1769.75 L1537.05,1770.47 L1537.30,1770.54 L1537.55,1770.60 L1537.80,1770.40 L1538.05,1770.65 L1538.30,1770.65 L1538.55,1770.79 L1538.80,1770.71 L1539.05,1770.32 L1539.30,1770.66 L1539.55,1770.36 L1539.80,1770.72 L1540.05,1770.79 L1540.30,1770.87 L1540.55,1770.70 L1540.80,1771.03 L1541.05,1770.91 L1541.30,1770.87 L1541.55,1770.47 L1541.80,1771.11 L1542.05,1770.97 L1542.30,1770.64 L1542.55,1771.04 L1542.80,1770.64 L1543.05,1770.17 L1543.30,1770.29 L1543.55,1770.39 L1543.80,1771.17 L1544.05,1771.03 L1544.30,1770.82 L1544.55,1770.94 L1544.80,1771.11 L1545.05,1770.80 L1545.30,1771.19 L1545.55,1770.82 L1545.80,1770.81 L1546.05,1770.84 L1546.30,1771.25 L1546.55,1770.49 L1546.80,1771.16 L1547.05,1771.10 L1547.30,1771.10 L1547.55,1771.00 L1547.80,1770.93 L1548.05,1771.13 L1548.30,1771.27 L1548.55,1771.03 L1548.80,1771.30 L1549.05,1771.01 L1549.30,1770.84 L1549.55,1770.63 L1549.80,1771.00 L1550.05,1771.15 L1550.30,1770.33 L1550.55,1770.57 L1550.80,1771.04 L1551.05,1771.32 L1551.30,1771.13 L1551.55,1770.80 L1551.80,1771.16 L1552.05,1771.33 L1552.30,1770.62 L1552.55,1771.23 L1552.80,1770.88 L1553.05,1770.61 L1553.30,1771.04 L1553.55,1771.28 L1553.80,1771.17 L1554.05,1771.19 L1554.30,1770.85 L1554.55,1771.28 L1554.80,1771.02 L1555.05,1771.21 L1555.30,1771.08 L1555.55,1771.05 L1555.80,1771.34 L1556.05,1770.69 L1556.30,1771.20 L1556.55,1771.32 L1556.80,1770.93 L1557.05,1771.07 L1557.30,1771.31 L1557.55,1771.01 L1557.80,1771.22 L1558.05,1771.18 L1558.30,1771.38 L1558.55,1770.86 L1558.80,1771.24 L1559.05,1771.18 L1559.30,1771.05 L1559.55,1771.38 L1559.80,1771.29 L1560.05,1771.17 L1560.30,1771.30 L1560.55,1771.16 L1560.80,1771.27 L1561.05,1770.93 L1561.30,1771.24 L1561.55,1771.34 L1561.80,1771.01 L1562.05,1771.10 L1562.30,1771.30 L1562.55,1771.28 L1562.80,1771.10 L1563.05,1770.89 L1563.30,1771.14 L1563.55,1771.24 L1563.80,1771.07 L1564.05,1770.50 L1564.30,1771.23 L1564.55,1770.95 L1564.80,1771.17 L1565.05,1771.10 L1565.30,1770.54 L1565.55,1770.41 L1565.80,1771.25 L1566.05,1771.23 L1566.30,1771.39 L1566.55,1771.16 L1566.80,1770.57 L1567.05,1771.40 L1567.30,1770.77 L1567.55,1771.09 L1567.80,1770.75 L1568.05,1770.97 L1568.30,1771.20 L1568.55,1771.38 L1568.80,1770.93 L1569.05,1771.39 L1569.30,1770.88 L1569.55,1770.76 L1569.80,1770.97 L1570.05,1771.14 L1570.30,1771.11 L1570.55,1771.10 L1570.80,1771.24 L1571.05,1771.18 L1571.30,1770.54 L1571.55,1771.32 L1571.80,1771.08 L1572.05,1771.15 L1572.30,1771.09 L1572.55,1770.46 L1572.80,1771.38 L1573.05,1771.25 L1573.30,1770.43 L1573.55,1771.07 L1573.80,1771.32 L1574.05,1771.43 L1574.30,1771.09 L1574.55,1771.27 L1574.80,1770.99 L1575.05,1771.13 L1575.30,1771.34 L1575.55,1771.24 L1575.80,1771.39 L1576.05,1771.18 L1576.30,1770.81 L1576.55,1771.02 L1576.80,1771.33 L1577.05,1771.23 L1577.30,1771.37 L1577.55,1771.06 L1577.80,1771.06 L1578.05,1771.41 L1578.30,1771.24 L1578.55,1771.25 L1578.80,1771.32 L1579.05,1770.61 L1579.30,1770.96 L1579.55,1771.33 L1579.80,1771.45 L1580.05,1771.35 L1580.30,1771.35 L1580.55,1771.29 L1580.80,1771.05 L1581.05,1771.16 L1581.30,1771.22 L1581.55,1771.21 L1581.80,1771.00 L1582.05,1771.21 L1582.30,1770.94 L1582.55,1771.20 L1582.80,1771.06 L1583.05,1771.32 L1583.30,1770.91 L1583.55,1771.38 L1583.80,1771.17 L1584.05,1771.44 L1584.30,1771.40 L1584.55,1770.77 L1584.80,1771.22 L1585.05,1771.40 L1585.30,1771.28 L1585.55,1771.43 L1585.80,1771.17 L1586.05,1771.16 L1586.30,1771.10 L1586.55,1771.23 L1586.80,1771.35 L1587.05,1771.46 L1587.30,1771.36 L1587.55,1771.34 L1587.80,1771.39 L1588.05,1770.78 L1588.30,1771.33 L1588.55,1771.46 L1588.80,1771.08 L1589.05,1771.46 L1589.30,1771.26 L1589.55,1771.40 L1589.80,1770.64 L1590.05,1770.43 L1590.30,1771.39 L1590.55,1770.74 L1590.80,1771.08 L1591.05,1770.41 L1591.30,1770.47 L1591.55,1771.42 L1591.80,1771.26 L1592.05,1771.35 L1592.30,1771.25 L1592.55,1770.57 L1592.80,1771.13 L1593.05,1771.32 L1593.30,1771.46 L1593.55,1771.24 L1593.80,1771.22 L1594.05,1771.28 L1594.30,1771.38 L1594.55,1771.27 L1594.80,1770.57 L1595.05,1771.46 L1595.30,1771.39 L1595.55,1771.17 L1595.80,1771.12 L1596.05,1771.46 L1596.30,1771.22 L1596.55,1771.41 L1596.80,1770.97 L1597.05,1770.68 L1597.30,1771.11 L1597.55,1770.70 L1597.80,1771.13 L1598.05,1770.86 L1598.30,1771.10 L1598.55,1771.15 L1598.80,1771.22 L1599.05,1771.19 L1599.30,1771.12 L1599.55,1771.11 L1599.80,1770.75 L1600.05,1771.07 L1600.30,1770.47 L1600.55,1770.70 L1600.80,1771.20 L1601.05,1771.18 L1601.30,1771.38 L1601.55,1771.17 L1601.80,1770.95 L1602.05,1771.44 L1602.30,1771.03 L1602.55,1770.94 L1602.80,1771.23 L1603.05,1771.38 L1603.30,1771.46 L1603.55,1771.33 L1603.80,1771.33 L1604.05,1771.17 L1604.30,1770.71 L1604.55,1770.56 L1604.80,1770.92 L1605.05,1771.11 L1605.30,1771.38 L1605.55,1771.28 L1605.80,1770.76 L1606.05,1770.14 L1606.30,1768.84 L1606.55,1768.52 L1606.80,1768.63 L1607.05,1770.35 L1607.30,1770.79 L1607.55,1770.98 L1607.80,1771.23 L1608.05,1771.25 L1608.30,1770.98 L1608.55,1771.37 L1608.80,1771.10 L1609.05,1771.18 L1609.30,1771.33 L1609.55,1770.91 L1609.80,1771.21 L1610.05,1771.30 L1610.30,1771.12 L1610.55,1771.13 L1610.80,1770.83 L1611.05,1770.75 L1611.30,1771.45 L1611.55,1771.23 L1611.80,1770.99 L1612.05,1771.14 L1612.30,1770.98 L1612.55,1770.96 L1612.80,1771.21 L1613.05,1771.29 L1613.30,1770.90 L1613.55,1771.43 L1613.80,1771.13 L1614.05,1771.33 L1614.30,1771.21 L1614.55,1771.13 L1614.80,1770.87 L1615.05,1771.22 L1615.30,1771.47 L1615.55,1770.61 L1615.80,1771.00 L1616.05,1771.34 L1616.30,1771.23 L1616.55,1771.31 L1616.80,1770.83 L1617.05,1771.23 L1617.30,1770.97 L1617.55,1771.44 L1617.80,1771.27 L1618.05,1771.40 L1618.30,1771.31 L1618.55,1770.96 L1618.80,1770.91 L1619.05,1771.46 L1619.30,1771.38 L1619.55,1771.25 L1619.80,1771.36 L1620.05,1771.17 L1620.30,1770.68 L1620.55,1771.23 L1620.80,1771.35 L1621.05,1770.86 L1621.30,1770.71 L1621.55,1771.45 L1621.80,1771.47 L1622.05,1771.03 L1622.30,1771.46 L1622.55,1771.04 L1622.80,1771.45 L1623.05,1771.30 L1623.30,1771.47 L1623.55,1771.37 L1623.80,1771.14 L1624.05,1770.91 L1624.30,1771.22 L1624.55,1770.76 L1624.80,1771.41 L1625.05,1771.18 L1625.30,1771.08 L1625.55,1771.34 L1625.80,1771.37 L1626.05,1771.01 L1626.30,1771.43 L1626.55,1770.91 L1626.80,1771.21 L1627.05,1771.42 L1627.30,1771.43 L1627.55,1771.44 L1627.80,1771.47 L1628.05,1771.19 L1628.30,1771.45 L1628.55,1770.52 L1628.80,1771.48 L1629.05,1771.13 L1629.30,1771.22 L1629.55,1771.24 L1629.80,1771.43 L1630.05,1770.61 L1630.30,1771.07 L1630.55,1771.04 L1630.80,1770.92 L1631.05,1770.53 L1631.30,1770.73 L1631.55,1771.34 L1631.80,1771.23 L1632.05,1770.74 L1632.30,1770.89 L1632.55,1771.24 L1632.80,1771.18 L1633.05,1771.34 L1633.30,1771.35 L1633.55,1770.94 L1633.80,1770.71 L1634.05,1771.07 L1634.30,1771.43 L1634.55,1771.41 L1634.80,1770.77 L1635.05,1770.92 L1635.30,1771.36 L1635.55,1771.30 L1635.80,1771.37 L1636.05,1771.47 L1636.30,1771.29 L1636.55,1770.96 L1636.80,1771.27 L1637.05,1770.87 L1637.30,1771.00 L1637.55,1771.27 L1637.80,1771.01 L1638.05,1770.93 L1638.30,1771.13 L1638.55,1770.72 L1638.80,1770.75 L1639.05,1771.16 L1639.30,1770.66 L1639.55,1771.00 L1639.80,1771.28 L1640.05,1771.32 L1640.30,1771.41 L1640.55,1771.42 L1640.80,1771.07 L1641.05,1770.89 L1641.30,1770.99 L1641.55,1770.93 L1641.80,1771.27 L1642.05,1771.25 L1642.30,1771.34 L1642.55,1771.38 L1642.80,1771.48 L1643.05,1771.22 L1643.30,1771.31 L1643.55,1771.11 L1643.80,1771.18 L1644.05,1771.45 L1644.30,1771.36 L1644.55,1770.87 L1644.80,1771.25 L1645.05,1771.23 L1645.30,1771.03 L1645.55,1771.38 L1645.80,1771.16 L1646.05,1771.04 L1646.30,1771.08 L1646.55,1771.41 L1646.80,1770.85 L1647.05,1771.22 L1647.30,1771.13 L1647.55,1770.98 L1647.80,1771.22 L1648.05,1771.42 L1648.30,1771.38 L1648.55,1771.36 L1648.80,1771.39 L1649.05,1771.27 L1649.30,1771.22 L1649.55,1771.49 L1649.80,1771.41 L1650.05,1770.39 L1650.30,1771.03 L1650.55,1771.48 L1650.80,1770.78 L1651.05,1771.45 L1651.30,1771.30 L1651.55,1771.06 L1651.80,1771.06 L1652.05,1770.87 L1652.30,1771.43 L1652.55,1770.53 L1652.80,1771.43 L1653.05,1771.22 L1653.30,1771.34 L1653.55,1771.04 L1653.80,1771.05 L1654.05,1771.13 L1654.30,1770.87 L1654.55,1771.15 L1654.80,1771.26 L1655.05,1770.83 L1655.30,1771.23 L1655.55,1771.22 L1655.80,1771.16 L1656.05,1771.26 L1656.30,1771.36 L1656.55,1771.38 L1656.80,1771.42 L1657.05,1771.43 L1657.30,1771.41 L1657.55,1771.19 L1657.80,1771.11 L1658.05,1771.22 L1658.30,1770.89 L1658.55,1770.92 L1658.80,1771.45 L1659.05,1771.05 L1659.30,1770.83 L1659.55,1771.36 L1659.80,1771.48 L1660.05,1770.91 L1660.30,1771.28 L1660.55,1771.20 L1660.80,1771.06 L1661.05,1770.85 L1661.30,1771.15 L1661.55,1770.93 L1661.80,1771.28 L1662.05,1771.12 L1662.30,1771.41 L1662.55,1770.97 L1662.80,1771.18 L1663.05,1771.17 L1663.30,1771.27 L1663.55,1771.30 L1663.80,1771.37 L1664.05,1771.18 L1664.30,1771.27 L1664.55,1770.75 L1664.80,1771.36 L1665.05,1771.30 L1665.30,1771.49 L1665.55,1771.14 L1665.80,1771.26 L1666.05,1771.46 L1666.30,1771.37 L1666.55,1771.26 L1666.80,1770.85 L1667.05,1771.39 L1667.30,1770.67 L1667.55,1770.88 L1667.80,1771.18 L1668.05,1771.26 L1668.30,1770.78 L1668.55,1771.42 L1668.80,1771.45 L1669.05,1771.07 L1669.30,1771.30 L1669.55,1770.95 L1669.80,1771.28 L1670.05,1771.32 L1670.30,1771.41 L1670.55,1771.42 L1670.80,1770.92 L1671.05,1771.07 L1671.30,1771.33 L1671.55,1771.05 L1671.80,1771.19 L1672.05,1771.16 L1672.30,1771.15 L1672.55,1771.07 L1672.80,1770.95 L1673.05,1771.12 L1673.30,1771.14 L1673.55,1771.26 L1673.80,1770.90 L1674.05,1771.19 L1674.30,1771.24 L1674.55,1771.36 L1674.80,1771.35 L1675.05,1770.68 L1675.30,1771.40 L1675.55,1770.88 L1675.80,1771.13 L1676.05,1771.01 L1676.30,1771.22 L1676.55,1771.15 L1676.80,1771.28 L1677.05,1770.97 L1677.30,1771.15 L1677.55,1771.25 L1677.80,1771.37 L1678.05,1770.87 L1678.30,1771.28 L1678.55,1771.27 L1678.80,1771.10 L1679.05,1771.29 L1679.30,1771.20 L1679.55,1771.21 L1679.80,1771.08 L1680.05,1770.67 L1680.30,1771.26 L1680.55,1770.96 L1680.80,1771.42 L1681.05,1771.10 L1681.30,1770.41 L1681.55,1771.42 L1681.80,1771.01 L1682.05,1771.37 L1682.30,1771.12 L1682.55,1770.90 L1682.80,1771.04 L1683.05,1771.32 L1683.30,1771.07 L1683.55,1771.18 L1683.80,1770.88 L1684.05,1771.33 L1684.30,1770.92 L1684.55,1771.45 L1684.80,1771.26" fill="none" stroke="#000" stroke-width="1.1" stroke-linejoin="round"/>
<text x="1709.5" y="1779.5" font-size="20.7" fill="#000" text-anchor="start" font-weight="normal" font-family="'Liberation Sans', Arial, Helvetica, sans-serif" font-style="italic">m/z</text>
<text x="0" y="0" font-size="21.3" font-family="'Liberation Sans', Arial, Helvetica, sans-serif" fill="#000" text-anchor="middle" transform="translate(1276.2,1642) rotate(-90)">Intensity (%)</text>
<circle cx="1413.7" cy="1750.6" r="5" fill="#FFC700"/>
<circle cx="1461.9" cy="1491.3" r="5" fill="#FFC700"/>
<circle cx="1524.3" cy="1562.9" r="5" fill="#FFC700"/>
<circle cx="1606.5" cy="1755.3" r="5" fill="#FFC700"/>
<text x="1523.2" y="1545.5" font-size="20" fill="#000" text-anchor="middle" font-weight="normal" font-family="'Liberation Sans', Arial, Helvetica, sans-serif" >+7</text>
<circle cx="1589.7" cy="1512.9" r="5" fill="#FFC700"/>
<text x="1601.8" y="1520.4" font-size="21.2" fill="#000" text-anchor="start" font-weight="normal" font-family="'Liberation Sans', Arial, Helvetica, sans-serif" >Dimer</text>
<text x="1601.8" y="1547.4" font-size="21.2" fill="#000" text-anchor="start" font-weight="normal" font-family="'Liberation Sans', Arial, Helvetica, sans-serif" >16,085.2 ± 0.8 Da</text>
<defs>
<filter id="b1" x="-30%" y="-100%" width="160%" height="300%"><feGaussianBlur stdDeviation="0.8"/></filter>
<filter id="b2" x="-30%" y="-100%" width="160%" height="300%"><feGaussianBlur stdDeviation="1.4"/></filter>
<filter id="b3" x="-30%" y="-100%" width="160%" height="300%"><feGaussianBlur stdDeviation="2.2"/></filter>
<filter id="b4" x="-30%" y="-100%" width="160%" height="300%"><feGaussianBlur stdDeviation="3.5"/></filter>
<filter id="b6" x="-30%" y="-100%" width="160%" height="300%"><feGaussianBlur stdDeviation="6"/></filter>
<linearGradient id="gi_bg" x1="0" y1="0" x2="0" y2="1"><stop offset="0" stop-color="#fdfdfd"/><stop offset="0.6" stop-color="#f6f6f6"/><stop offset="0.9" stop-color="#e6e6e6"/><stop offset="1" stop-color="#c8c8c8"/></linearGradient>
<linearGradient id="smear4" x1="0" y1="0" x2="0" y2="1"><stop offset="0" stop-color="#000" stop-opacity="0.04"/><stop offset="0.4" stop-color="#000" stop-opacity="0.22"/><stop offset="1" stop-color="#000" stop-opacity="0.35"/></linearGradient>
<linearGradient id="smear3" x1="0" y1="0" x2="0" y2="1"><stop offset="0" stop-color="#000" stop-opacity="0.0"/><stop offset="0.45" stop-color="#000" stop-opacity="0.12"/><stop offset="1" stop-color="#000" stop-opacity="0.28"/></linearGradient>
<linearGradient id="smear2" x1="0" y1="0" x2="0" y2="1"><stop offset="0" stop-color="#000" stop-opacity="0.0"/><stop offset="0.55" stop-color="#000" stop-opacity="0.06"/><stop offset="1" stop-color="#000" stop-opacity="0.2"/></linearGradient>
<linearGradient id="hsm" x1="0" y1="0" x2="0" y2="1"><stop offset="0" stop-color="#000" stop-opacity="0.18"/><stop offset="0.5" stop-color="#000" stop-opacity="0.10"/><stop offset="1" stop-color="#000" stop-opacity="0.04"/></linearGradient>
</defs>
<text x="3.0" y="1938.0" font-size="56" fill="#000" text-anchor="start" font-weight="bold" font-family="'Liberation Sans', Arial, Helvetica, sans-serif" >h</text>
<text x="0" y="0" font-size="27.5" font-family="'Liberation Sans', Arial, Helvetica, sans-serif" fill="#000" transform="translate(449.3,2082.6) rotate(-45)">A3</text>
<text x="0" y="0" font-size="27.5" font-family="'Liberation Sans', Arial, Helvetica, sans-serif" fill="#000" transform="translate(526.0,2082.6) rotate(-45)">MJ1647</text>
<text x="0" y="0" font-size="27.5" font-family="'Liberation Sans', Arial, Helvetica, sans-serif" fill="#000" transform="translate(628.5,2056.5) rotate(-45)">MJ1647 A3</text>
<text x="0" y="0" font-size="27.5" font-family="'Liberation Sans', Arial, Helvetica, sans-serif" fill="#000" transform="translate(654.5,2080.0) rotate(-45)">co-expression</text>
<line x1="579" y1="2096.9" x2="720.7" y2="2096.9" stroke="#000" stroke-width="2.4"/>
<text x="107.2" y="2135.4" font-size="28.2" font-family="'Liberation Sans', Arial, Helvetica, sans-serif" fill="#000">protein amount (<tspan font-style="italic">μ</tspan>g)</text>
<text x="449.8" y="2134.3" font-size="27.8" fill="#000" text-anchor="middle" font-weight="normal" font-family="'Liberation Sans', Arial, Helvetica, sans-serif" >2.4</text>
<line x1="419.6" y1="2147.1" x2="480.2" y2="2147.1" stroke="#000" stroke-width="2.4"/>
<text x="529.3" y="2134.3" font-size="27.8" fill="#000" text-anchor="middle" font-weight="normal" font-family="'Liberation Sans', Arial, Helvetica, sans-serif" >2.4</text>
<line x1="499.1" y1="2147.1" x2="559.7" y2="2147.1" stroke="#000" stroke-width="2.4"/>
<text x="608.9" y="2134.3" font-size="27.8" fill="#000" text-anchor="middle" font-weight="normal" font-family="'Liberation Sans', Arial, Helvetica, sans-serif" >2.4</text>
<line x1="578.7" y1="2147.1" x2="639.3" y2="2147.1" stroke="#000" stroke-width="2.4"/>
<text x="688.7" y="2134.3" font-size="27.8" fill="#000" text-anchor="middle" font-weight="normal" font-family="'Liberation Sans', Arial, Helvetica, sans-serif" >4.8</text>
<line x1="658.5" y1="2147.1" x2="719.1" y2="2147.1" stroke="#000" stroke-width="2.4"/>
<text x="354.4" y="2183.9" font-size="26" font-family="'Liberation Sans', Arial, Helvetica, sans-serif" fill="#000" text-anchor="end">BS<tspan font-size="16" dy="-10.5">3</tspan></text>
<text x="430.8" y="2180.5" font-size="27.5" fill="#000" text-anchor="middle" font-weight="normal" font-family="'Liberation Sans', Arial, Helvetica, sans-serif" >-</text>
<text x="467.0" y="2181.0" font-size="28.5" fill="#000" text-anchor="middle" font-weight="normal" font-family="'Liberation Sans', Arial, Helvetica, sans-serif" >+</text>
<text x="510.8" y="2180.5" font-size="27.5" fill="#000" text-anchor="middle" font-weight="normal" font-family="'Liberation Sans', Arial, Helvetica, sans-serif" >-</text>
<text x="547.3" y="2181.0" font-size="28.5" fill="#000" text-anchor="middle" font-weight="normal" font-family="'Liberation Sans', Arial, Helvetica, sans-serif" >+</text>
<text x="590.4" y="2180.5" font-size="27.5" fill="#000" text-anchor="middle" font-weight="normal" font-family="'Liberation Sans', Arial, Helvetica, sans-serif" >-</text>
<text x="626.1" y="2181.0" font-size="28.5" fill="#000" text-anchor="middle" font-weight="normal" font-family="'Liberation Sans', Arial, Helvetica, sans-serif" >+</text>
<text x="670.2" y="2180.5" font-size="27.5" fill="#000" text-anchor="middle" font-weight="normal" font-family="'Liberation Sans', Arial, Helvetica, sans-serif" >-</text>
<text x="706.2" y="2181.0" font-size="28.5" fill="#000" text-anchor="middle" font-weight="normal" font-family="'Liberation Sans', Arial, Helvetica, sans-serif" >+</text>
<text x="250.9" y="2219.4" font-size="21.3" fill="#000" text-anchor="start" font-weight="normal" font-family="'Liberation Sans', Arial, Helvetica, sans-serif" >MW</text>
<text x="250.0" y="2246.5" font-size="21.3" fill="#000" text-anchor="start" font-weight="normal" font-family="'Liberation Sans', Arial, Helvetica, sans-serif" >[kDa]</text>
<text x="344.8" y="2245.7" font-size="20" fill="#000" text-anchor="end" font-weight="normal" font-family="'Liberation Sans', Arial, Helvetica, sans-serif" >75</text>
<line x1="353.4" y1="2238.9" x2="358.2" y2="2238.9" stroke="#000" stroke-width="1.6"/>
<text x="344.8" y="2271.5" font-size="20" fill="#000" text-anchor="end" font-weight="normal" font-family="'Liberation Sans', Arial, Helvetica, sans-serif" >50</text>
<line x1="353.4" y1="2264.7" x2="358.2" y2="2264.7" stroke="#000" stroke-width="1.6"/>
<text x="344.8" y="2297.0" font-size="20" fill="#000" text-anchor="end" font-weight="normal" font-family="'Liberation Sans', Arial, Helvetica, sans-serif" >37</text>
<line x1="353.4" y1="2290.2" x2="358.2" y2="2290.2" stroke="#000" stroke-width="1.6"/>
<text x="344.8" y="2337.2" font-size="20" fill="#000" text-anchor="end" font-weight="normal" font-family="'Liberation Sans', Arial, Helvetica, sans-serif" >25</text>
<line x1="353.4" y1="2330.4" x2="358.2" y2="2330.4" stroke="#000" stroke-width="1.6"/>
<text x="344.8" y="2360.8" font-size="20" fill="#000" text-anchor="end" font-weight="normal" font-family="'Liberation Sans', Arial, Helvetica, sans-serif" >20</text>
<line x1="353.4" y1="2354.0" x2="358.2" y2="2354.0" stroke="#000" stroke-width="1.6"/>
<text x="344.8" y="2389.3" font-size="20" fill="#000" text-anchor="end" font-weight="normal" font-family="'Liberation Sans', Arial, Helvetica, sans-serif" >15</text>
<line x1="353.4" y1="2382.5" x2="358.2" y2="2382.5" stroke="#000" stroke-width="1.6"/>
<text x="344.8" y="2448.4" font-size="20" fill="#000" text-anchor="end" font-weight="normal" font-family="'Liberation Sans', Arial, Helvetica, sans-serif" >10</text>
<line x1="353.4" y1="2441.6" x2="358.2" y2="2441.6" stroke="#000" stroke-width="1.6"/>
<svg x="362.9" y="2200.8" width="370.3" height="296.1" viewBox="362.9 2200.8 370.3 296.1" overflow="hidden">
<rect x="362.9" y="2200.8" width="370.3" height="296.1" fill="#fbfbfb"/>
<rect x="405.3" y="2204.8" width="38.6" height="288.1" fill="#000" fill-opacity="0.015" filter="url(#b3)"/>
<rect x="451.9" y="2204.8" width="31.3" height="288.1" fill="#000" fill-opacity="0.015" filter="url(#b3)"/>
<rect x="492.5" y="2204.8" width="32.6" height="288.1" fill="#000" fill-opacity="0.015" filter="url(#b3)"/>
<rect x="533.8" y="2204.8" width="30.7" height="288.1" fill="#000" fill-opacity="0.015" filter="url(#b3)"/>
<rect x="573.3" y="2204.8" width="33.3" height="288.1" fill="#000" fill-opacity="0.015" filter="url(#b3)"/>
<rect x="614.6" y="2204.8" width="30.6" height="288.1" fill="#000" fill-opacity="0.015" filter="url(#b3)"/>
<rect x="654.5" y="2204.8" width="33.3" height="288.1" fill="#000" fill-opacity="0.015" filter="url(#b3)"/>
<rect x="693.0" y="2204.8" width="32.0" height="288.1" fill="#000" fill-opacity="0.015" filter="url(#b3)"/>
<linearGradient id="hs5_2204" x1="0" y1="0" x2="0" y2="1"><stop offset="0" stop-color="#000" stop-opacity="0.07"/><stop offset="1" stop-color="#000" stop-opacity="0.17"/></linearGradient>
<rect x="615.6" y="2204" width="28.6" height="68" fill="url(#hs5_2204)" filter="url(#b4)"/>
<linearGradient id="hs7_2204" x1="0" y1="0" x2="0" y2="1"><stop offset="0" stop-color="#000" stop-opacity="0.09"/><stop offset="1" stop-color="#000" stop-opacity="0.2"/></linearGradient>
<rect x="694.0" y="2204" width="30.0" height="68" fill="url(#hs7_2204)" filter="url(#b4)"/>
<linearGradient id="hs0_2378" x1="0" y1="0" x2="0" y2="1"><stop offset="0" stop-color="#000" stop-opacity="0.05"/><stop offset="1" stop-color="#000" stop-opacity="0.08"/></linearGradient>
<rect x="406.3" y="2378" width="36.6" height="70" fill="url(#hs0_2378)" filter="url(#b4)"/>
<linearGradient id="hs2_2380" x1="0" y1="0" x2="0" y2="1"><stop offset="0" stop-color="#000" stop-opacity="0.03"/><stop offset="1" stop-color="#000" stop-opacity="0.08"/></linearGradient>
<rect x="493.5" y="2380" width="30.6" height="30" fill="url(#hs2_2380)" filter="url(#b4)"/>
<linearGradient id="hs4_2370" x1="0" y1="0" x2="0" y2="1"><stop offset="0" stop-color="#000" stop-opacity="0.05"/><stop offset="1" stop-color="#000" stop-opacity="0.12"/></linearGradient>
<rect x="574.3" y="2370" width="31.3" height="40" fill="url(#hs4_2370)" filter="url(#b4)"/>
<linearGradient id="hs6_2370" x1="0" y1="0" x2="0" y2="1"><stop offset="0" stop-color="#000" stop-opacity="0.05"/><stop offset="1" stop-color="#000" stop-opacity="0.14"/></linearGradient>
<rect x="655.5" y="2370" width="31.3" height="44" fill="url(#hs6_2370)" filter="url(#b4)"/>
<linearGradient id="hs5_2280" x1="0" y1="0" x2="0" y2="1"><stop offset="0" stop-color="#000" stop-opacity="0.06"/><stop offset="1" stop-color="#000" stop-opacity="0.06"/></linearGradient>
<rect x="615.6" y="2280" width="28.6" height="140" fill="url(#hs5_2280)" filter="url(#b4)"/>
<linearGradient id="hs7_2280" x1="0" y1="0" x2="0" y2="1"><stop offset="0" stop-color="#000" stop-opacity="0.07"/><stop offset="1" stop-color="#000" stop-opacity="0.07"/></linearGradient>
<rect x="694.0" y="2280" width="30.0" height="145" fill="url(#hs7_2280)" filter="url(#b4)"/>
<linearGradient id="hs3_2280" x1="0" y1="0" x2="0" y2="1"><stop offset="0" stop-color="#000" stop-opacity="0.03"/><stop offset="1" stop-color="#000" stop-opacity="0.03"/></linearGradient>
<rect x="534.8" y="2280" width="28.7" height="136" fill="url(#hs3_2280)" filter="url(#b4)"/>
<rect x="371.3" y="2204.4" width="27.3" height="2.5" rx="1.2" fill="#000" fill-opacity="0.2" filter="url(#b1)"/>
<rect x="371.3" y="2207.8" width="27.3" height="2.5" rx="1.2" fill="#000" fill-opacity="0.3" filter="url(#b1)"/>
<rect x="371.3" y="2213.8" width="27.3" height="2.5" rx="1.2" fill="#000" fill-opacity="0.35" filter="url(#b1)"/>
<rect x="371.3" y="2224.3" width="27.3" height="2.5" rx="1.2" fill="#000" fill-opacity="0.3" filter="url(#b1)"/>
<rect x="371.3" y="2236.9" width="27.3" height="4.2" rx="2.1" fill="#000" fill-opacity="0.7" filter="url(#b1)"/>
<rect x="371.3" y="2263.5" width="27.3" height="4.2" rx="2.1" fill="#000" fill-opacity="0.7" filter="url(#b1)"/>
<rect x="371.3" y="2289.2" width="27.3" height="3.4" rx="1.7" fill="#000" fill-opacity="0.55" filter="url(#b1)"/>
<rect x="371.3" y="2332.6" width="27.3" height="4.4" rx="2.2" fill="#000" fill-opacity="0.75" filter="url(#b1)"/>
<rect x="371.3" y="2357.1" width="27.3" height="3.4" rx="1.7" fill="#000" fill-opacity="0.5" filter="url(#b1)" transform="rotate(3 385.0 2358.8)"/>
<rect x="371.3" y="2381.5" width="27.3" height="5.0" rx="2.5" fill="#000" fill-opacity="0.16" filter="url(#b1)" transform="rotate(2 385.0 2384.0)"/>
<rect x="371.3" y="2440.7" width="27.3" height="4.0" rx="2.0" fill="#000" fill-opacity="0.13" filter="url(#b1)" transform="rotate(3 385.0 2442.7)"/>
<rect x="405.3" y="2378.9" width="38.6" height="5.0" rx="2.5" fill="#000" fill-opacity="0.10800000000000001" filter="url(#b3)"/>
<rect x="405.3" y="2237.1" width="38.6" height="9.0" rx="4.5" fill="#000" fill-opacity="0.0324" filter="url(#b4)"/>
<rect x="405.3" y="2452.5" width="38.6" height="13.0" rx="6.0" fill="#000" fill-opacity="0.48600000000000004" filter="url(#b4)"/>
<rect x="405.3" y="2448.0" width="38.6" height="8.0" rx="4.0" fill="#000" fill-opacity="0.9936000000000001" filter="url(#b2)"/>
<rect x="451.9" y="2382.5" width="31.3" height="11.0" rx="5.5" fill="#000" fill-opacity="0.54" filter="url(#b4)"/>
<rect x="451.9" y="2310.3" width="31.3" height="9.0" rx="4.5" fill="#000" fill-opacity="0.10800000000000001" filter="url(#b4)"/>
<rect x="451.9" y="2444.5" width="31.3" height="7.0" rx="3.5" fill="#000" fill-opacity="0.0432" filter="url(#b4)"/>
<rect x="492.5" y="2410.0" width="32.6" height="8.0" rx="4.0" fill="#000" fill-opacity="0.9504" filter="url(#b3)"/>
<rect x="492.5" y="2335.8" width="32.6" height="6.0" rx="3.0" fill="#000" fill-opacity="0.1836" filter="url(#b4)"/>
<rect x="533.8" y="2269.2" width="30.7" height="6.0" rx="3.0" fill="#000" fill-opacity="0.27" filter="url(#b3)"/>
<rect x="533.8" y="2294.5" width="30.7" height="6.0" rx="3.0" fill="#000" fill-opacity="0.378" filter="url(#b3)"/>
<rect x="533.8" y="2338.0" width="30.7" height="7.0" rx="3.5" fill="#000" fill-opacity="0.48600000000000004" filter="url(#b3)"/>
<rect x="533.8" y="2412.5" width="30.7" height="7.0" rx="3.5" fill="#000" fill-opacity="0.41040000000000004" filter="url(#b3)"/>
<rect x="573.3" y="2335.6" width="33.3" height="5.0" rx="2.5" fill="#000" fill-opacity="0.14040000000000002" filter="url(#b3)"/>
<rect x="573.3" y="2408.5" width="33.3" height="12.0" rx="6.0" fill="#000" fill-opacity="1.0" filter="url(#b3)"/>
<rect x="573.3" y="2406.5" width="33.3" height="16.0" rx="6.0" fill="#000" fill-opacity="0.43200000000000005" filter="url(#b6)"/>
<rect x="573.3" y="2439.2" width="33.3" height="7.0" rx="3.5" fill="#000" fill-opacity="0.648" filter="url(#b3)"/>
<rect x="573.3" y="2445.5" width="33.3" height="9.0" rx="4.5" fill="#000" fill-opacity="0.10800000000000001" filter="url(#b6)"/>
<rect x="614.6" y="2270.6" width="30.6" height="6.0" rx="3.0" fill="#000" fill-opacity="0.54" filter="url(#b3)"/>
<rect x="614.6" y="2294.0" width="30.6" height="7.0" rx="3.5" fill="#000" fill-opacity="0.7020000000000001" filter="url(#b3)"/>
<rect x="614.6" y="2337.5" width="30.6" height="8.0" rx="4.0" fill="#000" fill-opacity="0.7776000000000001" filter="url(#b3)"/>
<rect x="614.6" y="2380.9" width="30.6" height="9.0" rx="4.5" fill="#000" fill-opacity="0.30240000000000006" filter="url(#b4)"/>
<rect x="614.6" y="2415.5" width="30.6" height="9.0" rx="4.5" fill="#000" fill-opacity="0.81" filter="url(#b3)"/>
<rect x="654.5" y="2336.3" width="33.3" height="5.0" rx="2.5" fill="#000" fill-opacity="0.14040000000000002" filter="url(#b3)"/>
<rect x="654.5" y="2411.5" width="33.3" height="15.0" rx="6.0" fill="#000" fill-opacity="1.0" filter="url(#b3)"/>
<rect x="654.5" y="2409.5" width="33.3" height="19.0" rx="6.0" fill="#000" fill-opacity="0.43200000000000005" filter="url(#b6)"/>
<rect x="654.5" y="2444.5" width="33.3" height="7.0" rx="3.5" fill="#000" fill-opacity="0.756" filter="url(#b3)"/>
<rect x="693.0" y="2270.6" width="32.0" height="6.0" rx="3.0" fill="#000" fill-opacity="0.6264" filter="url(#b3)"/>
<rect x="693.0" y="2295.4" width="32.0" height="7.0" rx="3.5" fill="#000" fill-opacity="0.7776000000000001" filter="url(#b3)"/>
<rect x="693.0" y="2339.6" width="32.0" height="9.0" rx="4.5" fill="#000" fill-opacity="0.9504" filter="url(#b3)"/>
<rect x="693.0" y="2383.5" width="32.0" height="9.0" rx="4.5" fill="#000" fill-opacity="0.3456" filter="url(#b4)"/>
<rect x="693.0" y="2419.9" width="32.0" height="11.0" rx="5.5" fill="#000" fill-opacity="1.0" filter="url(#b3)"/>
</svg>
<rect x="362.9" y="2200.8" width="370.3" height="296.1" fill="none" stroke="#000" stroke-width="2"/>
<path d="M743,2274.9 H762 M748.5,2270.7 L743,2274.9 L748.5,2279.1" fill="none" stroke="#F00000" stroke-width="1.5"/>
<text x="769.5" y="2280.3" font-size="21.2" font-family="'Liberation Sans', Arial, Helvetica, sans-serif" fill="#F00000">(MJ1647)<tspan font-size="14" dy="4">4</tspan></text>
<path d="M743,2302.1 H762 M748.5,2297.9 L743,2302.1 L748.5,2306.3" fill="none" stroke="#F00000" stroke-width="1.5"/>
<text x="769.5" y="2307.5" font-size="21.2" font-family="'Liberation Sans', Arial, Helvetica, sans-serif" fill="#F00000">(MJ1647)<tspan font-size="14" dy="4">3</tspan></text>
<path d="M743,2347.6 H762 M748.5,2343.4 L743,2347.6 L748.5,2351.8" fill="none" stroke="#F00000" stroke-width="1.5"/>
<text x="769.5" y="2353.0" font-size="21.2" font-family="'Liberation Sans', Arial, Helvetica, sans-serif" fill="#F00000">(MJ1647)<tspan font-size="14" dy="4">2</tspan></text>
<path d="M743,2391.9 H762 M748.5,2387.7 L743,2391.9 L748.5,2396.1" fill="none" stroke="#000" stroke-width="1.5"/>
<text x="769.5" y="2397.3" font-size="21.2" font-family="'Liberation Sans', Arial, Helvetica, sans-serif" fill="#000">(A3)<tspan font-size="14" dy="4">2</tspan></text>
<path d="M743,2425.6 H762 M748.5,2421.4 L743,2425.6 L748.5,2429.8" fill="none" stroke="#F00000" stroke-width="1.5"/>
<text x="769.5" y="2431.0" font-size="21.2" font-family="'Liberation Sans', Arial, Helvetica, sans-serif" fill="#F00000">MJ1647 monomer</text>
<path d="M743,2452.2 H762 M748.5,2448.0 L743,2452.2 L748.5,2456.4" fill="none" stroke="#000" stroke-width="1.5"/>
<text x="769.5" y="2457.6" font-size="21.2" font-family="'Liberation Sans', Arial, Helvetica, sans-serif" fill="#000">A3 monomer</text>
<text x="1099.0" y="1937.6" font-size="56" fill="#000" text-anchor="start" font-weight="bold" font-family="'Liberation Sans', Arial, Helvetica, sans-serif" >i</text>
<text x="1324.0" y="2067.3" font-size="28.5" fill="#000" text-anchor="start" font-weight="normal" font-family="'Liberation Sans', Arial, Helvetica, sans-serif" >DNA</text>
<line x1="1421.2" y1="2055.5" x2="1435.6" y2="2055.5" stroke="#000" stroke-width="2"/>
<path d="M1467.7,2040.3 L1590.8,2065.3 L1590.8,2066.5 L1467.7,2066.5 Z" fill="#000"/>
<text x="1216.6" y="2108.5" font-size="21.1" fill="#000" text-anchor="start" font-weight="normal" font-family="'Liberation Sans', Arial, Helvetica, sans-serif" >MW</text>
<text x="1216.0" y="2136.0" font-size="21.1" fill="#000" text-anchor="start" font-weight="normal" font-family="'Liberation Sans', Arial, Helvetica, sans-serif" >[kDa]</text>
<text x="1319.0" y="2170.2" font-size="21" fill="#000" text-anchor="end" font-weight="normal" font-family="'Liberation Sans', Arial, Helvetica, sans-serif" >200</text>
<line x1="1326.6" y1="2162.9" x2="1331.8" y2="2162.9" stroke="#000" stroke-width="1.6"/>
<text x="1319.0" y="2206.1" font-size="21" fill="#000" text-anchor="end" font-weight="normal" font-family="'Liberation Sans', Arial, Helvetica, sans-serif" >150</text>
<line x1="1326.6" y1="2198.8" x2="1331.8" y2="2198.8" stroke="#000" stroke-width="1.6"/>
<text x="1319.0" y="2240.2" font-size="21" fill="#000" text-anchor="end" font-weight="normal" font-family="'Liberation Sans', Arial, Helvetica, sans-serif" >100</text>
<line x1="1326.6" y1="2232.9" x2="1331.8" y2="2232.9" stroke="#000" stroke-width="1.6"/>
<text x="1319.0" y="2265.8" font-size="21" fill="#000" text-anchor="end" font-weight="normal" font-family="'Liberation Sans', Arial, Helvetica, sans-serif" >75</text>
<line x1="1326.6" y1="2258.5" x2="1331.8" y2="2258.5" stroke="#000" stroke-width="1.6"/>
<text x="1319.0" y="2306.8" font-size="21" fill="#000" text-anchor="end" font-weight="normal" font-family="'Liberation Sans', Arial, Helvetica, sans-serif" >50</text>
<line x1="1326.6" y1="2299.5" x2="1331.8" y2="2299.5" stroke="#000" stroke-width="1.6"/>
<text x="1319.0" y="2340.5" font-size="21" fill="#000" text-anchor="end" font-weight="normal" font-family="'Liberation Sans', Arial, Helvetica, sans-serif" >37</text>
<line x1="1326.6" y1="2333.2" x2="1331.8" y2="2333.2" stroke="#000" stroke-width="1.6"/>
<text x="1319.0" y="2385.7" font-size="21" fill="#000" text-anchor="end" font-weight="normal" font-family="'Liberation Sans', Arial, Helvetica, sans-serif" >25</text>
<line x1="1326.6" y1="2378.4" x2="1331.8" y2="2378.4" stroke="#000" stroke-width="1.6"/>
<text x="1319.0" y="2416.4" font-size="21" fill="#000" text-anchor="end" font-weight="normal" font-family="'Liberation Sans', Arial, Helvetica, sans-serif" >20</text>
<line x1="1326.6" y1="2409.1" x2="1331.8" y2="2409.1" stroke="#000" stroke-width="1.6"/>
<text x="1319.0" y="2456.1" font-size="21" fill="#000" text-anchor="end" font-weight="normal" font-family="'Liberation Sans', Arial, Helvetica, sans-serif" >15</text>
<line x1="1326.6" y1="2448.8" x2="1331.8" y2="2448.8" stroke="#000" stroke-width="1.6"/>
<text x="1319.0" y="2486.9" font-size="21" fill="#000" text-anchor="end" font-weight="normal" font-family="'Liberation Sans', Arial, Helvetica, sans-serif" >10</text>
<line x1="1326.6" y1="2479.6" x2="1331.8" y2="2479.6" stroke="#000" stroke-width="1.6"/>
<svg x="1340.4" y="2088.6" width="255.1" height="408.4" viewBox="1340.4 2088.6 255.1 408.4" overflow="hidden">
<rect x="1340.4" y="2088.6" width="255.1" height="408.4" fill="url(#gi_bg)"/>
<linearGradient id="mlg" x1="0" y1="0" x2="0" y2="1"><stop offset="0" stop-color="#000" stop-opacity="0"/><stop offset="0.5" stop-color="#000" stop-opacity="0.04"/><stop offset="1" stop-color="#000" stop-opacity="0.09"/></linearGradient>
<path d="M1368,2140 L1404,2140 L1395,2330 L1375,2497 L1340,2497 L1340,2380 Z" fill="url(#mlg)" filter="url(#b4)"/>
<rect x="1405.0" y="2338" width="37.0" height="135" fill="#000" fill-opacity="0.19" filter="url(#b2)"/>
<rect x="1452.0" y="2338" width="39.0" height="135" fill="#000" fill-opacity="0.19" filter="url(#b2)"/>
<rect x="1501.0" y="2338" width="39.0" height="135" fill="#000" fill-opacity="0.19" filter="url(#b2)"/>
<rect x="1550.0" y="2338" width="40.0" height="135" fill="#000" fill-opacity="0.19" filter="url(#b2)"/>
<rect x="1404" y="2250" width="38" height="90" fill="#000" fill-opacity="0.035" filter="url(#b3)"/>
<linearGradient id="ism1" x1="0" y1="0" x2="0" y2="1"><stop offset="0" stop-color="#000" stop-opacity="0.0"/><stop offset="1" stop-color="#000" stop-opacity="0.24"/></linearGradient>
<rect x="1457.4" y="2200" width="35.4" height="135" fill="url(#ism1)" filter="url(#b2)"/>
<linearGradient id="ism2" x1="0" y1="0" x2="0" y2="1"><stop offset="0" stop-color="#000" stop-opacity="0.02"/><stop offset="1" stop-color="#000" stop-opacity="0.3"/></linearGradient>
<rect x="1505.0" y="2120" width="36.0" height="215" fill="url(#ism2)" filter="url(#b2)"/>
<linearGradient id="ism3" x1="0" y1="0" x2="0" y2="1"><stop offset="0" stop-color="#000" stop-opacity="0.13"/><stop offset="1" stop-color="#000" stop-opacity="0.38"/></linearGradient>
<rect x="1554.0" y="2092" width="37.0" height="243" fill="url(#ism3)" filter="url(#b2)"/>
<rect x="1458.4" y="2277.2" width="33.4" height="3.5" rx="1.8" fill="#000" fill-opacity="0.08" filter="url(#b2)"/>
<rect x="1458.4" y="2290.2" width="33.4" height="3.5" rx="1.8" fill="#000" fill-opacity="0.08" filter="url(#b2)"/>
<rect x="1458.4" y="2309.2" width="33.4" height="3.5" rx="1.8" fill="#000" fill-opacity="0.08" filter="url(#b2)"/>
<rect x="1506.0" y="2268.2" width="34.0" height="3.5" rx="1.8" fill="#000" fill-opacity="0.1" filter="url(#b2)"/>
<rect x="1506.0" y="2277.2" width="34.0" height="3.5" rx="1.8" fill="#000" fill-opacity="0.1" filter="url(#b2)"/>
<rect x="1506.0" y="2290.2" width="34.0" height="3.5" rx="1.8" fill="#000" fill-opacity="0.1" filter="url(#b2)"/>
<rect x="1506.0" y="2299.2" width="34.0" height="3.5" rx="1.8" fill="#000" fill-opacity="0.1" filter="url(#b2)"/>
<rect x="1506.0" y="2309.2" width="34.0" height="3.5" rx="1.8" fill="#000" fill-opacity="0.1" filter="url(#b2)"/>
<rect x="1555.0" y="2260.2" width="35.0" height="3.5" rx="1.8" fill="#000" fill-opacity="0.12" filter="url(#b2)"/>
<rect x="1555.0" y="2268.2" width="35.0" height="3.5" rx="1.8" fill="#000" fill-opacity="0.12" filter="url(#b2)"/>
<rect x="1555.0" y="2277.2" width="35.0" height="3.5" rx="1.8" fill="#000" fill-opacity="0.12" filter="url(#b2)"/>
<rect x="1555.0" y="2290.2" width="35.0" height="3.5" rx="1.8" fill="#000" fill-opacity="0.12" filter="url(#b2)"/>
<rect x="1555.0" y="2299.2" width="35.0" height="3.5" rx="1.8" fill="#000" fill-opacity="0.12" filter="url(#b2)"/>
<rect x="1555.0" y="2309.2" width="35.0" height="3.5" rx="1.8" fill="#000" fill-opacity="0.12" filter="url(#b2)"/>
<rect x="1372.2" y="2166.5" width="29.8" height="2.0" rx="1.0" fill="#000" fill-opacity="0.35" filter="url(#b1)" transform="rotate(3 1387.1 2167.5)"/>
<rect x="1367.6" y="2205.4" width="30.8" height="2.0" rx="1.0" fill="#000" fill-opacity="0.38" filter="url(#b1)" transform="rotate(3 1383.0 2206.4)"/>
<rect x="1364.0" y="2241.7" width="31.7" height="2.0" rx="1.0" fill="#000" fill-opacity="0.45" filter="url(#b1)" transform="rotate(3 1379.8 2242.7)"/>
<rect x="1360.4" y="2268.3" width="32.6" height="3.0" rx="1.5" fill="#000" fill-opacity="0.95" filter="url(#b1)" transform="rotate(3 1376.7 2269.8)"/>
<rect x="1355.0" y="2308.0" width="35.3" height="3.4" rx="1.7" fill="#000" fill-opacity="0.95" filter="url(#b1)" transform="rotate(3 1372.7 2309.7)"/>
<rect x="1351.3" y="2340.9" width="34.4" height="2.8" rx="1.4" fill="#000" fill-opacity="0.9" filter="url(#b1)" transform="rotate(3 1368.5 2342.3)"/>
<rect x="1345.0" y="2383.9" width="36.2" height="3.8" rx="1.9" fill="#000" fill-opacity="0.95" filter="url(#b1)" transform="rotate(3 1363.1 2385.8)"/>
<rect x="1344.0" y="2409.0" width="30.9" height="2.6" rx="1.3" fill="#000" fill-opacity="0.75" filter="url(#b1)" transform="rotate(3 1359.5 2410.3)"/>
<rect x="1341.3" y="2450.6" width="26.3" height="2.8" rx="1.4" fill="#000" fill-opacity="0.85" filter="url(#b1)" transform="rotate(3 1354.4 2452.0)"/>
<rect x="1338.0" y="2474.9" width="23.3" height="3.0" rx="1.5" fill="#000" fill-opacity="0.85" filter="url(#b1)" transform="rotate(3 1349.7 2476.4)"/>
<rect x="1404.0" y="2330.1" width="39.0" height="11.0" rx="5.5" fill="#000" fill-opacity="1.0" filter="url(#b2)"/>
<rect x="1403.0" y="2327.6" width="41.0" height="16.0" rx="6.0" fill="#000" fill-opacity="0.35" filter="url(#b4)"/>
<rect x="1404.0" y="2366.2" width="39.0" height="9.5" rx="4.8" fill="#000" fill-opacity="1.0" filter="url(#b2)"/>
<rect x="1403.0" y="2363.8" width="41.0" height="14.5" rx="6.0" fill="#000" fill-opacity="0.35" filter="url(#b4)"/>
<rect x="1404.0" y="2397.9" width="39.0" height="13.5" rx="6.0" fill="#000" fill-opacity="1.0" filter="url(#b2)"/>
<rect x="1403.0" y="2395.4" width="41.0" height="18.5" rx="6.0" fill="#000" fill-opacity="0.35" filter="url(#b4)"/>
<rect x="1401.0" y="2465.0" width="45.0" height="18.0" rx="6.0" fill="#000" fill-opacity="1.0" filter="url(#b2)"/>
<rect x="1400.0" y="2462.5" width="47.0" height="23.0" rx="6.0" fill="#000" fill-opacity="0.35" filter="url(#b4)"/>
<rect x="1451.0" y="2332.2" width="41.0" height="7.5" rx="3.8" fill="#000" fill-opacity="1.0" filter="url(#b2)"/>
<rect x="1450.0" y="2329.8" width="43.0" height="12.5" rx="6.0" fill="#000" fill-opacity="0.35" filter="url(#b4)"/>
<rect x="1451.0" y="2368.0" width="41.0" height="9.0" rx="4.5" fill="#000" fill-opacity="1.0" filter="url(#b2)"/>
<rect x="1450.0" y="2365.5" width="43.0" height="14.0" rx="6.0" fill="#000" fill-opacity="0.35" filter="url(#b4)"/>
<rect x="1451.0" y="2401.0" width="41.0" height="18.0" rx="6.0" fill="#000" fill-opacity="1.0" filter="url(#b2)"/>
<rect x="1450.0" y="2398.5" width="43.0" height="23.0" rx="6.0" fill="#000" fill-opacity="0.35" filter="url(#b4)"/>
<rect x="1448.0" y="2464.5" width="47.0" height="19.0" rx="6.0" fill="#000" fill-opacity="1.0" filter="url(#b2)"/>
<rect x="1447.0" y="2462.0" width="49.0" height="24.0" rx="6.0" fill="#000" fill-opacity="0.35" filter="url(#b4)"/>
<rect x="1500.0" y="2332.2" width="41.0" height="7.5" rx="3.8" fill="#000" fill-opacity="1.0" filter="url(#b2)"/>
<rect x="1499.0" y="2329.8" width="43.0" height="12.5" rx="6.0" fill="#000" fill-opacity="0.35" filter="url(#b4)"/>
<rect x="1500.0" y="2368.0" width="41.0" height="9.0" rx="4.5" fill="#000" fill-opacity="1.0" filter="url(#b2)"/>
<rect x="1499.0" y="2365.5" width="43.0" height="14.0" rx="6.0" fill="#000" fill-opacity="0.35" filter="url(#b4)"/>
<rect x="1500.0" y="2401.0" width="41.0" height="18.0" rx="6.0" fill="#000" fill-opacity="1.0" filter="url(#b2)"/>
<rect x="1499.0" y="2398.5" width="43.0" height="23.0" rx="6.0" fill="#000" fill-opacity="0.35" filter="url(#b4)"/>
<rect x="1497.0" y="2464.5" width="47.0" height="19.0" rx="6.0" fill="#000" fill-opacity="1.0" filter="url(#b2)"/>
<rect x="1496.0" y="2462.0" width="49.0" height="24.0" rx="6.0" fill="#000" fill-opacity="0.35" filter="url(#b4)"/>
<rect x="1549.0" y="2332.2" width="42.0" height="7.5" rx="3.8" fill="#000" fill-opacity="1.0" filter="url(#b2)"/>
<rect x="1548.0" y="2329.8" width="44.0" height="12.5" rx="6.0" fill="#000" fill-opacity="0.35" filter="url(#b4)"/>
<rect x="1549.0" y="2368.0" width="42.0" height="9.0" rx="4.5" fill="#000" fill-opacity="1.0" filter="url(#b2)"/>
<rect x="1548.0" y="2365.5" width="44.0" height="14.0" rx="6.0" fill="#000" fill-opacity="0.35" filter="url(#b4)"/>
<rect x="1549.0" y="2401.0" width="42.0" height="18.0" rx="6.0" fill="#000" fill-opacity="1.0" filter="url(#b2)"/>
<rect x="1548.0" y="2398.5" width="44.0" height="23.0" rx="6.0" fill="#000" fill-opacity="0.35" filter="url(#b4)"/>
<rect x="1546.0" y="2464.5" width="48.0" height="19.0" rx="6.0" fill="#000" fill-opacity="1.0" filter="url(#b2)"/>
<rect x="1545.0" y="2462.0" width="50.0" height="24.0" rx="6.0" fill="#000" fill-opacity="0.35" filter="url(#b4)"/>
<rect x="1392.0" y="2400.0" width="48.0" height="7.0" rx="3.5" fill="#000" fill-opacity="0.9" filter="url(#b2)"/>
<linearGradient id="ibot" x1="0" y1="0" x2="0" y2="1"><stop offset="0" stop-color="#000" stop-opacity="0"/><stop offset="0.45" stop-color="#000" stop-opacity="0.55"/><stop offset="1" stop-color="#000" stop-opacity="0.65"/></linearGradient>
<rect x="1330" y="2468" width="280" height="35" fill="url(#ibot)" filter="url(#b2)"/>
<rect x="1372.0" y="2466.0" width="224.0" height="16.0" rx="6.0" fill="#000" fill-opacity="0.9" filter="url(#b3)"/>
</svg>
<rect x="1340.4" y="2088.6" width="255.1" height="408.4" fill="none" stroke="#000" stroke-width="2"/>
<line x1="1605.7" y1="2127.5" x2="1605.7" y2="2308" stroke="#F00000" stroke-width="2"/>
<text x="1619.8" y="2227.5" font-size="21" fill="#F00000" text-anchor="middle" font-weight="normal" font-family="'Liberation Sans', Arial, Helvetica, sans-serif" >n</text>
<text x="1619.0" y="2343.2" font-size="21" fill="#F00000" text-anchor="middle" font-weight="normal" font-family="'Liberation Sans', Arial, Helvetica, sans-serif" >4</text>
<text x="1619.0" y="2380.4" font-size="21" fill="#F00000" text-anchor="middle" font-weight="normal" font-family="'Liberation Sans', Arial, Helvetica, sans-serif" >3</text>
<text x="1619.0" y="2416.6" font-size="21" fill="#F00000" text-anchor="middle" font-weight="normal" font-family="'Liberation Sans', Arial, Helvetica, sans-serif" >2</text>
<text x="1622.0" y="2475.5" font-size="21" fill="#F00000" text-anchor="middle" font-weight="normal" font-family="'Liberation Sans', Arial, Helvetica, sans-serif" >1</text>
</svg></body></html>
